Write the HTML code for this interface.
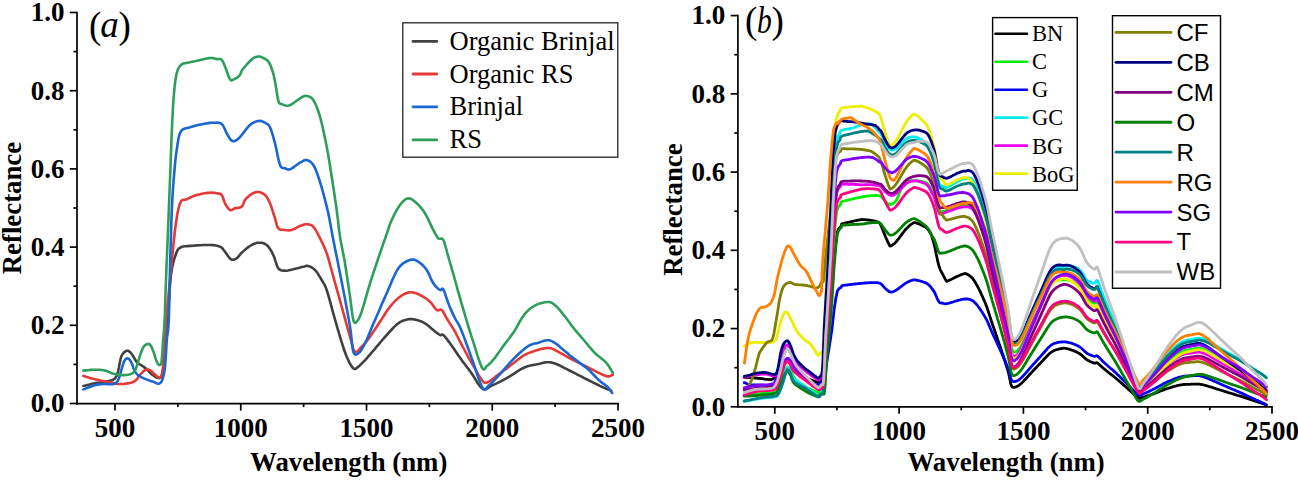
<!DOCTYPE html>
<html><head><meta charset="utf-8"><style>
html,body{margin:0;padding:0;background:#fff;width:1298px;height:480px;overflow:hidden}
svg{display:block}
.ax{stroke:#000;stroke-width:1.7;fill:none}
.tk{font-family:"Liberation Serif",serif;font-weight:bold;font-size:27px;fill:#000}
.lb{font-family:"Liberation Serif",serif;font-weight:bold;font-size:26.8px;fill:#000}
.la{font-family:"Liberation Serif",serif;font-size:26.5px;fill:#000}
.lga line{stroke-width:2.8;stroke-linecap:round}
.lb1{font-family:"Liberation Serif",serif;font-size:22.5px;fill:#000}
.lb2{font-family:"Liberation Sans",sans-serif;font-size:24px;fill:#000}
.pl{font-family:"Liberation Serif",serif;font-size:37px;fill:#000}
.it{font-style:italic}
</style></head><body>
<svg width="1298" height="480" viewBox="0 0 1298 480">
<rect width="1298" height="480" fill="#fff"/>
<path d="M83.4 386.0L85.5 385.5L87.6 384.9L89.7 384.4L91.8 383.8L93.8 383.4L95.7 383.0L97.5 382.7L99.3 382.5L101.2 382.2L103.0 381.9L105.0 381.6L107.0 381.3L109.0 381.0L110.9 380.6L112.5 380.0L113.8 379.3L114.8 378.6L115.6 377.6L116.4 376.3L117.2 374.4L118.0 371.6L118.8 367.9L119.5 364.0L120.3 360.3L121.0 357.5L121.7 355.6L122.5 354.2L123.2 353.3L124.0 352.5L124.7 351.9L125.4 351.3L126.2 351.0L126.9 350.8L127.7 350.8L128.4 351.0L129.1 351.4L129.9 352.0L130.6 352.7L131.4 353.6L132.2 354.7L133.1 356.0L134.0 357.6L134.9 359.3L135.9 360.9L136.9 362.2L138.0 363.2L139.1 364.0L140.3 364.7L141.4 365.3L142.5 366.0L143.5 366.7L144.4 367.4L145.4 368.2L146.3 368.9L147.2 369.7L148.1 370.6L149.0 371.6L149.9 372.6L150.8 373.5L151.9 374.4L153.1 375.3L154.5 376.3L155.9 377.1L157.2 377.8L158.4 378.0L159.4 378.0L160.2 377.7L161.0 377.1L161.6 376.1L162.2 374.4L162.7 371.9L163.1 368.7L163.4 365.0L163.7 361.2L164.0 357.5L164.4 353.9L164.8 350.1L165.2 346.3L165.6 342.5L166.0 338.8L166.4 334.9L166.8 330.8L167.2 326.9L167.5 323.2L167.8 320.0L168.0 317.7L168.0 316.1L168.1 314.7L168.1 312.8L168.3 310.0L168.6 305.8L168.9 300.6L169.3 295.0L169.6 289.6L170.0 285.0L170.3 281.3L170.6 278.2L170.9 275.4L171.3 272.7L171.7 270.0L172.2 267.2L172.8 264.4L173.5 261.6L174.2 259.1L175.0 256.7L175.8 254.5L176.5 252.5L177.3 250.6L178.4 249.0L180.0 247.7L182.1 246.8L184.6 246.3L187.3 246.1L190.3 245.9L193.3 245.7L196.5 245.4L200.1 245.2L203.6 245.0L207.0 245.0L210.0 245.0L212.5 245.1L214.7 245.3L216.7 245.7L218.4 246.1L220.0 246.7L221.3 247.4L222.3 248.3L223.2 249.4L224.0 250.5L225.0 251.7L226.1 253.2L227.3 255.0L228.6 256.8L229.8 258.3L231.0 259.3L232.2 259.7L233.3 259.7L234.5 259.4L235.6 258.9L236.7 258.3L237.7 257.5L238.6 256.4L239.5 255.2L240.5 254.0L241.7 252.7L243.1 251.4L244.8 249.9L246.5 248.5L248.3 247.1L250.0 246.0L251.7 245.0L253.3 244.2L255.0 243.5L256.6 242.9L258.3 242.7L260.0 242.7L261.7 242.8L263.5 243.3L265.1 244.0L266.7 245.0L268.2 246.5L269.5 248.3L270.9 250.4L272.1 252.7L273.3 255.0L274.4 257.6L275.3 260.6L276.3 263.6L277.2 266.3L278.3 268.3L279.5 269.5L280.8 270.2L282.1 270.5L283.5 270.6L285.0 270.7L286.5 270.7L288.1 270.5L289.8 270.1L291.5 269.7L293.3 269.3L295.3 268.8L297.4 268.3L299.6 267.7L301.6 267.1L303.3 266.7L304.6 266.4L305.6 266.1L306.4 265.9L307.3 265.8L308.3 266.0L309.5 266.4L310.9 267.0L312.2 267.7L313.6 268.7L315.0 270.0L316.4 271.6L317.8 273.6L319.1 275.7L320.5 277.9L321.7 280.0L322.8 281.8L323.7 283.4L324.7 285.0L325.6 287.1L326.7 290.0L327.9 293.8L329.2 298.4L330.6 303.3L331.9 308.4L333.3 313.3L334.6 318.0L336.0 322.8L337.3 327.6L338.7 332.2L340.0 336.7L341.3 341.1L342.7 345.3L344.0 349.5L345.4 353.3L346.7 356.7L348.1 359.8L349.4 362.6L350.8 365.0L352.1 367.0L353.3 368.3L354.3 368.9L355.3 368.9L356.1 368.5L357.1 367.7L358.3 366.7L359.7 365.5L361.3 364.0L363.1 362.2L364.9 360.3L366.7 358.3L368.6 356.2L370.6 353.9L372.6 351.5L374.7 349.1L376.7 346.7L378.7 344.4L380.6 342.0L382.6 339.7L384.6 337.3L386.7 335.0L388.9 332.5L391.3 330.0L393.7 327.4L396.1 325.1L398.3 323.3L400.4 321.9L402.5 320.9L404.5 320.2L406.4 319.7L408.3 319.3L410.1 319.1L411.8 319.1L413.4 319.3L415.1 319.6L416.7 320.0L418.4 320.4L420.0 321.0L421.7 321.6L423.3 322.4L425.0 323.3L426.7 324.4L428.4 325.8L430.1 327.3L431.7 328.7L433.3 330.0L434.8 331.2L436.3 332.4L437.6 333.4L438.9 334.3L440.0 335.0L440.8 335.2L441.4 335.0L441.9 334.6L442.5 334.5L443.3 335.0L444.4 336.0L445.5 337.4L446.9 339.1L448.4 341.1L450.0 343.3L451.9 345.9L454.0 349.0L456.2 352.2L458.4 355.5L460.6 358.6L462.7 361.5L464.8 364.3L466.9 367.0L469.1 369.9L471.2 372.8L473.5 376.2L475.8 380.0L478.1 383.7L480.4 386.8L482.6 388.8L484.6 389.3L486.5 388.9L488.3 387.8L490.3 386.4L492.5 385.2L495.0 384.1L497.7 382.8L500.6 381.4L503.6 379.8L506.7 378.1L510.1 376.1L513.7 373.8L517.4 371.4L521.0 369.2L524.4 367.5L527.5 366.3L530.5 365.5L533.4 364.9L536.1 364.5L538.5 364.0L540.6 363.5L542.4 363.0L544.1 362.6L545.7 362.3L547.4 362.2L549.1 362.2L550.7 362.4L552.3 362.7L554.1 363.2L556.2 364.0L558.7 365.0L561.4 366.3L564.2 367.8L567.3 369.4L570.4 371.0L573.8 372.7L577.4 374.6L581.1 376.4L584.7 378.3L588.1 380.0L591.3 381.6L594.3 383.1L597.2 384.5L599.9 385.9L602.3 387.0L604.4 387.9L606.2 388.7L607.8 389.3L609.4 389.9L611.1 390.5" stroke="#404040" stroke-width="2.6" fill="none" stroke-linejoin="round" stroke-linecap="round"/>
<path d="M83.4 375.9L84.6 376.3L85.7 376.7L86.9 377.1L88.3 377.5L90.0 378.0L92.2 378.6L94.9 379.2L97.7 379.8L100.5 380.5L103.0 381.0L105.2 381.4L107.2 381.8L109.2 382.2L110.9 382.5L112.5 382.8L113.8 383.1L114.8 383.4L115.7 383.7L116.7 383.9L118.0 384.0L119.7 384.0L121.6 384.0L123.7 383.9L125.7 383.7L127.5 383.4L129.2 383.1L130.8 382.7L132.3 382.3L133.7 381.7L135.0 381.0L136.1 380.1L137.1 378.9L138.0 377.7L138.8 376.4L139.7 375.3L140.6 374.2L141.6 373.2L142.5 372.2L143.5 371.3L144.4 370.6L145.3 370.1L146.2 369.7L147.2 369.5L148.1 369.5L149.0 369.7L149.9 370.1L150.9 370.8L151.9 371.7L152.8 372.6L153.8 373.4L154.7 374.2L155.7 375.1L156.7 376.0L157.6 376.7L158.4 377.2L159.1 377.4L159.7 377.5L160.3 377.4L160.8 377.0L161.2 376.2L161.7 375.2L162.0 374.0L162.4 372.4L162.7 370.3L163.0 367.8L163.3 364.7L163.7 361.1L164.0 357.1L164.3 352.7L164.6 348.0L164.9 342.8L165.1 337.0L165.4 331.0L165.7 325.2L166.0 320.0L166.4 315.5L166.8 311.4L167.2 307.6L167.6 303.9L168.0 300.0L168.4 296.5L168.7 293.4L169.0 290.2L169.4 285.9L170.0 280.0L170.8 271.5L171.8 261.0L172.9 249.8L174.0 239.0L175.0 230.0L176.0 222.8L176.9 216.6L177.9 211.2L178.9 206.8L180.0 203.3L181.2 201.1L182.4 200.1L183.7 199.8L185.1 199.8L186.7 199.3L188.4 198.4L190.3 197.5L192.3 196.6L194.4 195.7L196.7 195.0L199.3 194.4L202.1 193.8L205.0 193.3L207.7 192.9L210.0 192.7L211.8 192.6L213.2 192.7L214.5 192.8L215.6 193.1L216.7 193.3L217.8 193.5L218.9 193.6L219.9 193.8L220.8 194.2L221.7 195.0L222.4 196.3L223.1 197.9L223.6 199.8L224.3 201.6L225.0 203.3L225.9 204.9L226.9 206.5L227.9 208.0L229.0 209.2L230.0 210.0L231.0 210.2L231.9 209.9L232.9 209.4L233.9 208.8L235.0 208.3L236.3 208.1L237.7 207.9L239.2 207.7L240.6 207.3L241.7 206.7L242.5 205.7L243.1 204.4L243.6 202.9L244.2 201.4L245.0 200.0L246.1 198.7L247.4 197.4L248.9 196.1L250.3 194.9L251.7 194.0L253.0 193.3L254.3 192.7L255.7 192.2L257.0 192.0L258.3 192.0L259.7 192.2L261.1 192.6L262.4 193.2L263.8 194.0L265.0 195.0L266.1 196.2L267.1 197.6L268.1 199.2L269.0 201.1L270.0 203.3L271.0 206.0L272.1 209.1L273.1 212.3L274.1 215.5L275.0 218.3L275.7 220.8L276.3 223.1L276.8 225.1L277.4 226.9L278.3 228.3L279.4 229.2L280.7 229.7L282.2 229.8L283.6 229.9L285.0 230.0L286.3 230.2L287.6 230.3L288.9 230.4L290.3 230.3L291.7 230.0L293.3 229.4L295.0 228.6L296.7 227.6L298.4 226.7L300.0 226.0L301.4 225.4L302.8 225.0L304.1 224.6L305.4 224.3L306.7 224.3L308.0 224.4L309.3 224.5L310.7 224.9L312.0 225.6L313.3 226.7L314.6 228.4L316.0 230.5L317.3 233.0L318.7 235.6L320.0 238.3L321.3 240.9L322.7 243.7L324.0 246.5L325.4 249.7L326.7 253.3L328.0 257.3L329.3 261.7L330.5 266.5L331.9 271.5L333.3 276.7L334.9 282.3L336.5 288.2L338.3 294.4L340.0 300.6L341.7 306.7L343.4 312.9L345.2 319.4L346.9 325.8L348.6 331.7L350.0 336.7L351.2 341.0L352.2 344.7L353.0 347.9L353.9 350.2L355.0 351.7L356.2 352.1L357.5 351.4L358.8 350.0L360.2 348.3L361.7 346.7L363.2 345.1L364.8 343.3L366.5 341.3L368.2 339.1L370.0 336.7L371.9 334.0L373.9 331.1L375.9 327.9L378.0 324.8L380.0 321.7L382.0 318.6L384.0 315.5L386.0 312.3L388.0 309.4L390.0 306.7L392.0 304.3L394.0 302.1L396.0 300.1L398.0 298.3L400.0 296.7L402.0 295.3L404.0 294.2L406.0 293.3L408.0 292.6L410.0 292.3L412.0 292.3L414.0 292.7L416.0 293.3L418.0 294.1L420.0 295.0L422.1 296.1L424.2 297.3L426.2 298.7L428.2 300.2L430.0 301.7L431.6 303.4L433.0 305.3L434.3 307.2L435.5 308.8L436.7 310.0L437.8 310.4L438.8 310.2L439.8 309.8L440.7 309.6L441.7 310.0L442.6 311.0L443.5 312.5L444.5 314.2L445.5 316.2L446.7 318.3L448.2 320.7L449.9 323.4L451.7 326.3L453.5 329.1L455.0 331.7L456.2 333.9L457.2 335.9L458.1 337.8L459.2 340.0L460.6 342.7L462.4 346.1L464.5 350.0L466.7 354.1L469.0 358.3L471.2 362.2L473.5 366.1L475.8 370.2L478.0 374.1L480.1 377.5L481.9 380.0L483.2 381.6L484.2 382.5L485.1 382.8L486.0 382.7L487.2 382.4L488.6 381.8L490.2 380.8L491.9 379.5L493.8 378.0L496.0 376.4L498.5 374.6L501.3 372.5L504.3 370.2L507.3 367.9L510.2 365.7L513.0 363.5L515.9 361.2L518.7 359.0L521.6 356.9L524.4 355.1L527.3 353.6L530.2 352.4L533.1 351.4L535.9 350.6L538.5 349.8L540.9 349.1L543.1 348.6L545.2 348.2L547.2 348.0L549.2 348.0L551.0 348.3L552.7 348.9L554.3 349.7L556.0 350.6L558.0 351.6L560.2 352.8L562.6 354.2L565.1 355.6L567.7 357.1L570.4 358.6L573.1 360.0L576.0 361.4L578.8 362.9L581.7 364.3L584.6 365.7L587.5 367.2L590.5 368.7L593.5 370.2L596.3 371.6L598.8 372.8L600.9 373.8L602.8 374.8L604.6 375.5L606.1 376.1L607.6 376.4L608.9 376.4L610.0 376.1L611.0 375.6L611.9 375.0L612.9 374.6" stroke="#e53935" stroke-width="2.6" fill="none" stroke-linejoin="round" stroke-linecap="round"/>
<path d="M83.4 389.4L85.5 388.6L87.6 387.8L89.7 387.0L91.8 386.2L93.8 385.6L95.6 385.1L97.4 384.7L99.2 384.4L101.0 384.2L103.0 384.0L105.3 384.0L107.7 384.1L110.2 384.2L112.5 384.1L114.4 383.8L115.8 383.1L116.7 382.3L117.5 381.3L118.2 379.9L119.0 378.0L120.0 375.3L120.9 371.8L121.9 368.1L122.9 364.8L123.8 362.2L124.6 360.6L125.3 359.5L126.0 358.8L126.8 358.5L127.5 358.4L128.2 358.6L129.0 359.1L129.8 359.9L130.5 361.0L131.2 362.2L132.0 363.8L132.7 365.8L133.4 367.9L134.2 369.9L135.0 371.6L135.8 372.8L136.6 373.8L137.5 374.7L138.5 375.5L139.7 376.2L141.2 377.1L142.9 377.9L144.7 378.7L146.4 379.4L148.0 380.0L149.3 380.5L150.5 380.9L151.7 381.2L152.7 381.6L153.8 381.9L154.8 382.4L155.7 382.9L156.7 383.4L157.5 383.7L158.4 383.8L159.2 383.5L160.0 383.1L160.8 382.4L161.5 381.4L162.2 380.0L162.8 378.2L163.4 376.2L164.0 373.7L164.5 370.6L165.0 366.9L165.4 362.1L165.8 356.3L166.2 350.1L166.5 344.0L166.9 338.8L167.3 335.2L167.6 333.0L168.0 330.7L168.4 326.9L168.8 320.0L169.1 309.0L169.5 294.7L169.8 279.0L170.1 263.5L170.5 250.0L170.9 238.4L171.2 227.6L171.5 217.6L171.9 208.4L172.3 200.0L172.7 192.6L173.2 186.1L173.6 180.3L174.1 175.0L174.5 170.0L174.9 165.3L175.3 161.2L175.7 157.4L176.1 153.7L176.7 150.0L177.3 146.0L177.9 141.9L178.6 137.9L179.5 134.4L180.7 131.7L182.2 129.9L183.8 128.9L185.7 128.3L187.8 127.9L190.0 127.3L192.5 126.5L195.2 125.8L198.0 125.1L200.8 124.5L203.3 124.0L205.5 123.6L207.6 123.2L209.6 122.9L211.5 122.8L213.3 122.7L215.1 122.7L216.9 122.6L218.7 122.8L220.3 123.2L221.7 124.0L222.9 125.4L223.9 127.2L224.9 129.3L225.8 131.4L226.7 133.3L227.7 135.0L228.7 136.8L229.7 138.4L230.7 139.8L231.7 140.7L232.7 141.1L233.7 141.2L234.7 141.0L235.7 140.5L236.7 140.0L237.6 139.4L238.5 138.5L239.5 137.6L240.5 136.4L241.7 135.0L243.1 133.2L244.8 131.1L246.5 128.8L248.3 126.7L250.0 125.0L251.7 123.7L253.4 122.7L255.1 121.9L256.7 121.3L258.3 121.0L259.8 120.9L261.2 121.1L262.5 121.5L263.8 122.1L265.0 122.7L266.1 123.3L267.1 123.8L268.1 124.5L269.0 125.6L270.0 127.3L271.0 129.7L272.0 132.6L273.0 135.9L274.0 139.6L275.0 143.3L276.0 147.6L277.0 152.5L278.0 157.4L279.0 161.7L280.0 165.0L281.0 166.9L282.0 167.8L283.0 168.0L284.0 168.1L285.0 168.3L286.0 168.7L286.9 169.1L287.9 169.4L288.9 169.5L290.0 169.3L291.3 168.7L292.7 167.9L294.2 166.8L295.6 165.8L296.7 165.0L297.5 164.4L298.1 164.0L298.6 163.6L299.2 163.2L300.0 162.7L301.1 162.1L302.4 161.3L303.9 160.5L305.3 160.1L306.7 160.0L308.1 160.4L309.4 161.1L310.8 162.1L312.1 163.4L313.3 165.0L314.4 166.8L315.4 169.0L316.4 171.3L317.3 173.9L318.3 176.7L319.3 179.7L320.3 182.8L321.3 186.2L322.3 189.7L323.3 193.3L324.3 197.0L325.3 200.9L326.3 204.9L327.3 209.0L328.3 213.3L329.2 217.8L330.1 222.6L331.0 227.4L331.9 232.2L332.7 236.7L333.5 240.7L334.2 244.3L334.9 247.9L335.7 251.9L336.7 256.7L337.9 262.5L339.1 268.9L340.5 275.8L341.9 282.9L343.3 290.0L344.7 297.3L346.1 305.0L347.6 312.7L348.9 320.1L350.0 326.7L350.9 332.8L351.5 338.7L352.0 343.9L352.6 348.4L353.3 351.7L354.2 353.7L355.1 354.6L356.1 354.6L357.2 354.1L358.3 353.3L359.5 352.3L360.7 350.8L362.0 348.8L363.4 346.3L365.0 343.3L366.8 339.5L368.7 335.1L370.7 330.2L372.8 325.1L375.0 320.0L377.2 314.9L379.6 309.5L381.9 304.0L384.3 298.6L386.7 293.3L389.0 287.9L391.3 282.4L393.7 277.0L396.0 272.2L398.3 268.3L400.7 265.4L403.1 263.3L405.6 261.8L407.9 260.8L410.0 260.0L411.9 259.6L413.6 259.6L415.1 260.1L416.7 260.8L418.3 261.7L420.0 262.9L421.7 264.3L423.5 266.0L425.1 267.9L426.7 270.0L428.1 272.4L429.5 275.3L430.7 278.2L432.0 281.0L433.3 283.3L434.7 285.2L436.1 286.8L437.6 288.2L438.9 289.2L440.0 290.0L440.9 290.1L441.5 289.5L442.0 288.9L442.6 288.6L443.3 289.3L444.2 291.1L445.1 293.8L446.1 296.9L447.2 300.2L448.3 303.3L449.5 306.3L450.9 309.5L452.3 312.6L453.7 315.6L455.0 318.3L456.1 320.4L457.1 321.9L458.0 323.3L459.2 325.4L460.6 328.5L462.4 333.0L464.5 338.4L466.7 344.5L469.0 350.8L471.2 356.9L473.6 363.5L476.0 370.8L478.4 377.9L480.6 383.9L482.6 388.0L484.1 389.7L485.3 389.7L486.4 388.5L487.5 386.8L489.0 385.2L490.8 383.7L492.8 381.8L494.9 379.6L497.2 377.2L499.6 374.6L502.2 371.7L505.0 368.4L507.9 365.0L510.9 361.7L513.8 358.6L516.7 355.8L519.6 353.0L522.6 350.4L525.4 348.1L528.0 346.2L530.4 345.0L532.5 344.1L534.6 343.6L536.6 343.2L538.5 342.7L540.4 342.1L542.3 341.4L544.0 340.8L545.8 340.4L547.4 340.2L548.9 340.3L550.3 340.6L551.6 341.1L553.0 341.8L554.5 342.7L556.1 343.8L557.8 345.1L559.6 346.6L561.4 348.2L563.3 349.8L565.3 351.4L567.3 353.1L569.4 354.9L571.6 356.7L574.0 358.6L576.7 360.6L579.6 362.7L582.5 364.9L585.4 367.1L588.1 369.3L590.5 371.5L592.7 373.8L594.8 376.0L596.8 378.1L598.8 380.0L600.7 381.7L602.6 383.1L604.5 384.4L606.1 385.7L607.6 387.0L608.8 388.3L609.7 389.5L610.6 390.6L611.3 391.8L612.2 393.0" stroke="#1a66d2" stroke-width="2.6" fill="none" stroke-linejoin="round" stroke-linecap="round"/>
<path d="M83.4 370.6L85.9 370.4L88.4 370.2L90.9 369.9L93.3 369.8L95.6 369.7L97.7 369.7L99.7 369.8L101.5 370.0L103.3 370.3L105.0 370.6L106.6 371.1L108.1 371.6L109.6 372.3L111.0 372.9L112.5 373.4L114.0 373.8L115.4 374.2L116.9 374.6L118.4 374.8L120.0 375.0L121.8 375.1L123.8 375.1L125.8 375.0L127.7 374.8L129.4 374.4L130.8 374.0L132.0 373.5L133.1 372.8L134.1 371.9L135.0 370.6L135.9 368.8L136.6 366.7L137.3 364.3L138.0 361.8L138.8 359.4L139.6 356.9L140.5 354.2L141.4 351.5L142.4 349.1L143.4 347.2L144.5 345.8L145.7 344.8L146.8 344.2L148.0 343.9L149.0 344.0L149.9 344.5L150.6 345.5L151.4 346.8L152.1 348.3L152.8 350.0L153.6 352.0L154.4 354.5L155.2 357.0L155.9 359.4L156.6 361.2L157.2 362.6L157.8 363.6L158.4 364.4L158.9 364.9L159.4 365.0L159.9 365.0L160.4 364.8L160.8 364.2L161.2 363.1L161.6 361.2L161.9 358.5L162.2 355.0L162.5 351.0L162.7 346.7L163.0 342.5L163.3 338.5L163.6 334.6L164.0 330.4L164.3 325.7L164.6 320.0L164.9 313.8L165.1 307.2L165.3 299.7L165.6 290.8L166.0 280.0L166.5 266.4L167.2 250.4L167.9 233.2L168.6 216.0L169.2 200.0L169.8 184.8L170.4 169.5L170.9 154.9L171.4 141.5L171.9 130.0L172.3 120.8L172.7 113.4L173.0 107.2L173.3 101.7L173.8 96.2L174.2 90.8L174.7 85.8L175.3 81.2L175.9 77.2L176.6 73.8L177.4 71.0L178.2 68.9L179.1 67.2L180.1 65.9L181.2 64.8L182.5 63.9L184.0 63.3L185.5 63.1L187.1 62.8L188.8 62.5L190.5 62.1L192.4 61.7L194.3 61.3L196.2 61.0L198.0 60.6L199.7 60.2L201.3 59.8L202.8 59.4L204.2 59.0L205.6 58.8L206.9 58.5L208.0 58.3L209.1 58.1L210.2 58.0L211.2 58.0L212.4 58.1L213.6 58.3L214.7 58.6L215.8 58.9L216.9 59.1L217.9 59.1L218.9 59.0L219.8 59.0L220.7 59.1L221.6 59.7L222.4 60.7L223.1 62.0L223.8 63.5L224.5 65.3L225.3 67.2L226.2 69.5L227.2 72.3L228.1 75.2L229.1 77.7L230.0 79.4L230.8 80.2L231.5 80.5L232.2 80.3L232.9 79.8L233.8 79.4L234.8 78.9L236.0 78.2L237.3 77.4L238.4 76.5L239.4 75.6L240.1 74.6L240.6 73.5L241.1 72.3L241.6 71.1L242.2 70.0L243.0 68.9L243.9 67.8L244.9 66.6L245.9 65.5L246.9 64.4L248.0 63.2L249.1 62.0L250.2 60.8L251.4 59.7L252.5 58.8L253.6 58.0L254.8 57.4L255.9 57.0L257.0 56.7L258.1 56.5L259.1 56.5L260.0 56.6L260.9 56.9L261.8 57.3L262.8 57.8L263.9 58.3L265.0 58.8L266.2 59.5L267.3 60.4L268.4 61.6L269.4 63.2L270.3 65.1L271.2 67.3L272.0 69.6L272.8 71.9L273.5 74.3L274.0 76.8L274.6 79.4L275.1 82.1L275.6 85.0L276.2 88.2L276.7 91.8L277.3 95.4L277.8 98.6L278.4 101.0L278.9 102.5L279.3 103.2L279.8 103.5L280.4 103.7L281.2 104.0L282.5 104.5L283.9 105.0L285.5 105.5L287.2 105.7L288.8 105.6L290.3 105.1L291.8 104.2L293.4 103.1L294.9 102.0L296.2 101.0L297.5 100.1L298.7 99.3L299.8 98.5L300.9 97.8L301.9 97.2L302.9 96.7L303.8 96.3L304.7 96.0L305.6 95.9L306.7 96.0L307.9 96.3L309.2 96.6L310.6 97.2L311.9 98.3L313.3 100.0L314.6 102.3L316.0 105.1L317.3 108.5L318.7 112.3L320.0 116.7L321.4 121.8L322.8 127.7L324.1 134.1L325.5 140.5L326.7 146.7L327.8 152.6L328.8 158.5L329.8 164.5L330.7 170.5L331.7 176.7L332.7 183.3L333.8 190.1L334.8 197.0L335.8 203.7L336.7 210.0L337.4 215.8L338.1 221.2L338.6 226.3L339.3 231.5L340.0 236.7L340.9 241.9L341.9 247.0L342.9 252.2L344.0 257.5L345.0 263.3L346.0 269.7L347.1 276.7L348.1 283.7L349.1 290.6L350.0 296.7L350.8 302.4L351.4 307.8L352.1 312.7L352.7 316.9L353.3 320.0L353.9 321.9L354.6 322.8L355.2 322.9L355.9 322.5L356.7 321.7L357.5 320.7L358.4 319.4L359.4 317.6L360.5 315.1L361.7 311.7L363.1 307.2L364.7 301.7L366.4 295.7L368.2 289.4L370.0 283.3L372.0 277.2L374.1 270.8L376.2 264.5L378.2 258.5L380.0 253.3L381.5 249.0L382.7 245.4L383.8 242.2L384.9 239.2L386.0 236.0L387.1 232.7L388.2 229.5L389.2 226.3L390.4 223.1L391.7 220.0L393.2 216.8L394.8 213.5L396.6 210.4L398.3 207.5L400.0 205.0L401.7 202.9L403.3 201.2L405.0 199.7L406.6 198.8L408.3 198.3L410.0 198.5L411.7 199.2L413.3 200.4L415.0 201.8L416.7 203.3L418.4 204.9L420.0 206.6L421.7 208.6L423.3 210.8L425.0 213.3L426.7 216.3L428.5 219.9L430.2 223.6L431.9 227.1L433.3 230.0L434.5 232.3L435.5 234.2L436.5 235.9L437.4 237.2L438.3 238.3L439.3 238.8L440.3 238.7L441.3 238.6L442.3 238.8L443.3 240.0L444.3 242.3L445.2 245.3L446.2 248.8L447.2 252.7L448.3 256.7L449.5 261.0L450.9 265.7L452.3 270.6L453.7 275.4L455.0 280.0L456.1 284.0L457.1 287.6L458.0 291.2L459.2 295.2L460.6 300.2L462.4 306.4L464.5 313.4L466.7 321.0L469.0 328.5L471.2 335.6L473.5 342.7L475.8 350.2L478.0 357.3L480.1 363.3L481.9 367.5L483.3 369.4L484.3 369.5L485.2 368.4L486.1 366.9L487.2 365.7L488.5 364.7L489.8 363.5L491.3 362.1L492.7 360.4L494.3 358.6L495.9 356.5L497.6 354.1L499.4 351.6L501.2 348.9L503.1 346.2L505.1 343.6L507.2 340.8L509.4 338.0L511.6 335.1L513.8 332.0L515.9 328.6L518.0 324.8L520.1 321.0L522.3 317.4L524.4 314.4L526.5 312.0L528.6 310.0L530.6 308.3L532.8 306.8L535.0 305.5L537.4 304.4L540.1 303.4L542.7 302.7L545.2 302.2L547.4 302.0L549.1 302.0L550.5 302.3L551.8 302.9L553.1 303.7L554.5 304.8L556.1 306.2L557.8 307.9L559.6 309.9L561.4 312.1L563.3 314.4L565.3 317.0L567.4 319.8L569.6 322.8L571.8 325.7L574.0 328.5L576.1 331.1L578.2 333.6L580.4 336.1L582.5 338.5L584.6 341.0L586.7 343.5L588.8 346.1L591.0 348.6L593.1 351.1L595.2 353.3L597.4 355.3L599.6 357.0L601.8 358.7L603.9 360.4L605.8 362.2L607.4 364.2L608.9 366.3L610.2 368.5L611.5 370.7L612.9 372.8" stroke="#2e9e5b" stroke-width="2.6" fill="none" stroke-linejoin="round" stroke-linecap="round"/>
<path d="M745.0 377.5L746.4 377.6L747.8 377.6L749.1 377.7L750.5 377.7L752.0 377.8L753.5 377.9L755.0 378.0L756.5 378.2L758.2 378.3L760.0 378.5L762.1 378.7L764.5 379.1L767.0 379.4L769.2 379.5L771.0 379.5L772.2 379.3L773.1 378.9L773.7 378.4L774.3 377.6L775.0 376.6L775.8 375.3L776.6 373.6L777.5 371.8L778.3 369.9L779.0 368.0L779.7 366.0L780.3 364.0L780.8 361.9L781.4 359.8L782.0 358.0L782.6 356.3L783.2 354.7L783.8 353.3L784.4 352.0L785.0 351.0L785.5 350.2L786.0 349.6L786.5 349.2L787.0 349.0L787.5 349.0L788.0 349.2L788.4 349.6L788.9 350.1L789.4 350.9L790.0 352.0L790.7 353.4L791.5 355.3L792.3 357.3L793.2 359.2L794.0 361.0L794.8 362.5L795.5 363.8L796.2 365.1L797.1 366.5L798.0 368.0L799.1 369.8L800.3 371.9L801.6 374.0L803.0 375.9L804.2 377.3L805.4 378.2L806.5 378.7L807.7 379.0L808.8 379.2L810.0 379.5L811.2 380.0L812.5 380.5L813.7 380.9L814.8 381.4L815.8 381.7L816.6 382.0L817.2 382.3L817.7 382.5L818.2 382.5L818.8 382.4L819.3 382.0L819.9 381.3L820.5 380.6L821.1 379.7L821.7 379.0L822.3 379.0L822.7 379.0L823.0 379.0L823.4 379.0L823.8 379.0L824.1 377.9L824.5 374.4L824.9 371.0L825.3 365.8L825.6 359.9L826.0 353.9L826.4 348.7L826.8 344.9L827.1 341.2L827.5 337.4L827.9 333.7L828.2 329.9L828.6 326.1L829.0 322.4L829.4 318.5L829.7 314.6L830.1 310.7L830.5 306.8L830.9 302.9L831.2 299.0L831.6 294.6L832.0 289.3L832.4 284.1L832.7 278.8L833.1 273.5L833.5 268.2L833.8 262.9L834.2 258.6L834.6 254.6L835.0 250.7L835.3 246.8L835.7 242.8L836.1 240.2L836.5 237.5L836.8 234.8L837.2 232.1L837.6 231.3L837.9 230.5L838.3 229.7L838.7 228.8L839.1 228.2L839.4 227.8L839.8 227.5L840.2 227.1L840.6 226.8L840.9 226.5L841.3 226.1L841.4 224.2L842.2 223.8L842.9 223.5L843.7 223.3L844.4 223.1L845.2 223.0L845.9 222.9L846.6 222.7L847.4 222.6L848.1 222.4L848.9 222.2L849.6 222.0L850.4 221.8L851.1 221.7L851.9 221.5L852.6 221.3L853.4 221.2L854.1 221.0L854.8 220.8L855.6 220.7L856.3 220.5L857.1 220.4L857.8 220.2L858.6 220.1L859.3 220.0L860.1 219.8L860.8 219.7L861.6 219.5L862.3 219.5L863.1 219.6L863.8 219.6L864.5 219.7L865.3 219.7L866.0 219.8L866.8 219.9L867.5 219.9L868.3 220.0L869.0 220.1L869.8 220.2L870.5 220.3L871.3 220.5L872.0 220.6L872.7 220.7L873.5 220.9L874.2 221.0L875.0 221.1L875.7 221.3L876.5 221.5L877.2 221.7L878.0 222.0L878.7 222.3L879.5 222.9L880.2 224.1L881.0 225.5L881.7 227.1L882.4 228.9L883.2 230.9L883.9 232.9L884.7 234.8L885.4 236.5L886.2 238.3L886.9 240.0L887.7 241.6L888.4 243.2L889.2 244.7L889.9 246.0L890.6 245.9L891.4 245.6L892.1 245.3L892.9 244.7L893.6 244.2L894.4 243.5L895.1 242.8L895.9 242.1L896.6 241.2L897.4 240.3L898.1 239.3L898.9 238.4L899.6 237.4L900.3 236.4L901.1 235.4L901.8 234.4L902.6 233.3L903.3 232.3L904.1 231.3L904.8 230.4L905.6 229.5L906.3 228.7L907.1 227.9L907.8 227.2L908.5 226.5L909.3 225.8L910.0 225.2L910.8 224.6L911.5 224.1L912.3 223.6L913.0 223.1L913.8 222.6L914.5 222.6L915.3 222.7L916.0 222.9L916.8 223.1L917.5 223.4L918.2 223.7L919.0 224.0L919.7 224.3L920.5 224.6L921.2 225.0L922.0 225.3L922.7 225.7L923.5 226.1L924.2 226.4L925.0 226.8L925.7 227.3L926.4 227.8L927.2 228.5L927.9 229.3L928.7 230.3L929.4 231.4L930.2 232.7L930.9 234.0L931.7 235.8L932.4 238.4L933.2 240.9L933.9 243.5L934.6 246.4L935.4 249.8L936.1 253.5L936.9 257.2L937.6 260.7L938.4 263.9L939.1 266.6L939.9 268.7L940.6 270.4L941.4 271.8L942.1 273.1L942.9 274.5L943.6 276.0L944.3 277.5L945.1 278.9L945.8 280.1L946.6 281.3L947.3 281.1L948.1 280.8L948.8 280.4L949.6 280.1L950.3 279.8L951.1 279.4L951.8 279.0L952.5 278.7L953.3 278.3L954.0 277.9L954.8 277.6L955.5 277.2L956.3 276.8L957.0 276.4L957.8 276.1L958.5 275.8L959.3 275.5L960.0 275.2L960.8 274.9L961.5 274.6L962.2 274.3L963.0 274.0L963.7 273.8L964.5 273.6L965.2 273.5L966.0 273.7L966.7 274.0L967.5 274.4L968.2 274.8L969.0 275.3L969.7 275.9L970.4 276.4L971.2 277.1L971.9 277.8L972.7 278.6L973.4 279.6L974.2 280.6L974.9 281.8L975.7 283.1L976.4 284.4L977.2 285.7L977.9 287.1L978.7 288.5L979.4 290.0L980.1 291.5L980.9 293.1L981.6 294.8L982.4 296.4L983.1 298.1L983.9 299.8L984.6 301.5L985.4 303.3L986.1 305.2L986.9 307.1L987.6 309.3L988.3 311.5L989.1 313.9L989.8 316.2L990.6 318.6L991.3 320.9L992.1 323.1L992.8 325.3L993.6 327.4L994.3 329.6L995.1 331.8L995.8 333.9L996.6 336.1L997.3 338.3L998.0 340.4L998.8 342.6L999.5 344.8L1000.3 347.0L1001.0 349.2L1001.8 351.5L1002.5 353.8L1003.3 356.0L1004.0 358.3L1004.8 360.6L1005.5 363.0L1006.2 365.3L1007.0 367.7L1007.7 370.2L1008.5 372.9L1009.2 376.0L1010.0 379.9L1010.7 383.6L1011.5 385.9L1012.2 386.9L1013.0 387.3L1013.7 387.4L1014.5 387.3L1015.2 387.1L1015.9 386.9L1016.7 386.6L1017.4 386.2L1018.2 385.8L1018.9 385.3L1019.7 384.7L1020.4 384.1L1021.2 383.5L1021.9 382.8L1022.7 382.1L1023.4 381.4L1024.1 380.6L1024.9 379.8L1025.6 379.0L1026.4 378.1L1027.1 377.3L1027.9 376.5L1028.6 375.7L1029.4 374.8L1030.1 374.0L1030.9 373.2L1031.6 372.4L1032.3 371.6L1033.1 370.8L1033.8 370.0L1034.6 369.3L1035.3 368.5L1036.1 367.7L1036.8 366.9L1037.6 366.1L1038.3 365.3L1039.1 364.5L1039.8 363.8L1040.6 363.0L1041.3 362.2L1042.0 361.4L1042.8 360.7L1043.5 359.8L1044.3 359.0L1045.0 358.2L1045.8 357.4L1046.5 356.6L1047.3 355.8L1048.0 355.0L1048.8 354.3L1049.5 353.6L1050.2 353.0L1051.0 352.4L1051.7 351.9L1052.5 351.4L1053.2 351.0L1054.0 350.6L1054.7 350.3L1055.5 350.0L1056.2 349.7L1057.0 349.5L1057.7 349.3L1058.5 349.1L1059.2 348.9L1059.9 348.8L1060.7 348.6L1061.4 348.5L1062.2 348.4L1062.9 348.3L1063.7 348.2L1064.4 348.2L1065.2 348.3L1065.9 348.4L1066.7 348.6L1067.4 348.7L1068.1 348.9L1068.9 349.1L1069.6 349.3L1070.4 349.6L1071.1 349.8L1071.9 350.1L1072.6 350.3L1073.4 350.6L1074.1 350.9L1074.9 351.2L1075.6 351.6L1076.4 351.9L1077.1 352.3L1077.8 352.7L1078.6 353.1L1079.3 353.5L1080.1 354.0L1080.8 354.5L1081.6 355.1L1082.3 355.8L1083.1 356.5L1083.8 357.2L1084.6 357.9L1085.3 358.5L1086.0 359.1L1086.8 359.7L1087.5 360.1L1088.3 360.6L1089.0 360.9L1089.8 361.3L1090.5 361.7L1091.3 362.0L1092.0 362.3L1092.8 362.6L1093.5 362.8L1094.3 363.1L1095.0 363.1L1095.7 362.9L1096.5 362.7L1097.2 362.9L1098.0 363.4L1098.7 364.0L1099.5 364.7L1100.2 365.4L1101.0 366.1L1101.7 366.8L1102.5 367.4L1103.2 368.1L1103.9 368.7L1104.7 369.3L1105.4 369.9L1106.2 370.5L1106.9 371.2L1107.7 371.8L1108.4 372.4L1109.2 373.0L1109.9 373.6L1110.7 374.1L1111.4 374.7L1112.2 375.2L1112.9 375.8L1113.6 376.4L1114.4 377.0L1115.1 377.6L1115.9 378.2L1116.6 378.9L1117.4 379.5L1118.1 380.2L1118.9 380.8L1119.6 381.5L1120.4 382.1L1121.1 382.8L1121.8 383.4L1122.6 384.1L1123.3 384.8L1124.1 385.4L1124.8 386.1L1125.6 386.7L1126.3 387.4L1127.1 388.1L1127.8 388.7L1128.6 389.4L1129.3 390.1L1130.0 390.8L1130.8 391.5L1131.5 392.1L1132.3 392.8L1133.0 393.5L1133.8 394.2L1134.5 394.8L1135.3 395.5L1136.0 396.1L1136.8 396.7L1137.5 397.3L1138.3 397.8L1139.0 398.2L1139.7 398.4L1140.5 398.3L1141.2 398.0L1142.0 397.6L1142.7 397.3L1143.5 397.0L1144.2 396.8L1145.0 396.6L1145.7 396.4L1146.5 396.2L1147.2 395.9L1147.9 395.7L1148.7 395.5L1149.4 395.2L1150.2 394.9L1150.9 394.7L1151.7 394.4L1152.4 394.2L1153.2 393.9L1153.9 393.6L1154.7 393.4L1155.4 393.1L1156.2 392.8L1156.9 392.5L1157.6 392.2L1158.4 391.9L1159.1 391.6L1159.9 391.3L1160.6 391.0L1161.4 390.7L1162.1 390.4L1162.9 390.1L1163.6 389.9L1164.4 389.6L1165.1 389.3L1165.8 389.0L1166.6 388.8L1167.3 388.5L1168.1 388.3L1168.8 388.0L1169.6 387.8L1170.3 387.6L1171.1 387.3L1171.8 387.1L1172.6 386.9L1173.3 386.7L1174.1 386.5L1174.8 386.3L1175.5 386.1L1176.3 385.9L1177.0 385.7L1177.8 385.5L1178.5 385.4L1179.3 385.2L1180.0 385.0L1180.8 384.9L1181.5 384.8L1182.3 384.7L1183.0 384.6L1183.7 384.5L1184.5 384.5L1185.2 384.4L1186.0 384.4L1186.7 384.3L1187.5 384.3L1188.2 384.3L1189.0 384.3L1189.7 384.3L1190.5 384.3L1191.2 384.2L1192.0 384.2L1192.7 384.2L1193.4 384.2L1194.2 384.2L1194.9 384.1L1195.7 384.1L1196.4 384.1L1197.2 384.1L1197.9 384.1L1198.7 384.2L1199.4 384.2L1200.2 384.3L1200.9 384.4L1201.6 384.5L1202.4 384.7L1203.1 384.8L1203.9 385.0L1204.6 385.2L1205.4 385.4L1206.1 385.6L1206.9 385.8L1207.6 386.0L1208.4 386.3L1209.1 386.5L1209.8 386.7L1210.6 386.9L1211.3 387.2L1212.1 387.4L1212.8 387.6L1213.6 387.9L1214.3 388.1L1215.1 388.3L1215.8 388.6L1216.6 388.8L1217.3 389.1L1218.1 389.3L1218.8 389.5L1219.5 389.8L1220.3 390.0L1221.0 390.2L1221.8 390.5L1222.5 390.7L1223.3 390.9L1224.0 391.2L1224.8 391.4L1225.5 391.6L1226.3 391.9L1227.0 392.1L1227.7 392.3L1228.5 392.6L1229.2 392.8L1230.0 393.0L1230.7 393.2L1231.5 393.5L1232.2 393.7L1233.0 393.9L1233.7 394.1L1234.5 394.4L1235.2 394.6L1236.0 394.8L1236.7 395.1L1237.4 395.3L1238.2 395.5L1238.9 395.7L1239.7 396.0L1240.4 396.2L1241.2 396.4L1241.9 396.7L1242.7 396.9L1243.4 397.2L1244.2 397.4L1244.9 397.7L1245.6 397.9L1246.4 398.2L1247.1 398.4L1247.9 398.7L1248.6 399.0L1249.4 399.2L1250.1 399.5L1250.9 399.7L1251.6 400.0L1252.4 400.2L1253.1 400.5L1253.9 400.7L1254.6 400.9L1255.3 401.2L1256.1 401.4L1256.8 401.6L1257.6 401.9L1258.3 402.1L1259.1 402.3L1259.8 402.6L1260.6 402.8L1261.3 403.1L1262.1 403.3L1262.8 403.6L1263.5 403.8L1264.3 404.1L1265.0 404.4L1265.8 404.7L1266.5 405.0" stroke="#000000" stroke-width="2.8" fill="none" stroke-linejoin="round" stroke-linecap="round"/>
<path d="M746.0 395.5L746.8 395.4L747.5 395.4L748.2 395.3L749.1 395.3L750.4 395.1L752.0 394.8L754.0 394.5L756.1 394.2L758.4 393.8L760.8 393.5L763.5 393.3L766.5 393.2L769.5 393.1L772.3 392.9L774.4 392.5L775.8 392.0L776.6 391.5L777.0 390.9L777.4 390.1L778.0 389.0L778.7 387.6L779.4 385.8L780.1 383.9L780.8 382.0L781.5 380.0L782.2 378.0L782.9 375.7L783.7 373.5L784.3 371.6L785.0 370.0L785.6 368.8L786.2 368.0L786.7 367.4L787.2 367.0L787.8 367.0L788.4 367.3L789.0 367.9L789.6 368.8L790.3 369.8L791.0 371.0L791.7 372.4L792.3 374.0L793.0 375.7L793.9 377.4L795.0 379.0L796.5 380.5L798.3 382.0L800.2 383.5L802.2 384.8L804.0 386.0L805.7 387.0L807.3 387.9L809.0 388.7L810.5 389.3L812.0 390.0L813.4 390.7L814.9 391.3L816.2 391.9L817.4 392.3L818.5 392.5L819.4 392.3L820.0 391.9L820.6 391.2L821.1 390.6L821.7 390.0L822.3 390.0L822.7 390.0L823.0 390.0L823.4 390.0L823.8 387.2L824.1 383.0L824.5 378.8L824.9 371.6L825.3 364.3L825.6 357.1L826.0 351.6L826.4 347.1L826.8 342.5L827.1 337.9L827.5 333.4L827.9 328.8L828.2 324.2L828.6 319.6L829.0 314.9L829.4 310.1L829.7 305.4L830.1 300.6L830.5 295.9L830.9 291.1L831.2 285.3L831.6 278.9L832.0 272.4L832.4 266.0L832.7 259.6L833.1 253.2L833.5 246.8L833.8 242.0L834.2 237.2L834.6 232.4L835.0 227.6L835.3 223.4L835.7 220.1L836.1 216.9L836.5 213.6L836.8 211.1L837.2 210.1L837.6 209.1L837.9 208.1L838.3 207.1L838.7 206.5L839.1 206.1L839.4 205.7L839.8 205.3L840.2 204.8L840.6 204.4L840.9 202.3L841.7 201.8L842.4 201.5L843.2 201.2L843.9 201.0L844.7 200.8L845.4 200.7L846.1 200.5L846.9 200.4L847.6 200.2L848.4 200.0L849.1 199.8L849.9 199.6L850.6 199.4L851.4 199.2L852.1 199.0L852.9 198.9L853.6 198.7L854.4 198.5L855.1 198.4L855.8 198.2L856.6 198.0L857.3 197.9L858.1 197.7L858.8 197.6L859.6 197.4L860.3 197.3L861.1 197.1L861.8 197.0L862.6 196.9L863.3 196.7L864.0 196.6L864.8 196.5L865.5 196.3L866.3 196.2L867.0 196.1L867.8 196.0L868.5 195.9L869.3 195.9L870.0 195.8L870.8 195.7L871.5 195.7L872.3 195.7L873.0 195.6L873.7 195.6L874.5 195.6L875.2 195.5L876.0 195.5L876.7 195.6L877.5 195.6L878.2 195.7L879.0 195.9L879.7 196.0L880.5 196.2L881.2 196.6L881.9 197.2L882.7 198.1L883.4 199.1L884.2 200.1L884.9 200.9L885.7 201.6L886.4 202.3L887.2 203.0L887.9 203.6L888.7 204.1L889.4 204.4L890.2 204.5L890.9 204.5L891.6 204.3L892.4 203.9L893.1 203.4L893.9 202.8L894.6 202.2L895.4 201.5L896.1 200.6L896.9 199.4L897.6 197.5L898.4 195.7L899.1 193.8L899.8 191.9L900.6 189.9L901.3 187.9L902.1 186.0L902.8 184.0L903.6 183.4L904.3 182.9L905.1 182.4L905.8 181.9L906.6 181.6L907.3 181.3L908.0 181.1L908.8 181.0L909.5 180.8L910.3 180.7L911.0 180.7L911.8 180.7L912.5 180.8L913.3 180.9L914.0 181.0L914.8 180.9L915.5 180.8L916.3 180.8L917.0 180.8L917.7 180.8L918.5 180.9L919.2 181.0L920.0 181.1L920.7 181.2L921.5 181.4L922.2 181.6L923.0 181.8L923.7 181.9L924.5 182.1L925.2 182.3L925.9 182.7L926.7 183.1L927.4 183.7L928.2 184.5L928.9 185.5L929.7 186.7L930.4 188.0L931.2 189.5L931.9 190.9L932.7 192.2L933.4 193.6L934.2 195.1L934.9 197.2L935.6 199.9L936.4 202.9L937.1 205.8L937.9 208.4L938.6 210.4L939.4 211.7L940.1 212.3L940.9 212.2L941.6 211.9L942.4 211.5L943.1 211.4L943.8 211.3L944.6 211.2L945.3 210.9L946.1 210.4L946.8 210.0L947.6 209.8L948.3 209.7L949.1 209.4L949.8 209.2L950.6 208.9L951.3 208.6L952.1 208.3L952.8 208.0L953.5 207.8L954.3 207.5L955.0 207.2L955.8 206.9L956.5 206.6L957.3 206.3L958.0 206.1L958.8 205.9L959.5 205.7L960.3 205.5L961.0 205.3L961.7 205.1L962.5 205.0L963.2 204.9L964.0 204.8L964.7 204.9L965.5 205.0L966.2 204.7L967.0 204.6L967.7 204.5L968.5 204.5L969.2 204.6L970.0 204.8L970.7 205.1L971.4 205.4L972.2 205.9L972.9 206.6L973.7 207.5L974.4 208.6L975.2 209.9L975.9 211.3L976.7 212.8L977.4 214.3L978.2 215.9L978.9 217.6L979.6 219.4L980.4 221.3L981.1 223.2L981.9 225.2L982.6 227.2L983.4 229.3L984.1 231.5L984.9 233.7L985.6 236.0L986.4 238.5L987.1 241.1L987.9 244.0L988.6 247.1L989.3 250.3L990.1 253.6L990.8 256.9L991.6 259.9L992.3 262.9L993.1 265.8L993.8 268.6L994.6 271.5L995.3 274.4L996.1 277.4L996.8 280.3L997.5 283.2L998.3 286.1L999.0 289.0L999.8 291.9L1000.5 294.9L1001.3 298.0L1002.0 301.0L1002.8 304.1L1003.5 307.2L1004.3 310.3L1005.0 313.5L1005.7 316.7L1006.5 320.0L1007.2 323.3L1008.0 326.8L1008.7 330.7L1009.5 335.6L1010.2 341.7L1011.0 346.5L1011.7 348.9L1012.5 350.8L1013.2 351.8L1014.0 352.2L1014.7 352.1L1015.4 351.9L1016.2 351.6L1016.9 351.1L1017.7 350.5L1018.4 349.7L1019.2 348.8L1019.9 347.8L1020.7 346.6L1021.4 345.4L1022.2 344.1L1022.9 342.7L1023.6 341.2L1024.4 339.7L1025.1 338.1L1025.9 336.5L1026.6 334.8L1027.4 333.2L1028.1 331.5L1028.9 329.9L1029.6 328.3L1030.4 326.7L1031.1 325.1L1031.9 323.5L1032.6 322.0L1033.3 320.4L1034.1 318.8L1034.8 317.3L1035.6 315.7L1036.3 314.2L1037.1 312.6L1037.8 311.1L1038.6 309.6L1039.3 308.0L1040.1 306.5L1040.8 305.0L1041.5 303.5L1042.3 302.0L1043.0 300.4L1043.8 298.8L1044.5 297.1L1045.3 295.5L1046.0 293.9L1046.8 292.3L1047.5 290.8L1048.3 289.3L1049.0 287.9L1049.8 286.7L1050.5 285.5L1051.2 284.5L1052.0 283.6L1052.7 282.9L1053.5 282.2L1054.2 281.7L1055.0 281.3L1055.7 280.9L1056.5 280.6L1057.2 280.3L1058.0 280.1L1058.7 280.0L1059.4 279.9L1060.2 279.8L1060.9 279.8L1061.7 279.8L1062.4 279.8L1063.2 279.9L1063.9 279.9L1064.7 279.8L1065.4 279.8L1066.2 279.8L1066.9 279.9L1067.7 280.0L1068.4 280.2L1069.1 280.4L1069.9 280.6L1070.6 280.9L1071.4 281.2L1072.1 281.5L1072.9 281.9L1073.6 282.3L1074.4 282.8L1075.1 283.2L1075.9 283.8L1076.6 284.3L1077.3 284.9L1078.1 285.6L1078.8 286.3L1079.6 287.0L1080.3 287.9L1081.1 288.9L1081.8 290.0L1082.6 291.3L1083.3 292.6L1084.1 293.9L1084.8 295.2L1085.5 296.4L1086.3 297.5L1087.0 298.4L1087.8 299.1L1088.5 299.8L1089.3 300.4L1090.0 301.0L1090.8 301.5L1091.5 302.0L1092.3 302.4L1093.0 302.7L1093.8 303.1L1094.5 303.2L1095.2 302.9L1096.0 302.1L1096.7 301.6L1097.5 302.0L1098.2 303.5L1099.0 305.1L1099.7 306.8L1100.5 308.5L1101.2 310.2L1102.0 311.9L1102.7 313.5L1103.4 315.1L1104.2 316.7L1104.9 318.2L1105.7 319.8L1106.4 321.3L1107.2 322.8L1107.9 324.4L1108.7 325.9L1109.4 327.4L1110.2 328.8L1110.9 330.3L1111.7 331.7L1112.4 333.0L1113.1 334.5L1113.9 335.9L1114.6 337.4L1115.4 339.0L1116.1 340.6L1116.9 342.2L1117.6 343.8L1118.4 345.4L1119.1 347.0L1119.9 348.7L1120.6 350.3L1121.3 351.9L1122.1 353.6L1122.8 355.2L1123.6 356.9L1124.3 358.5L1125.1 360.1L1125.8 361.8L1126.6 363.4L1127.3 365.1L1128.1 366.8L1128.8 368.4L1129.6 370.1L1130.3 371.8L1131.0 373.5L1131.8 375.2L1132.5 376.9L1133.3 378.6L1134.0 380.2L1134.8 381.9L1135.5 383.5L1136.3 385.0L1137.0 386.5L1137.8 388.0L1138.5 389.1L1139.2 389.8L1140.0 389.9L1140.7 389.5L1141.5 388.5L1142.2 387.5L1143.0 386.6L1143.7 385.9L1144.5 385.3L1145.2 384.8L1146.0 384.2L1146.7 383.5L1147.5 382.9L1148.2 382.2L1148.9 381.5L1149.7 380.8L1150.4 380.1L1151.2 379.3L1151.9 378.6L1152.7 377.9L1153.4 377.1L1154.2 376.4L1154.9 375.7L1155.7 374.9L1156.4 374.1L1157.1 373.3L1157.9 372.5L1158.6 371.7L1159.4 370.9L1160.1 370.1L1160.9 369.2L1161.6 368.4L1162.4 367.6L1163.1 366.9L1163.9 366.1L1164.6 365.3L1165.4 364.5L1166.1 363.8L1166.8 363.1L1167.6 362.4L1168.3 361.7L1169.1 361.1L1169.8 360.4L1170.6 359.8L1171.3 359.1L1172.1 358.5L1172.8 357.9L1173.6 357.3L1174.3 356.7L1175.0 356.1L1175.8 355.5L1176.5 354.9L1177.3 354.4L1178.0 354.0L1178.8 353.5L1179.5 353.0L1180.3 352.6L1181.0 352.2L1181.8 351.8L1182.5 351.4L1183.2 351.1L1184.0 350.9L1184.7 350.6L1185.5 350.4L1186.2 350.3L1187.0 350.1L1187.7 350.0L1188.5 349.9L1189.2 349.7L1190.0 349.6L1190.7 349.5L1191.5 349.4L1192.2 349.2L1192.9 349.1L1193.7 348.9L1194.4 348.8L1195.2 348.6L1195.9 348.5L1196.7 348.4L1197.4 348.3L1198.2 348.3L1198.9 348.3L1199.7 348.3L1200.4 348.5L1201.1 348.6L1201.9 348.8L1202.6 349.0L1203.4 349.3L1204.1 349.6L1204.9 350.0L1205.6 350.3L1206.4 350.7L1207.1 351.1L1207.9 351.5L1208.6 351.9L1209.4 352.4L1210.1 352.8L1210.8 353.3L1211.6 353.7L1212.3 354.2L1213.1 354.7L1213.8 355.2L1214.6 355.6L1215.3 356.1L1216.1 356.6L1216.8 357.1L1217.6 357.6L1218.3 358.0L1219.0 358.5L1219.8 359.0L1220.5 359.5L1221.3 359.9L1222.0 360.4L1222.8 360.9L1223.5 361.4L1224.3 361.8L1225.0 362.3L1225.8 362.8L1226.5 363.2L1227.3 363.7L1228.0 364.2L1228.7 364.6L1229.5 365.1L1230.2 365.5L1231.0 366.0L1231.7 366.4L1232.5 366.8L1233.2 367.3L1234.0 367.7L1234.7 368.2L1235.5 368.6L1236.2 369.1L1236.9 369.5L1237.7 370.0L1238.4 370.4L1239.2 370.9L1239.9 371.4L1240.7 371.9L1241.4 372.3L1242.2 372.8L1242.9 373.3L1243.7 373.8L1244.4 374.4L1245.2 374.9L1245.9 375.4L1246.6 376.0L1247.4 376.5L1248.1 377.0L1248.9 377.6L1249.6 378.1L1250.4 378.7L1251.1 379.2L1251.9 379.7L1252.6 380.2L1253.4 380.7L1254.1 381.2L1254.8 381.7L1255.6 382.1L1256.3 382.6L1257.1 383.1L1257.8 383.5L1258.6 384.0L1259.3 384.5L1260.1 384.9L1260.8 385.4L1261.6 386.0L1262.3 386.5L1263.1 387.1L1263.8 387.6L1264.5 388.2L1265.3 388.9L1266.0 389.6" stroke="#00ee00" stroke-width="2.8" fill="none" stroke-linejoin="round" stroke-linecap="round"/>
<path d="M744.2 382.6L745.4 383.0L746.5 383.5L747.7 384.0L748.9 384.4L750.4 384.7L752.1 384.9L753.9 385.0L755.8 385.0L757.9 385.0L760.0 385.0L762.4 385.1L765.0 385.3L767.7 385.4L770.1 385.3L772.0 385.0L773.3 384.4L774.2 383.6L774.8 382.6L775.3 381.4L776.0 380.0L776.8 378.3L777.6 376.3L778.4 374.1L779.2 372.0L780.0 370.0L780.8 368.2L781.6 366.4L782.4 364.7L783.2 363.2L784.0 362.0L784.7 361.0L785.4 360.2L786.1 359.5L786.8 359.1L787.5 359.0L788.2 359.1L788.9 359.5L789.6 360.2L790.3 361.0L791.0 362.0L791.8 363.3L792.5 364.9L793.3 366.7L794.1 368.4L795.0 370.0L795.9 371.4L796.9 372.6L797.9 373.8L798.9 375.0L800.0 376.0L801.1 376.9L802.3 377.8L803.6 378.6L804.8 379.3L806.0 380.0L807.2 380.7L808.4 381.3L809.6 381.9L810.8 382.5L812.0 383.0L813.2 383.5L814.5 384.1L815.8 384.6L816.9 384.9L818.0 385.0L818.9 384.7L819.6 384.2L820.3 383.4L821.0 382.7L821.7 382.0L822.3 382.0L822.7 382.0L823.0 382.0L823.4 382.0L823.8 382.0L824.1 382.0L824.5 380.6L824.9 378.4L825.3 376.3L825.6 372.6L826.0 368.9L826.4 365.2L826.8 362.4L827.1 360.1L827.5 357.7L827.9 355.4L828.2 353.1L828.6 350.7L829.0 348.4L829.4 346.0L829.7 343.6L830.1 341.2L830.5 338.8L830.9 336.4L831.2 333.9L831.6 331.5L832.0 328.5L832.4 325.2L832.7 322.0L833.1 318.7L833.5 315.4L833.8 312.1L834.2 308.9L834.6 306.4L835.0 304.0L835.3 301.5L835.7 299.1L836.1 296.9L836.5 295.2L836.8 293.6L837.2 291.9L837.6 290.6L837.9 290.1L838.3 289.6L838.7 289.1L839.1 288.6L839.4 288.3L839.8 288.1L840.2 287.9L840.6 287.6L840.9 287.4L841.3 287.2L841.7 285.8L842.4 285.6L843.2 285.4L843.9 285.3L844.7 285.2L845.4 285.1L846.1 285.1L846.9 285.0L847.6 284.9L848.4 284.8L849.1 284.7L849.9 284.6L850.6 284.5L851.4 284.4L852.1 284.3L852.9 284.2L853.6 284.1L854.4 284.1L855.1 284.0L855.8 283.9L856.6 283.8L857.3 283.7L858.1 283.7L858.8 283.6L859.6 283.5L860.3 283.4L861.1 283.4L861.8 283.3L862.6 283.2L863.3 283.2L864.0 283.1L864.8 283.0L865.5 283.0L866.3 282.9L867.0 282.9L867.8 282.8L868.5 282.8L869.3 282.7L870.0 282.7L870.8 282.7L871.5 282.7L872.3 282.7L873.0 282.7L873.7 282.7L874.5 282.7L875.2 282.7L876.0 282.7L876.7 282.7L877.5 282.7L878.2 282.8L879.0 283.0L879.7 283.2L880.5 283.6L881.2 284.1L881.9 284.7L882.7 285.5L883.4 286.4L884.2 287.3L884.9 288.0L885.7 288.7L886.4 289.4L887.2 290.1L887.9 290.7L888.7 291.3L889.4 291.7L890.2 292.0L890.9 292.1L891.6 292.0L892.4 291.8L893.1 291.6L893.9 291.3L894.6 291.0L895.4 290.6L896.1 290.1L896.9 289.6L897.6 289.1L898.4 288.6L899.1 288.1L899.8 287.5L900.6 286.9L901.3 286.4L902.1 285.8L902.8 285.2L903.6 284.6L904.3 284.1L905.1 283.5L905.8 283.1L906.6 282.6L907.3 282.2L908.0 281.9L908.8 281.5L909.5 281.2L910.3 280.9L911.0 280.6L911.8 280.4L912.5 280.2L913.3 280.0L914.0 279.8L914.8 279.9L915.5 280.0L916.3 280.1L917.0 280.2L917.7 280.4L918.5 280.6L919.2 280.7L920.0 281.0L920.7 281.2L921.5 281.4L922.2 281.6L923.0 281.9L923.7 282.1L924.5 282.3L925.2 282.6L925.9 282.9L926.7 283.3L927.4 283.8L928.2 284.4L928.9 285.0L929.7 285.8L930.4 286.7L931.2 287.7L931.9 288.6L932.7 289.6L933.4 290.6L934.2 291.6L934.9 293.0L935.6 294.7L936.4 296.5L937.1 298.3L937.9 300.0L938.6 301.3L939.4 302.3L940.1 302.8L940.9 303.0L941.6 303.1L942.4 303.1L943.1 303.3L943.8 303.5L944.6 303.7L945.3 303.8L946.1 303.8L946.8 303.7L947.6 303.5L948.3 303.3L949.1 303.1L949.8 302.9L950.6 302.7L951.3 302.5L952.1 302.2L952.8 302.0L953.5 301.8L954.3 301.5L955.0 301.3L955.8 301.0L956.5 300.8L957.3 300.6L958.0 300.4L958.8 300.2L959.5 300.0L960.3 299.8L961.0 299.6L961.7 299.5L962.5 299.3L963.2 299.2L964.0 299.1L964.7 299.0L965.5 299.0L966.2 299.0L967.0 299.0L967.7 299.1L968.5 299.2L969.2 299.3L970.0 299.5L970.7 299.8L971.4 300.1L972.2 300.5L972.9 300.9L973.7 301.5L974.4 302.2L975.2 302.9L975.9 303.8L976.7 304.6L977.4 305.5L978.2 306.5L978.9 307.5L979.6 308.5L980.4 309.6L981.1 310.7L981.9 311.8L982.6 313.0L983.4 314.2L984.1 315.4L984.9 316.7L985.6 318.0L986.4 319.4L987.1 320.8L987.9 322.4L988.6 324.1L989.3 325.9L990.1 327.8L990.8 329.5L991.6 331.2L992.3 332.9L993.1 334.5L993.8 336.1L994.6 337.7L995.3 339.3L996.1 340.9L996.8 342.5L997.5 344.1L998.3 345.7L999.0 347.4L999.8 349.0L1000.5 350.6L1001.3 352.3L1002.0 354.0L1002.8 355.7L1003.5 357.4L1004.3 359.2L1005.0 360.9L1005.7 362.7L1006.5 364.5L1007.2 366.3L1008.0 368.2L1008.7 370.3L1009.5 373.0L1010.2 376.2L1011.0 378.8L1011.7 380.2L1012.5 381.1L1013.2 381.5L1014.0 381.6L1014.7 381.6L1015.4 381.4L1016.2 381.2L1016.9 380.9L1017.7 380.5L1018.4 380.1L1019.2 379.6L1019.9 379.0L1020.7 378.3L1021.4 377.7L1022.2 377.0L1022.9 376.2L1023.6 375.4L1024.4 374.6L1025.1 373.8L1025.9 372.9L1026.6 372.0L1027.4 371.2L1028.1 370.3L1028.9 369.4L1029.6 368.5L1030.4 367.7L1031.1 366.8L1031.9 366.0L1032.6 365.2L1033.3 364.3L1034.1 363.5L1034.8 362.7L1035.6 361.9L1036.3 361.0L1037.1 360.2L1037.8 359.4L1038.6 358.6L1039.3 357.7L1040.1 356.9L1040.8 356.1L1041.5 355.3L1042.3 354.5L1043.0 353.6L1043.8 352.8L1044.5 351.9L1045.3 351.1L1046.0 350.2L1046.8 349.4L1047.5 348.5L1048.3 347.8L1049.0 347.0L1049.8 346.3L1050.5 345.7L1051.2 345.1L1052.0 344.6L1052.7 344.2L1053.5 343.8L1054.2 343.5L1055.0 343.2L1055.7 343.0L1056.5 342.8L1057.2 342.6L1058.0 342.4L1058.7 342.3L1059.4 342.2L1060.2 342.1L1060.9 342.0L1061.7 342.0L1062.4 341.9L1063.2 341.9L1063.9 341.9L1064.7 341.9L1065.4 341.9L1066.2 342.0L1066.9 342.1L1067.7 342.3L1068.4 342.4L1069.1 342.6L1069.9 342.8L1070.6 343.0L1071.4 343.2L1072.1 343.4L1072.9 343.7L1073.6 344.0L1074.4 344.3L1075.1 344.6L1075.9 344.9L1076.6 345.2L1077.3 345.6L1078.1 346.0L1078.8 346.4L1079.6 346.9L1080.3 347.4L1081.1 347.9L1081.8 348.6L1082.6 349.3L1083.3 350.0L1084.1 350.7L1084.8 351.4L1085.5 352.1L1086.3 352.7L1087.0 353.2L1087.8 353.7L1088.5 354.1L1089.3 354.5L1090.0 354.8L1090.8 355.1L1091.5 355.4L1092.3 355.7L1093.0 356.0L1093.8 356.2L1094.5 356.3L1095.2 356.3L1096.0 355.9L1096.7 355.7L1097.5 356.0L1098.2 356.7L1099.0 357.4L1099.7 358.1L1100.5 358.9L1101.2 359.7L1102.0 360.4L1102.7 361.2L1103.4 361.9L1104.2 362.6L1104.9 363.3L1105.7 364.0L1106.4 364.6L1107.2 365.3L1107.9 366.0L1108.7 366.7L1109.4 367.3L1110.2 368.0L1110.9 368.6L1111.7 369.2L1112.4 369.8L1113.1 370.4L1113.9 371.1L1114.6 371.8L1115.4 372.4L1116.1 373.1L1116.9 373.9L1117.6 374.6L1118.4 375.3L1119.1 376.0L1119.9 376.8L1120.6 377.5L1121.3 378.2L1122.1 379.0L1122.8 379.7L1123.6 380.4L1124.3 381.2L1125.1 381.9L1125.8 382.6L1126.6 383.4L1127.3 384.1L1128.1 384.9L1128.8 385.6L1129.6 386.4L1130.3 387.2L1131.0 387.9L1131.8 388.7L1132.5 389.5L1133.3 390.2L1134.0 390.9L1134.8 391.7L1135.5 392.4L1136.3 393.1L1137.0 393.8L1137.8 394.4L1138.5 395.1L1139.2 395.5L1140.0 395.6L1140.7 395.4L1141.5 394.9L1142.2 394.4L1143.0 393.9L1143.7 393.6L1144.5 393.3L1145.2 393.0L1146.0 392.7L1146.7 392.4L1147.5 392.1L1148.2 391.8L1148.9 391.4L1149.7 391.1L1150.4 390.7L1151.2 390.3L1151.9 390.0L1152.7 389.6L1153.4 389.2L1154.2 388.9L1154.9 388.5L1155.7 388.1L1156.4 387.7L1157.1 387.3L1157.9 386.9L1158.6 386.5L1159.4 386.1L1160.1 385.6L1160.9 385.2L1161.6 384.8L1162.4 384.4L1163.1 384.0L1163.9 383.6L1164.6 383.2L1165.4 382.9L1166.1 382.5L1166.8 382.1L1167.6 381.8L1168.3 381.4L1169.1 381.1L1169.8 380.8L1170.6 380.5L1171.3 380.2L1172.1 379.8L1172.8 379.5L1173.6 379.2L1174.3 378.9L1175.0 378.7L1175.8 378.4L1176.5 378.1L1177.3 377.9L1178.0 377.7L1178.8 377.4L1179.5 377.2L1180.3 377.0L1181.0 376.8L1181.8 376.7L1182.5 376.5L1183.2 376.4L1184.0 376.3L1184.7 376.2L1185.5 376.1L1186.2 376.1L1187.0 376.0L1187.7 376.0L1188.5 376.0L1189.2 375.9L1190.0 375.9L1190.7 375.9L1191.5 375.9L1192.2 375.8L1192.9 375.8L1193.7 375.7L1194.4 375.7L1195.2 375.7L1195.9 375.6L1196.7 375.6L1197.4 375.6L1198.2 375.7L1198.9 375.7L1199.7 375.8L1200.4 376.0L1201.1 376.1L1201.9 376.3L1202.6 376.5L1203.4 376.7L1204.1 377.0L1204.9 377.3L1205.6 377.6L1206.4 377.8L1207.1 378.1L1207.9 378.4L1208.6 378.7L1209.4 379.1L1210.1 379.4L1210.8 379.7L1211.6 380.0L1212.3 380.4L1213.1 380.7L1213.8 381.0L1214.6 381.4L1215.3 381.7L1216.1 382.0L1216.8 382.3L1217.6 382.7L1218.3 383.0L1219.0 383.3L1219.8 383.7L1220.5 384.0L1221.3 384.3L1222.0 384.7L1222.8 385.0L1223.5 385.3L1224.3 385.6L1225.0 386.0L1225.8 386.3L1226.5 386.6L1227.3 387.0L1228.0 387.3L1228.7 387.6L1229.5 387.9L1230.2 388.2L1231.0 388.6L1231.7 388.9L1232.5 389.2L1233.2 389.5L1234.0 389.8L1234.7 390.1L1235.5 390.5L1236.2 390.8L1236.9 391.1L1237.7 391.4L1238.4 391.7L1239.2 392.1L1239.9 392.4L1240.7 392.7L1241.4 393.1L1242.2 393.4L1242.9 393.7L1243.7 394.1L1244.4 394.4L1245.2 394.8L1245.9 395.1L1246.6 395.5L1247.4 395.9L1248.1 396.2L1248.9 396.6L1249.6 396.9L1250.4 397.3L1251.1 397.6L1251.9 398.0L1252.6 398.3L1253.4 398.7L1254.1 399.0L1254.8 399.3L1255.6 399.7L1256.3 400.0L1257.1 400.3L1257.8 400.6L1258.6 401.0L1259.3 401.3L1260.1 401.6L1260.8 402.0L1261.6 402.3L1262.3 402.7L1263.1 403.0L1263.8 403.4L1264.5 403.8L1265.3 404.2L1266.0 404.6" stroke="#0000ee" stroke-width="2.8" fill="none" stroke-linejoin="round" stroke-linecap="round"/>
<path d="M744.2 401.5L747.4 400.9L750.6 400.2L753.8 399.6L756.9 399.0L760.0 398.5L763.1 398.1L766.4 397.9L769.4 397.6L772.2 397.4L774.4 397.0L775.9 396.6L776.8 396.3L777.3 395.8L777.8 395.1L778.5 394.0L779.4 392.3L780.2 390.2L781.1 387.9L781.9 385.4L782.7 383.0L783.4 380.5L784.1 377.9L784.7 375.3L785.3 372.9L785.8 371.0L786.3 369.6L786.7 368.4L787.1 367.6L787.5 367.2L787.9 367.0L788.4 367.2L788.9 367.8L789.4 368.7L789.9 369.8L790.5 371.0L791.0 372.4L791.5 374.0L792.1 375.7L792.9 377.4L794.0 379.0L795.6 380.5L797.7 381.9L799.9 383.3L802.1 384.7L804.2 386.0L806.1 387.3L807.9 388.6L809.7 389.8L811.4 390.9L812.9 392.0L814.3 393.1L815.6 394.1L816.8 395.1L817.8 395.7L818.8 396.0L819.5 395.7L820.1 395.0L820.7 394.0L821.2 392.9L821.7 392.0L822.3 392.0L822.7 392.0L823.0 388.1L823.4 382.3L823.8 376.5L824.1 366.4L824.5 356.3L824.9 346.2L825.3 338.6L825.6 332.2L826.0 325.8L826.4 319.5L826.8 313.1L827.1 306.8L827.5 300.4L827.9 294.0L828.2 287.4L828.6 280.8L829.0 274.2L829.4 267.6L829.7 260.9L830.1 254.3L830.5 246.2L830.9 237.2L831.2 228.3L831.6 219.4L832.0 210.4L832.4 201.5L832.7 192.6L833.1 185.9L833.5 179.2L833.8 172.6L834.2 165.9L834.6 160.0L835.0 155.4L835.3 150.9L835.7 146.4L836.1 142.9L836.5 141.5L836.8 140.1L837.2 138.7L837.6 137.3L837.9 136.5L838.3 135.9L838.7 135.3L839.1 134.7L839.4 134.2L839.8 133.6L840.2 131.8L840.9 131.0L841.7 130.4L842.4 130.0L843.2 129.8L843.9 129.6L844.7 129.5L845.4 129.4L846.1 129.3L846.9 129.2L847.6 129.1L848.4 128.9L849.1 128.8L849.9 128.6L850.6 128.5L851.4 128.3L852.1 128.2L852.9 128.0L853.6 127.8L854.4 127.5L855.1 127.1L855.8 126.8L856.6 126.5L857.3 126.2L858.1 125.9L858.8 125.6L859.6 125.4L860.3 125.1L861.1 124.8L861.8 124.5L862.6 124.4L863.3 124.3L864.0 124.2L864.8 124.2L865.5 124.1L866.3 124.0L867.0 124.0L867.8 124.0L868.5 123.9L869.3 123.9L870.0 123.9L870.8 123.9L871.5 124.0L872.3 124.5L873.0 125.3L873.7 126.0L874.5 126.8L875.2 127.6L876.0 128.4L876.7 129.2L877.5 130.1L878.2 131.1L879.0 132.1L879.7 132.8L880.5 133.4L881.2 134.3L881.9 135.5L882.7 137.0L883.4 138.7L884.2 140.4L884.9 141.8L885.7 143.1L886.4 144.4L887.2 145.6L887.9 146.8L888.7 147.8L889.4 148.6L890.2 149.2L890.9 149.7L891.6 150.0L892.4 150.1L893.1 150.0L893.9 149.8L894.6 149.6L895.4 149.2L896.1 148.7L896.9 148.1L897.6 147.4L898.4 146.7L899.1 146.0L899.8 145.2L900.6 144.4L901.3 143.6L902.1 142.8L902.8 141.9L903.6 141.2L904.3 140.4L905.1 139.7L905.8 139.1L906.6 138.6L907.3 138.2L908.0 137.9L908.8 137.6L909.5 137.3L910.3 137.1L911.0 137.0L911.8 136.9L912.5 136.9L913.3 136.9L914.0 137.0L914.8 137.1L915.5 137.2L916.3 137.4L917.0 137.6L917.7 137.9L918.5 138.2L919.2 138.6L920.0 139.0L920.7 139.4L921.5 139.8L922.2 140.2L923.0 140.7L923.7 141.1L924.5 141.5L925.2 142.0L925.9 142.6L926.7 143.4L927.4 144.3L928.2 145.5L928.9 146.9L929.7 148.5L930.4 150.3L931.2 152.3L931.9 154.4L932.7 156.5L933.4 158.7L934.2 160.9L934.9 163.9L935.6 167.5L936.4 171.5L937.1 175.4L937.9 179.0L938.6 181.8L939.4 184.0L940.1 185.1L940.9 185.7L941.6 185.8L942.4 186.0L943.1 186.4L943.8 186.9L944.6 187.3L945.3 187.5L946.1 187.6L946.8 187.4L947.6 187.2L948.3 186.8L949.1 186.5L949.8 186.1L950.6 185.6L951.3 185.2L952.1 184.7L952.8 184.3L953.5 183.8L954.3 183.4L955.0 183.0L955.8 182.5L956.5 182.0L957.3 181.6L958.0 181.3L958.8 180.9L959.5 180.6L960.3 180.2L961.0 179.9L961.7 179.5L962.5 179.2L963.2 179.0L964.0 178.9L964.7 178.8L965.5 178.8L966.2 178.4L967.0 178.2L967.7 178.0L968.5 178.0L969.2 178.0L970.0 178.2L970.7 178.4L971.4 178.8L972.2 179.3L972.9 180.0L973.7 181.0L974.4 182.1L975.2 183.5L975.9 185.1L976.7 186.7L977.4 188.3L978.2 190.1L978.9 191.9L979.6 193.9L980.4 196.0L981.1 198.2L981.9 200.4L982.6 202.6L983.4 204.9L984.1 207.3L984.9 209.8L985.6 212.4L986.4 215.1L987.1 218.0L987.9 221.3L988.6 224.7L989.3 228.4L990.1 232.1L990.8 235.7L991.6 239.1L992.3 242.4L993.1 245.6L993.8 248.8L994.6 252.1L995.3 255.3L996.1 258.6L996.8 261.8L997.5 265.1L998.3 268.3L999.0 271.6L999.8 274.9L1000.5 278.2L1001.3 281.6L1002.0 285.0L1002.8 288.5L1003.5 292.0L1004.3 295.5L1005.0 299.0L1005.7 302.6L1006.5 306.2L1007.2 310.0L1008.0 313.9L1008.7 318.2L1009.5 323.8L1010.2 330.6L1011.0 336.0L1011.7 338.8L1012.5 341.0L1013.2 342.2L1014.0 342.7L1014.7 342.7L1015.4 342.6L1016.2 342.3L1016.9 341.9L1017.7 341.3L1018.4 340.5L1019.2 339.5L1019.9 338.4L1020.7 337.2L1021.4 335.9L1022.2 334.6L1022.9 333.1L1023.6 331.5L1024.4 329.9L1025.1 328.2L1025.9 326.4L1026.6 324.7L1027.4 322.9L1028.1 321.2L1028.9 319.4L1029.6 317.7L1030.4 316.0L1031.1 314.3L1031.9 312.6L1032.6 311.0L1033.3 309.3L1034.1 307.6L1034.8 306.0L1035.6 304.3L1036.3 302.7L1037.1 301.0L1037.8 299.4L1038.6 297.7L1039.3 296.1L1040.1 294.5L1040.8 292.9L1041.5 291.3L1042.3 289.6L1043.0 287.9L1043.8 286.2L1044.5 284.5L1045.3 282.7L1046.0 281.0L1046.8 279.3L1047.5 277.7L1048.3 276.2L1049.0 274.7L1049.8 273.4L1050.5 272.1L1051.2 271.1L1052.0 270.2L1052.7 269.4L1053.5 268.8L1054.2 268.3L1055.0 267.9L1055.7 267.5L1056.5 267.3L1057.2 267.1L1058.0 267.0L1058.7 266.9L1059.4 266.9L1060.2 266.9L1060.9 267.0L1061.7 267.0L1062.4 267.2L1063.2 267.3L1063.9 267.3L1064.7 266.9L1065.4 266.6L1066.2 266.4L1066.9 266.2L1067.7 266.1L1068.4 266.0L1069.1 266.0L1069.9 266.0L1070.6 266.0L1071.4 266.1L1072.1 266.2L1072.9 266.4L1073.6 266.6L1074.4 266.8L1075.1 267.1L1075.9 267.4L1076.6 267.8L1077.3 268.2L1078.1 268.7L1078.8 269.2L1079.6 269.8L1080.3 270.6L1081.1 271.4L1081.8 272.5L1082.6 273.6L1083.3 274.9L1084.1 276.1L1084.8 277.4L1085.5 278.5L1086.3 279.4L1087.0 280.2L1087.8 280.8L1088.5 281.3L1089.3 281.7L1090.0 282.1L1090.8 282.4L1091.5 282.7L1092.3 282.9L1093.0 283.1L1093.8 283.2L1094.5 283.1L1095.2 282.5L1096.0 281.3L1096.7 280.4L1097.5 280.6L1098.2 282.4L1099.0 284.3L1099.7 286.4L1100.5 288.4L1101.2 290.5L1102.0 292.5L1102.7 294.5L1103.4 296.4L1104.2 298.2L1104.9 300.1L1105.7 302.0L1106.4 303.8L1107.2 305.6L1107.9 307.5L1108.7 309.3L1109.4 311.1L1110.2 312.9L1110.9 314.6L1111.7 316.3L1112.4 317.9L1113.1 319.6L1113.9 321.4L1114.6 323.2L1115.4 325.1L1116.1 327.0L1116.9 328.9L1117.6 330.8L1118.4 332.8L1119.1 334.7L1119.9 336.7L1120.6 338.7L1121.3 340.6L1122.1 342.6L1122.8 344.6L1123.6 346.6L1124.3 348.5L1125.1 350.5L1125.8 352.5L1126.6 354.4L1127.3 356.4L1128.1 358.5L1128.8 360.5L1129.6 362.5L1130.3 364.6L1131.0 366.6L1131.8 368.6L1132.5 370.7L1133.3 372.7L1134.0 374.7L1134.8 376.6L1135.5 378.6L1136.3 380.5L1137.0 382.3L1137.8 384.0L1138.5 385.3L1139.2 386.1L1140.0 386.3L1140.7 385.8L1141.5 384.7L1142.2 383.5L1143.0 382.4L1143.7 381.7L1144.5 381.0L1145.2 380.3L1146.0 379.6L1146.7 378.9L1147.5 378.1L1148.2 377.3L1148.9 376.5L1149.7 375.7L1150.4 374.9L1151.2 374.0L1151.9 373.2L1152.7 372.3L1153.4 371.5L1154.2 370.6L1154.9 369.8L1155.7 368.9L1156.4 368.0L1157.1 367.0L1157.9 366.1L1158.6 365.1L1159.4 364.2L1160.1 363.3L1160.9 362.3L1161.6 361.4L1162.4 360.4L1163.1 359.5L1163.9 358.6L1164.6 357.7L1165.4 356.9L1166.1 356.0L1166.8 355.2L1167.6 354.4L1168.3 353.6L1169.1 352.8L1169.8 352.1L1170.6 351.3L1171.3 350.6L1172.1 349.8L1172.8 349.1L1173.6 348.4L1174.3 347.7L1175.0 347.0L1175.8 346.4L1176.5 345.7L1177.3 345.1L1178.0 344.6L1178.8 344.0L1179.5 343.5L1180.3 343.0L1181.0 342.5L1181.8 342.1L1182.5 341.7L1183.2 341.4L1184.0 341.1L1184.7 340.8L1185.5 340.6L1186.2 340.4L1187.0 340.3L1187.7 340.1L1188.5 340.0L1189.2 339.8L1190.0 339.7L1190.7 339.6L1191.5 339.4L1192.2 339.3L1192.9 339.1L1193.7 339.0L1194.4 338.8L1195.2 338.6L1195.9 338.5L1196.7 338.4L1197.4 338.3L1198.2 338.2L1198.9 338.2L1199.7 338.2L1200.4 338.3L1201.1 338.4L1201.9 338.5L1202.6 338.7L1203.4 338.9L1204.1 339.2L1204.9 339.5L1205.6 339.8L1206.4 340.1L1207.1 340.5L1207.9 340.8L1208.6 341.2L1209.4 341.6L1210.1 342.0L1210.8 342.5L1211.6 342.9L1212.3 343.4L1213.1 343.8L1213.8 344.3L1214.6 344.7L1215.3 345.2L1216.1 345.7L1216.8 346.1L1217.6 346.6L1218.3 347.0L1219.0 347.5L1219.8 348.0L1220.5 348.4L1221.3 348.9L1222.0 349.3L1222.8 349.8L1223.5 350.2L1224.3 350.7L1225.0 351.1L1225.8 351.6L1226.5 352.0L1227.3 352.4L1228.0 352.9L1228.7 353.3L1229.5 353.7L1230.2 354.1L1231.0 354.5L1231.7 355.0L1232.5 355.4L1233.2 355.8L1234.0 356.2L1234.7 356.6L1235.5 357.0L1236.2 357.5L1236.9 357.9L1237.7 358.3L1238.4 358.7L1239.2 359.2L1239.9 359.6L1240.7 360.1L1241.4 360.6L1242.2 361.0L1242.9 361.5L1243.7 362.0L1244.4 362.5L1245.2 363.0L1245.9 363.6L1246.6 364.1L1247.4 364.7L1248.1 365.2L1248.9 365.7L1249.6 366.3L1250.4 366.8L1251.1 367.3L1251.9 367.8L1252.6 368.3L1253.4 368.8L1254.1 369.3L1254.8 369.7L1255.6 370.2L1256.3 370.6L1257.1 371.1L1257.8 371.5L1258.6 371.9L1259.3 372.4L1260.1 372.9L1260.8 373.3L1261.6 373.9L1262.3 374.4L1263.1 374.9L1263.8 375.5L1264.5 376.1L1265.3 376.8L1266.0 377.6" stroke="#00eeee" stroke-width="2.8" fill="none" stroke-linejoin="round" stroke-linecap="round"/>
<path d="M744.2 377.5L745.2 377.2L746.1 376.9L747.0 376.6L748.3 376.3L750.0 376.0L752.5 375.6L755.6 375.0L758.9 374.5L762.2 374.2L765.0 374.0L767.4 374.3L769.7 374.9L771.7 375.6L773.5 376.0L775.0 376.0L776.0 375.4L776.7 374.5L777.1 373.3L777.5 371.8L778.0 370.0L778.6 367.8L779.2 365.1L779.8 362.2L780.4 359.5L781.0 357.0L781.6 354.8L782.2 352.8L782.8 351.0L783.4 349.4L784.0 348.0L784.7 346.9L785.4 346.0L786.1 345.4L786.7 345.1L787.4 345.0L788.0 345.3L788.6 345.9L789.1 346.7L789.7 347.8L790.3 349.0L791.0 350.5L791.7 352.4L792.4 354.3L793.2 356.3L794.0 358.0L794.8 359.5L795.6 360.8L796.4 362.1L797.3 363.3L798.3 364.5L799.4 365.7L800.5 366.8L801.8 367.9L803.0 369.0L804.2 370.0L805.4 371.0L806.5 371.9L807.7 372.8L808.8 373.6L810.0 374.5L811.2 375.4L812.5 376.3L813.7 377.1L814.8 377.9L815.8 378.5L816.6 379.0L817.2 379.5L817.7 379.9L818.2 380.1L818.8 380.0L819.3 379.6L819.9 379.0L820.5 378.1L821.1 377.3L821.7 376.5L822.3 376.5L822.7 376.5L823.0 376.5L823.4 375.1L823.8 370.8L824.1 366.5L824.5 360.1L824.9 352.7L825.3 345.3L825.6 338.7L826.0 334.1L826.4 329.4L826.8 324.7L827.1 320.0L827.5 315.4L827.9 310.7L828.2 306.0L828.6 301.2L829.0 296.3L829.4 291.4L829.7 286.6L830.1 281.7L830.5 276.9L830.9 271.4L831.2 264.9L831.6 258.3L832.0 251.7L832.4 245.2L832.7 238.6L833.1 232.0L833.5 226.5L833.8 221.7L834.2 216.8L834.6 211.9L835.0 207.0L835.3 203.6L835.7 200.3L836.1 197.0L836.5 193.6L836.8 192.6L837.2 191.6L837.6 190.6L837.9 189.5L838.3 188.7L838.7 188.3L839.1 187.9L839.4 187.4L839.8 187.0L840.2 186.6L840.6 186.1L840.7 184.8L841.4 184.4L842.2 184.2L842.9 184.1L843.7 184.0L844.4 184.1L845.2 184.1L845.9 184.2L846.6 184.2L847.4 184.3L848.1 184.3L848.9 184.3L849.6 184.3L850.4 184.3L851.1 184.3L851.9 184.3L852.6 184.3L853.4 184.3L854.1 184.4L854.8 184.4L855.6 184.5L856.3 184.5L857.1 184.5L857.8 184.6L858.6 184.6L859.3 184.7L860.1 184.8L860.8 184.8L861.6 184.9L862.3 184.9L863.1 184.8L863.8 184.8L864.5 184.7L865.3 184.7L866.0 184.7L866.8 184.6L867.5 184.6L868.3 184.6L869.0 184.6L869.8 184.6L870.5 184.7L871.3 184.7L872.0 184.8L872.7 184.8L873.5 184.9L874.2 184.9L875.0 185.0L875.7 185.1L876.5 185.2L877.2 185.3L878.0 185.5L878.7 185.8L879.5 186.0L880.2 186.1L881.0 186.4L881.7 187.0L882.4 187.9L883.2 188.9L883.9 190.0L884.7 191.0L885.4 191.7L886.2 192.4L886.9 193.2L887.7 193.8L888.4 194.4L889.2 194.8L889.9 195.0L890.6 195.4L891.4 195.5L892.1 195.5L892.9 195.3L893.6 195.1L894.4 194.8L895.1 194.4L895.9 193.9L896.6 193.2L897.4 192.5L898.1 191.8L898.9 191.1L899.6 190.4L900.3 189.6L901.1 188.8L901.8 188.0L902.6 187.1L903.3 186.3L904.1 185.6L904.8 184.9L905.6 184.2L906.3 183.6L907.1 183.1L907.8 182.7L908.5 182.3L909.3 182.0L910.0 181.7L910.8 181.4L911.5 181.2L912.3 181.0L913.0 180.9L913.8 180.8L914.5 180.8L915.3 180.8L916.0 180.8L916.8 180.9L917.5 181.0L918.2 181.2L919.0 181.4L919.7 181.6L920.5 181.8L921.2 182.1L922.0 182.4L922.7 182.6L923.5 182.9L924.2 183.2L925.0 183.5L925.7 183.8L926.4 184.3L927.2 185.0L927.9 185.8L928.7 186.8L929.4 188.0L930.2 189.4L930.9 190.9L931.7 192.4L932.4 193.7L933.2 195.1L933.9 196.5L934.6 198.3L935.4 200.8L936.1 203.7L936.9 206.6L937.6 209.4L938.4 211.6L939.1 213.1L939.9 213.9L940.6 214.0L941.4 213.7L942.1 213.3L942.9 213.1L943.6 213.1L944.3 212.9L945.1 212.7L945.8 212.3L946.6 211.7L947.3 211.6L948.1 211.5L948.8 211.3L949.6 211.0L950.3 210.8L951.1 210.5L951.8 210.2L952.5 209.9L953.3 209.7L954.0 209.4L954.8 209.1L955.5 208.8L956.3 208.5L957.0 208.3L957.8 208.1L958.5 207.9L959.3 207.7L960.0 207.5L960.8 207.3L961.5 207.1L962.2 207.0L963.0 206.9L963.7 206.8L964.5 206.8L965.2 207.0L966.0 206.9L966.7 206.8L967.5 206.8L968.2 206.9L969.0 207.1L969.7 207.3L970.4 207.6L971.2 208.1L971.9 208.6L972.7 209.3L973.4 210.2L974.2 211.4L974.9 212.7L975.7 214.1L976.4 215.6L977.2 217.2L977.9 218.8L978.7 220.5L979.4 222.3L980.1 224.3L980.9 226.2L981.6 228.3L982.4 230.4L983.1 232.5L983.9 234.6L984.6 236.9L985.4 239.2L986.1 241.7L986.9 244.2L987.6 247.1L988.3 250.2L989.1 253.4L989.8 256.7L990.6 260.0L991.3 263.1L992.1 266.1L992.8 269.0L993.6 272.0L994.3 274.9L995.1 277.8L995.8 280.8L996.6 283.7L997.3 286.6L998.0 289.5L998.8 292.5L999.5 295.5L1000.3 298.5L1001.0 301.5L1001.8 304.6L1002.5 307.7L1003.3 310.8L1004.0 314.0L1004.8 317.1L1005.5 320.3L1006.2 323.6L1007.0 326.9L1007.7 330.3L1008.5 334.0L1009.2 338.6L1010.0 344.4L1010.7 349.9L1011.5 353.0L1012.2 354.9L1013.0 356.1L1013.7 356.5L1014.5 356.4L1015.2 356.1L1015.9 355.6L1016.7 355.1L1017.4 354.5L1018.2 353.6L1018.9 352.6L1019.7 351.4L1020.4 350.2L1021.2 348.8L1021.9 347.4L1022.7 345.9L1023.4 344.3L1024.1 342.7L1024.9 341.0L1025.6 339.2L1026.4 337.5L1027.1 335.7L1027.9 333.9L1028.6 332.2L1029.4 330.4L1030.1 328.7L1030.9 326.9L1031.6 325.3L1032.3 323.6L1033.1 321.9L1033.8 320.2L1034.6 318.5L1035.3 316.8L1036.1 315.1L1036.8 313.5L1037.6 311.8L1038.3 310.1L1039.1 308.5L1039.8 306.8L1040.6 305.2L1041.3 303.5L1042.0 301.9L1042.8 300.2L1043.5 298.4L1044.3 296.7L1045.0 294.9L1045.8 293.2L1046.5 291.4L1047.3 289.8L1048.0 288.2L1048.8 286.6L1049.5 285.2L1050.2 283.9L1051.0 282.7L1051.7 281.6L1052.5 280.7L1053.2 279.9L1054.0 279.2L1054.7 278.6L1055.5 278.0L1056.2 277.6L1057.0 277.2L1057.7 276.9L1058.5 276.6L1059.2 276.3L1059.9 276.1L1060.7 275.9L1061.4 275.8L1062.2 275.7L1062.9 275.6L1063.7 275.6L1064.4 275.5L1065.2 275.5L1065.9 275.5L1066.7 275.6L1067.4 275.7L1068.1 275.9L1068.9 276.2L1069.6 276.5L1070.4 276.8L1071.1 277.1L1071.9 277.5L1072.6 277.9L1073.4 278.3L1074.1 278.8L1074.9 279.4L1075.6 279.9L1076.4 280.5L1077.1 281.2L1077.8 281.8L1078.6 282.6L1079.3 283.4L1080.1 284.3L1080.8 285.3L1081.6 286.4L1082.3 287.7L1083.1 289.1L1083.8 290.5L1084.6 291.9L1085.3 293.2L1086.0 294.4L1086.8 295.4L1087.5 296.3L1088.3 297.0L1089.0 297.7L1089.8 298.4L1090.5 298.9L1091.3 299.5L1092.0 300.0L1092.8 300.4L1093.5 300.8L1094.3 301.1L1095.0 301.0L1095.7 300.3L1096.5 299.6L1097.2 299.8L1098.0 301.0L1098.7 302.6L1099.5 304.3L1100.2 306.1L1101.0 307.8L1101.7 309.6L1102.5 311.2L1103.2 312.9L1103.9 314.5L1104.7 316.1L1105.4 317.7L1106.2 319.2L1106.9 320.8L1107.7 322.4L1108.4 323.9L1109.2 325.4L1109.9 327.0L1110.7 328.4L1111.4 329.9L1112.2 331.3L1112.9 332.7L1113.6 334.2L1114.4 335.8L1115.1 337.3L1115.9 338.9L1116.6 340.6L1117.4 342.2L1118.1 343.9L1118.9 345.5L1119.6 347.2L1120.4 348.9L1121.1 350.5L1121.8 352.2L1122.6 353.9L1123.3 355.6L1124.1 357.3L1124.8 358.9L1125.6 360.6L1126.3 362.3L1127.1 364.0L1127.8 365.7L1128.6 367.4L1129.3 369.1L1130.0 370.9L1130.8 372.6L1131.5 374.4L1132.3 376.1L1133.0 377.8L1133.8 379.5L1134.5 381.2L1135.3 382.8L1136.0 384.4L1136.8 386.0L1137.5 387.5L1138.3 388.7L1139.0 389.5L1139.7 389.9L1140.5 389.6L1141.2 388.9L1142.0 388.0L1142.7 387.1L1143.5 386.4L1144.2 385.9L1145.0 385.4L1145.7 384.8L1146.5 384.2L1147.2 383.6L1147.9 383.0L1148.7 382.4L1149.4 381.7L1150.2 381.1L1150.9 380.4L1151.7 379.8L1152.4 379.1L1153.2 378.4L1153.9 377.7L1154.7 377.1L1155.4 376.4L1156.2 375.6L1156.9 374.9L1157.6 374.2L1158.4 373.4L1159.1 372.7L1159.9 371.9L1160.6 371.2L1161.4 370.4L1162.1 369.7L1162.9 369.0L1163.6 368.3L1164.4 367.5L1165.1 366.8L1165.8 366.2L1166.6 365.5L1167.3 364.9L1168.1 364.2L1168.8 363.6L1169.6 363.0L1170.3 362.4L1171.1 361.8L1171.8 361.3L1172.6 360.7L1173.3 360.1L1174.1 359.6L1174.8 359.0L1175.5 358.5L1176.3 358.0L1177.0 357.5L1177.8 357.1L1178.5 356.7L1179.3 356.2L1180.0 355.8L1180.8 355.5L1181.5 355.1L1182.3 354.8L1183.0 354.5L1183.7 354.3L1184.5 354.1L1185.2 353.9L1186.0 353.8L1186.7 353.6L1187.5 353.5L1188.2 353.4L1189.0 353.3L1189.7 353.3L1190.5 353.2L1191.2 353.1L1192.0 353.0L1192.7 352.8L1193.4 352.7L1194.2 352.6L1194.9 352.5L1195.7 352.4L1196.4 352.3L1197.2 352.2L1197.9 352.2L1198.7 352.2L1199.4 352.2L1200.2 352.3L1200.9 352.5L1201.6 352.6L1202.4 352.8L1203.1 353.1L1203.9 353.3L1204.6 353.6L1205.4 353.9L1206.1 354.3L1206.9 354.6L1207.6 355.0L1208.4 355.4L1209.1 355.8L1209.8 356.2L1210.6 356.6L1211.3 357.0L1212.1 357.4L1212.8 357.8L1213.6 358.3L1214.3 358.7L1215.1 359.1L1215.8 359.6L1216.6 360.0L1217.3 360.4L1218.1 360.9L1218.8 361.3L1219.5 361.7L1220.3 362.2L1221.0 362.6L1221.8 363.0L1222.5 363.5L1223.3 363.9L1224.0 364.3L1224.8 364.7L1225.5 365.2L1226.3 365.6L1227.0 366.0L1227.7 366.4L1228.5 366.8L1229.2 367.2L1230.0 367.6L1230.7 368.0L1231.5 368.4L1232.2 368.8L1233.0 369.2L1233.7 369.7L1234.5 370.1L1235.2 370.5L1236.0 370.9L1236.7 371.3L1237.4 371.7L1238.2 372.1L1238.9 372.5L1239.7 372.9L1240.4 373.4L1241.2 373.8L1241.9 374.2L1242.7 374.7L1243.4 375.1L1244.2 375.6L1244.9 376.1L1245.6 376.6L1246.4 377.1L1247.1 377.6L1247.9 378.1L1248.6 378.5L1249.4 379.0L1250.1 379.5L1250.9 380.0L1251.6 380.5L1252.4 380.9L1253.1 381.4L1253.9 381.8L1254.6 382.3L1255.3 382.7L1256.1 383.1L1256.8 383.5L1257.6 384.0L1258.3 384.4L1259.1 384.8L1259.8 385.2L1260.6 385.7L1261.3 386.2L1262.1 386.7L1262.8 387.2L1263.5 387.7L1264.3 388.2L1265.0 388.8L1265.8 389.4L1266.5 390.0" stroke="#ee00ee" stroke-width="2.8" fill="none" stroke-linejoin="round" stroke-linecap="round"/>
<path d="M744.4 346.2L745.9 345.4L747.3 344.6L748.8 343.7L750.3 343.0L751.9 342.5L753.7 342.3L755.5 342.2L757.4 342.3L759.4 342.4L761.2 342.5L763.2 342.6L765.2 342.7L767.1 342.8L769.0 342.7L770.6 342.5L772.0 342.2L773.2 341.8L774.3 341.2L775.3 340.3L776.2 338.8L777.1 336.4L777.8 333.4L778.5 330.1L779.2 326.7L780.0 323.8L781.0 320.8L782.1 317.8L783.3 314.9L784.4 312.8L785.6 311.8L786.7 312.1L787.9 313.4L789.0 315.5L790.1 317.8L791.2 320.0L792.4 322.1L793.4 324.4L794.5 326.8L795.7 329.2L796.9 331.2L798.3 333.1L799.8 334.9L801.3 336.6L802.8 338.1L804.2 339.4L805.5 340.5L806.7 341.3L807.9 342.1L809.0 342.8L810.0 343.8L811.0 344.8L811.9 346.0L812.8 347.2L813.6 348.4L814.4 349.6L815.2 350.9L815.9 352.3L816.6 353.7L817.3 354.8L818.0 355.4L818.6 355.4L819.2 354.9L819.8 354.1L820.3 353.2L820.9 352.5L822.3 352.5L822.7 352.5L823.0 348.9L823.4 343.4L823.8 338.0L824.1 328.6L824.5 319.1L824.9 309.7L825.3 302.6L825.6 296.6L826.0 290.7L826.4 284.8L826.8 278.8L827.1 272.9L827.5 267.0L827.9 260.9L828.2 254.8L828.6 248.6L829.0 242.4L829.4 236.3L829.7 230.1L830.1 223.9L830.5 216.3L830.9 208.0L831.2 199.6L831.6 191.3L832.0 182.9L832.4 174.6L832.7 166.2L833.1 160.0L833.5 153.8L833.8 147.6L834.2 141.4L834.6 135.8L835.0 131.6L835.3 127.3L835.7 123.1L836.1 119.8L836.5 118.5L836.8 117.3L837.2 116.0L837.6 114.7L837.9 113.9L838.3 113.3L838.7 112.8L839.1 112.2L839.4 111.7L839.8 111.1L840.2 109.4L840.9 108.6L841.7 108.0L842.4 107.7L843.2 107.5L843.9 107.4L844.7 107.3L845.4 107.3L846.1 107.3L846.9 107.3L847.6 107.2L848.4 107.1L849.1 107.0L849.9 106.9L850.6 106.8L851.4 106.7L852.1 106.7L852.9 106.6L853.6 106.5L854.4 106.5L855.1 106.4L855.8 106.4L856.6 106.4L857.3 106.3L858.1 106.3L858.8 106.3L859.6 106.2L860.3 106.2L861.1 106.2L861.8 106.2L862.6 106.4L863.3 106.6L864.0 106.8L864.8 107.0L865.5 107.3L866.3 107.5L867.0 107.7L867.8 108.0L868.5 108.2L869.3 108.5L870.0 108.8L870.8 109.1L871.5 109.5L872.3 109.8L873.0 110.2L873.7 110.5L874.5 110.9L875.2 111.2L876.0 111.6L876.7 112.1L877.5 112.5L878.2 113.1L879.0 113.8L879.7 115.0L880.5 116.6L881.2 118.6L881.9 120.9L882.7 123.5L883.4 126.3L884.2 129.1L884.9 131.6L885.7 134.0L886.4 136.4L887.2 138.7L887.9 140.9L888.7 143.0L889.4 144.9L890.2 146.0L890.9 146.0L891.6 145.7L892.4 145.1L893.1 144.4L893.9 143.7L894.6 142.8L895.4 141.8L896.1 140.7L896.9 139.4L897.6 138.1L898.4 136.8L899.1 135.4L899.8 134.1L900.6 132.6L901.3 131.1L902.1 129.7L902.8 128.2L903.6 126.8L904.3 125.4L905.1 124.1L905.8 122.8L906.6 121.7L907.3 120.7L908.0 119.7L908.8 118.8L909.5 118.0L910.3 117.2L911.0 116.4L911.8 115.7L912.5 115.1L913.3 114.5L914.0 114.0L914.8 114.4L915.5 114.8L916.3 115.2L917.0 115.7L917.7 116.2L918.5 116.8L919.2 117.4L920.0 118.1L920.7 118.8L921.5 119.5L922.2 120.2L923.0 120.9L923.7 121.6L924.5 122.4L925.2 123.1L925.9 124.0L926.7 125.1L927.4 126.4L928.2 127.9L928.9 129.6L929.7 131.6L930.4 133.8L931.2 136.2L931.9 138.8L932.7 141.6L933.4 144.5L934.2 147.4L934.9 151.1L935.6 155.5L936.4 160.2L937.1 164.9L937.9 169.2L938.6 172.7L939.4 175.6L940.1 177.4L940.9 178.5L941.6 179.3L942.4 180.1L943.1 181.1L943.8 182.2L944.6 183.2L945.3 184.0L946.1 184.7L946.8 184.9L947.6 184.7L948.3 184.5L949.1 184.1L949.8 183.8L950.6 183.4L951.3 183.0L952.1 182.6L952.8 182.2L953.5 181.8L954.3 181.4L955.0 181.0L955.8 180.6L956.5 180.1L957.3 179.8L958.0 179.5L958.8 179.2L959.5 178.9L960.3 178.6L961.0 178.3L961.7 178.0L962.5 177.8L963.2 177.6L964.0 177.5L964.7 177.4L965.5 177.5L966.2 177.6L967.0 177.8L967.7 178.1L968.5 178.5L969.2 178.9L970.0 179.5L970.7 180.2L971.4 180.9L972.2 181.9L972.9 183.0L973.7 184.3L974.4 185.9L975.2 187.6L975.9 189.5L976.7 191.5L977.4 193.5L978.2 195.6L978.9 197.8L979.6 200.1L980.4 202.5L981.1 205.0L981.9 207.5L982.6 210.1L983.4 212.7L984.1 215.4L984.9 218.2L985.6 221.0L986.4 224.1L987.1 227.3L987.9 230.8L988.6 234.5L989.3 238.4L990.1 242.3L990.8 246.1L991.6 249.8L992.3 253.4L993.1 256.9L993.8 260.3L994.6 263.8L995.3 267.4L996.1 270.9L996.8 274.4L997.5 277.9L998.3 281.4L999.0 284.9L999.8 288.5L1000.5 292.1L1001.3 295.7L1002.0 299.4L1002.8 303.1L1003.5 306.8L1004.3 310.6L1005.0 314.3L1005.7 318.2L1006.5 322.1L1007.2 326.0L1008.0 330.2L1008.7 334.7L1009.5 340.5L1010.2 347.4L1011.0 352.9L1011.7 355.9L1012.5 357.6L1013.2 358.4L1014.0 358.6L1014.7 358.4L1015.4 358.1L1016.2 357.6L1016.9 357.0L1017.7 356.3L1018.4 355.4L1019.2 354.3L1019.9 353.2L1020.7 351.9L1021.4 350.5L1022.2 349.1L1022.9 347.6L1023.6 346.1L1024.4 344.4L1025.1 342.7L1025.9 341.0L1026.6 339.3L1027.4 337.5L1028.1 335.8L1028.9 334.0L1029.6 332.3L1030.4 330.6L1031.1 328.9L1031.9 327.3L1032.6 325.6L1033.3 324.0L1034.1 322.3L1034.8 320.6L1035.6 319.0L1036.3 317.3L1037.1 315.7L1037.8 314.0L1038.6 312.4L1039.3 310.8L1040.1 309.2L1040.8 307.6L1041.5 305.9L1042.3 304.3L1043.0 302.6L1043.8 300.9L1044.5 299.2L1045.3 297.4L1046.0 295.7L1046.8 294.1L1047.5 292.4L1048.3 290.9L1049.0 289.4L1049.8 288.0L1050.5 286.7L1051.2 285.6L1052.0 284.6L1052.7 283.7L1053.5 283.0L1054.2 282.3L1055.0 281.7L1055.7 281.2L1056.5 280.8L1057.2 280.4L1058.0 280.0L1058.7 279.7L1059.4 279.5L1060.2 279.3L1060.9 279.1L1061.7 279.0L1062.4 278.8L1063.2 278.7L1063.9 278.7L1064.7 278.7L1065.4 278.8L1066.2 278.9L1066.9 279.1L1067.7 279.4L1068.4 279.7L1069.1 280.0L1069.9 280.4L1070.6 280.8L1071.4 281.2L1072.1 281.6L1072.9 282.1L1073.6 282.7L1074.4 283.2L1075.1 283.8L1075.9 284.4L1076.6 285.1L1077.3 285.8L1078.1 286.6L1078.8 287.4L1079.6 288.3L1080.3 289.3L1081.1 290.4L1081.8 291.6L1082.6 293.0L1083.3 294.4L1084.1 295.8L1084.8 297.2L1085.5 298.5L1086.3 299.7L1087.0 300.7L1087.8 301.6L1088.5 302.4L1089.3 303.1L1090.0 303.8L1090.8 304.4L1091.5 305.0L1092.3 305.5L1093.0 306.0L1093.8 306.5L1094.5 306.7L1095.2 306.6L1096.0 305.9L1096.7 305.5L1097.5 306.0L1098.2 307.4L1099.0 309.0L1099.7 310.7L1100.5 312.4L1101.2 314.0L1102.0 315.7L1102.7 317.3L1103.4 318.8L1104.2 320.3L1104.9 321.8L1105.7 323.4L1106.4 324.9L1107.2 326.3L1107.9 327.8L1108.7 329.3L1109.4 330.8L1110.2 332.2L1110.9 333.6L1111.7 335.0L1112.4 336.3L1113.1 337.7L1113.9 339.2L1114.6 340.7L1115.4 342.2L1116.1 343.7L1116.9 345.3L1117.6 346.8L1118.4 348.4L1119.1 350.0L1119.9 351.6L1120.6 353.2L1121.3 354.8L1122.1 356.4L1122.8 358.0L1123.6 359.6L1124.3 361.2L1125.1 362.8L1125.8 364.4L1126.6 366.0L1127.3 367.6L1128.1 369.3L1128.8 370.9L1129.6 372.6L1130.3 374.2L1131.0 375.9L1131.8 377.5L1132.5 379.2L1133.3 380.8L1134.0 382.4L1134.8 384.0L1135.5 385.6L1136.3 387.1L1137.0 388.6L1137.8 390.0L1138.5 391.0L1139.2 391.6L1140.0 391.7L1140.7 391.3L1141.5 390.4L1142.2 389.3L1143.0 388.4L1143.7 387.8L1144.5 387.2L1145.2 386.6L1146.0 386.0L1146.7 385.4L1147.5 384.7L1148.2 384.0L1148.9 383.4L1149.7 382.6L1150.4 381.9L1151.2 381.2L1151.9 380.5L1152.7 379.8L1153.4 379.0L1154.2 378.3L1154.9 377.5L1155.7 376.8L1156.4 376.0L1157.1 375.2L1157.9 374.4L1158.6 373.6L1159.4 372.8L1160.1 372.0L1160.9 371.2L1161.6 370.4L1162.4 369.6L1163.1 368.8L1163.9 368.0L1164.6 367.3L1165.4 366.5L1166.1 365.8L1166.8 365.1L1167.6 364.4L1168.3 363.7L1169.1 363.1L1169.8 362.4L1170.6 361.8L1171.3 361.1L1172.1 360.5L1172.8 359.9L1173.6 359.2L1174.3 358.6L1175.0 358.1L1175.8 357.5L1176.5 356.9L1177.3 356.4L1178.0 355.9L1178.8 355.4L1179.5 355.0L1180.3 354.5L1181.0 354.1L1181.8 353.7L1182.5 353.3L1183.2 353.0L1184.0 352.7L1184.7 352.5L1185.5 352.3L1186.2 352.1L1187.0 351.9L1187.7 351.8L1188.5 351.6L1189.2 351.5L1190.0 351.3L1190.7 351.2L1191.5 351.0L1192.2 350.9L1192.9 350.7L1193.7 350.5L1194.4 350.3L1195.2 350.2L1195.9 350.0L1196.7 349.9L1197.4 349.8L1198.2 349.7L1198.9 349.7L1199.7 349.7L1200.4 349.8L1201.1 349.9L1201.9 350.1L1202.6 350.3L1203.4 350.5L1204.1 350.8L1204.9 351.1L1205.6 351.4L1206.4 351.8L1207.1 352.1L1207.9 352.5L1208.6 352.9L1209.4 353.3L1210.1 353.7L1210.8 354.1L1211.6 354.5L1212.3 355.0L1213.1 355.4L1213.8 355.8L1214.6 356.3L1215.3 356.7L1216.1 357.2L1216.8 357.6L1217.6 358.1L1218.3 358.5L1219.0 358.9L1219.8 359.4L1220.5 359.8L1221.3 360.2L1222.0 360.7L1222.8 361.1L1223.5 361.6L1224.3 362.0L1225.0 362.4L1225.8 362.8L1226.5 363.3L1227.3 363.7L1228.0 364.1L1228.7 364.5L1229.5 364.9L1230.2 365.3L1231.0 365.8L1231.7 366.2L1232.5 366.6L1233.2 367.0L1234.0 367.4L1234.7 367.8L1235.5 368.2L1236.2 368.6L1236.9 369.0L1237.7 369.4L1238.4 369.9L1239.2 370.3L1239.9 370.7L1240.7 371.2L1241.4 371.6L1242.2 372.1L1242.9 372.5L1243.7 373.0L1244.4 373.5L1245.2 374.0L1245.9 374.5L1246.6 375.0L1247.4 375.5L1248.1 376.0L1248.9 376.5L1249.6 377.0L1250.4 377.5L1251.1 378.0L1251.9 378.4L1252.6 378.9L1253.4 379.4L1254.1 379.8L1254.8 380.3L1255.6 380.7L1256.3 381.1L1257.1 381.5L1257.8 382.0L1258.6 382.4L1259.3 382.8L1260.1 383.3L1260.8 383.7L1261.6 384.2L1262.3 384.7L1263.1 385.2L1263.8 385.7L1264.5 386.3L1265.3 386.9L1266.0 387.6" stroke="#eeee00" stroke-width="2.8" fill="none" stroke-linejoin="round" stroke-linecap="round"/>
<path d="M744.4 388.0L745.2 387.8L745.9 387.6L746.7 387.4L747.5 387.0L748.3 386.2L749.1 385.0L750.0 383.5L750.9 381.7L751.7 379.8L752.5 377.9L753.2 376.0L753.8 374.0L754.4 371.9L755.0 369.7L755.6 367.5L756.2 365.0L756.9 362.3L757.5 359.6L758.2 357.1L758.8 355.0L759.2 353.6L759.6 352.6L760.1 351.8L760.6 351.0L761.2 350.0L762.2 348.6L763.3 347.0L764.5 345.4L765.7 343.8L766.9 342.5L768.1 341.8L769.2 341.4L770.4 341.2L771.5 340.4L772.5 338.8L773.4 336.0L774.1 332.5L774.8 328.5L775.5 324.2L776.2 320.0L777.0 315.6L777.8 310.7L778.5 305.9L779.2 301.3L780.0 297.5L780.7 294.4L781.4 291.8L782.1 289.7L782.9 287.8L783.8 286.2L784.8 284.9L785.9 283.9L787.1 283.2L788.2 282.8L789.4 282.5L790.5 282.5L791.6 282.9L792.6 283.5L793.8 284.0L795.0 284.4L796.4 284.6L797.9 284.7L799.4 284.8L801.0 284.9L802.5 285.0L804.0 285.2L805.6 285.4L807.1 285.7L808.6 286.0L810.0 286.2L811.3 286.6L812.5 287.1L813.6 287.6L814.6 288.0L815.6 288.1L816.5 288.0L817.3 287.7L818.1 287.3L818.8 286.8L819.4 286.2L819.9 285.6L820.4 284.7L820.7 283.8L821.1 282.9L821.5 282.0L822.3 282.0L822.7 282.0L823.0 282.0L823.4 281.0L823.8 278.1L824.1 275.1L824.5 270.7L824.9 265.6L825.3 260.5L825.6 256.0L826.0 252.8L826.4 249.6L826.8 246.4L827.1 243.2L827.5 240.0L827.9 236.7L828.2 233.5L828.6 230.2L829.0 226.8L829.4 223.5L829.7 220.2L830.1 216.8L830.5 213.5L830.9 209.8L831.2 205.2L831.6 200.7L832.0 196.2L832.4 191.7L832.7 187.2L833.1 182.6L833.5 178.9L833.8 175.5L834.2 172.1L834.6 168.8L835.0 165.4L835.3 163.1L835.7 160.8L836.1 158.5L836.5 156.2L836.8 155.5L837.2 154.8L837.6 154.1L837.9 153.4L838.3 152.9L838.7 152.6L839.1 152.3L839.4 152.0L839.8 151.7L840.2 151.4L840.6 151.1L840.7 149.5L841.4 149.1L842.2 148.9L842.9 148.7L843.7 148.7L844.4 148.7L845.2 148.7L845.9 148.8L846.6 148.9L847.4 148.9L848.1 148.9L848.9 148.9L849.6 148.9L850.4 148.9L851.1 148.9L851.9 148.9L852.6 148.9L853.4 148.9L854.1 149.0L854.8 149.0L855.6 149.0L856.3 149.1L857.1 149.1L857.8 149.2L858.6 149.2L859.3 149.3L860.1 149.3L860.8 149.4L861.6 149.5L862.3 149.6L863.1 149.7L863.8 149.8L864.5 149.9L865.3 150.0L866.0 150.1L866.8 150.3L867.5 150.4L868.3 150.6L869.0 150.7L869.8 150.9L870.5 151.1L871.3 151.3L872.0 151.7L872.7 152.2L873.5 152.7L874.2 153.2L875.0 153.8L875.7 154.3L876.5 154.9L877.2 155.5L878.0 156.2L878.7 157.0L879.5 158.0L880.2 159.7L881.0 161.5L881.7 163.7L882.4 166.1L883.2 168.8L883.9 171.5L884.7 174.0L885.4 176.3L886.2 178.6L886.9 180.9L887.7 183.2L888.4 185.3L889.2 187.3L889.9 189.0L890.6 189.0L891.4 188.7L892.1 188.2L892.9 187.6L893.6 186.9L894.4 186.2L895.1 185.3L895.9 184.3L896.6 183.3L897.4 182.1L898.1 180.9L898.9 179.7L899.6 178.5L900.3 177.2L901.1 175.9L901.8 174.6L902.6 173.3L903.3 172.1L904.1 170.8L904.8 169.6L905.6 168.5L906.3 167.4L907.1 166.5L907.8 165.6L908.5 164.8L909.3 164.0L910.0 163.2L910.8 162.5L911.5 161.9L912.3 161.3L913.0 160.7L913.8 160.2L914.5 160.1L915.3 160.3L916.0 160.6L916.8 160.9L917.5 161.2L918.2 161.6L919.0 162.0L919.7 162.5L920.5 162.9L921.2 163.4L922.0 163.9L922.7 164.4L923.5 164.9L924.2 165.4L925.0 166.0L925.7 166.6L926.4 167.3L927.2 168.2L927.9 169.3L928.7 170.6L929.4 172.1L930.2 173.8L930.9 175.7L931.7 177.8L932.4 180.3L933.2 182.8L933.9 185.4L934.6 188.3L935.4 192.0L936.1 196.1L936.9 200.2L937.6 204.1L938.4 207.5L939.1 210.1L939.9 212.1L940.6 213.3L941.4 214.2L942.1 214.9L942.9 215.8L943.6 216.9L944.3 217.9L945.1 218.7L945.8 219.5L946.6 220.0L947.3 220.0L948.1 219.9L948.8 219.7L949.6 219.5L950.3 219.3L951.1 219.1L951.8 218.9L952.5 218.7L953.3 218.5L954.0 218.3L954.8 218.1L955.5 217.8L956.3 217.6L957.0 217.4L957.8 217.2L958.5 217.1L959.3 217.0L960.0 216.8L960.8 216.7L961.5 216.6L962.2 216.5L963.0 216.4L963.7 216.4L964.5 216.5L965.2 216.6L966.0 216.8L966.7 217.0L967.5 217.3L968.2 217.6L969.0 218.0L969.7 218.5L970.4 219.1L971.2 219.8L971.9 220.6L972.7 221.5L973.4 222.6L974.2 223.9L974.9 225.3L975.7 226.9L976.4 228.6L977.2 230.2L977.9 232.0L978.7 233.9L979.4 235.8L980.1 237.8L980.9 239.9L981.6 242.0L982.4 244.2L983.1 246.4L983.9 248.6L984.6 250.9L985.4 253.3L986.1 255.8L986.9 258.4L987.6 261.3L988.3 264.4L989.1 267.6L989.8 270.9L990.6 274.1L991.3 277.2L992.1 280.2L992.8 283.2L993.6 286.1L994.3 289.0L995.1 292.0L995.8 294.9L996.6 297.9L997.3 300.8L998.0 303.7L998.8 306.7L999.5 309.7L1000.3 312.7L1001.0 315.7L1001.8 318.8L1002.5 321.9L1003.3 325.0L1004.0 328.1L1004.8 331.3L1005.5 334.5L1006.2 337.7L1007.0 341.0L1007.7 344.4L1008.5 348.0L1009.2 352.4L1010.0 358.0L1010.7 363.2L1011.5 366.3L1012.2 368.0L1013.0 368.8L1013.7 369.1L1014.5 369.0L1015.2 368.7L1015.9 368.3L1016.7 367.9L1017.4 367.3L1018.2 366.6L1018.9 365.7L1019.7 364.8L1020.4 363.8L1021.2 362.7L1021.9 361.5L1022.7 360.3L1023.4 359.1L1024.1 357.7L1024.9 356.4L1025.6 355.0L1026.4 353.5L1027.1 352.1L1027.9 350.7L1028.6 349.2L1029.4 347.8L1030.1 346.4L1030.9 345.0L1031.6 343.7L1032.3 342.3L1033.1 341.0L1033.8 339.6L1034.6 338.2L1035.3 336.9L1036.1 335.5L1036.8 334.2L1037.6 332.8L1038.3 331.5L1039.1 330.1L1039.8 328.8L1040.6 327.5L1041.3 326.2L1042.0 324.8L1042.8 323.4L1043.5 322.0L1044.3 320.6L1045.0 319.2L1045.8 317.8L1046.5 316.4L1047.3 315.1L1048.0 313.8L1048.8 312.5L1049.5 311.4L1050.2 310.3L1051.0 309.3L1051.7 308.4L1052.5 307.7L1053.2 307.0L1054.0 306.4L1054.7 305.9L1055.5 305.4L1056.2 305.0L1057.0 304.7L1057.7 304.4L1058.5 304.1L1059.2 303.8L1059.9 303.6L1060.7 303.5L1061.4 303.3L1062.2 303.1L1062.9 303.0L1063.7 303.0L1064.4 302.9L1065.2 302.9L1065.9 302.9L1066.7 303.0L1067.4 303.1L1068.1 303.2L1068.9 303.4L1069.6 303.6L1070.4 303.9L1071.1 304.1L1071.9 304.4L1072.6 304.7L1073.4 305.1L1074.1 305.4L1074.9 305.9L1075.6 306.3L1076.4 306.8L1077.1 307.3L1077.8 307.8L1078.6 308.4L1079.3 309.0L1080.1 309.7L1080.8 310.5L1081.6 311.4L1082.3 312.4L1083.1 313.5L1083.8 314.6L1084.6 315.7L1085.3 316.7L1086.0 317.7L1086.8 318.5L1087.5 319.1L1088.3 319.7L1089.0 320.3L1089.8 320.8L1090.5 321.2L1091.3 321.6L1092.0 322.0L1092.8 322.4L1093.5 322.7L1094.3 322.9L1095.0 322.8L1095.7 322.3L1096.5 321.7L1097.2 321.8L1098.0 322.8L1098.7 324.0L1099.5 325.3L1100.2 326.7L1101.0 328.1L1101.7 329.4L1102.5 330.7L1103.2 332.0L1103.9 333.2L1104.7 334.4L1105.4 335.7L1106.2 336.9L1106.9 338.1L1107.7 339.3L1108.4 340.5L1109.2 341.7L1109.9 342.8L1110.7 344.0L1111.4 345.1L1112.2 346.2L1112.9 347.3L1113.6 348.4L1114.4 349.6L1115.1 350.8L1115.9 352.1L1116.6 353.3L1117.4 354.6L1118.1 355.9L1118.9 357.1L1119.6 358.4L1120.4 359.7L1121.1 361.0L1121.8 362.3L1122.6 363.6L1123.3 364.9L1124.1 366.2L1124.8 367.5L1125.6 368.8L1126.3 370.1L1127.1 371.4L1127.8 372.7L1128.6 374.1L1129.3 375.4L1130.0 376.8L1130.8 378.1L1131.5 379.5L1132.3 380.8L1133.0 382.1L1133.8 383.4L1134.5 384.7L1135.3 386.0L1136.0 387.3L1136.8 388.5L1137.5 389.6L1138.3 390.6L1139.0 391.3L1139.7 391.6L1140.5 391.5L1141.2 390.9L1142.0 390.1L1142.7 389.4L1143.5 388.8L1144.2 388.4L1145.0 388.0L1145.7 387.6L1146.5 387.1L1147.2 386.6L1147.9 386.1L1148.7 385.6L1149.4 385.1L1150.2 384.6L1150.9 384.0L1151.7 383.5L1152.4 383.0L1153.2 382.4L1153.9 381.9L1154.7 381.3L1155.4 380.7L1156.2 380.2L1156.9 379.6L1157.6 379.0L1158.4 378.4L1159.1 377.8L1159.9 377.1L1160.6 376.5L1161.4 375.9L1162.1 375.3L1162.9 374.7L1163.6 374.2L1164.4 373.6L1165.1 373.0L1165.8 372.5L1166.6 371.9L1167.3 371.4L1168.1 370.9L1168.8 370.4L1169.6 369.9L1170.3 369.5L1171.1 369.0L1171.8 368.5L1172.6 368.1L1173.3 367.6L1174.1 367.2L1174.8 366.8L1175.5 366.3L1176.3 365.9L1177.0 365.5L1177.8 365.2L1178.5 364.9L1179.3 364.5L1180.0 364.2L1180.8 363.9L1181.5 363.7L1182.3 363.4L1183.0 363.2L1183.7 363.0L1184.5 362.9L1185.2 362.8L1186.0 362.7L1186.7 362.6L1187.5 362.5L1188.2 362.5L1189.0 362.4L1189.7 362.3L1190.5 362.3L1191.2 362.2L1192.0 362.2L1192.7 362.1L1193.4 362.0L1194.2 361.9L1194.9 361.8L1195.7 361.8L1196.4 361.7L1197.2 361.7L1197.9 361.7L1198.7 361.7L1199.4 361.8L1200.2 361.9L1200.9 362.0L1201.6 362.2L1202.4 362.4L1203.1 362.6L1203.9 362.8L1204.6 363.1L1205.4 363.4L1206.1 363.7L1206.9 364.0L1207.6 364.3L1208.4 364.7L1209.1 365.0L1209.8 365.4L1210.6 365.7L1211.3 366.1L1212.1 366.5L1212.8 366.9L1213.6 367.2L1214.3 367.6L1215.1 368.0L1215.8 368.4L1216.6 368.8L1217.3 369.1L1218.1 369.5L1218.8 369.9L1219.5 370.3L1220.3 370.7L1221.0 371.0L1221.8 371.4L1222.5 371.8L1223.3 372.2L1224.0 372.5L1224.8 372.9L1225.5 373.3L1226.3 373.7L1227.0 374.0L1227.7 374.4L1228.5 374.8L1229.2 375.1L1230.0 375.5L1230.7 375.8L1231.5 376.2L1232.2 376.5L1233.0 376.9L1233.7 377.2L1234.5 377.6L1235.2 378.0L1236.0 378.3L1236.7 378.7L1237.4 379.0L1238.2 379.4L1238.9 379.8L1239.7 380.1L1240.4 380.5L1241.2 380.9L1241.9 381.3L1242.7 381.7L1243.4 382.1L1244.2 382.5L1244.9 382.9L1245.6 383.3L1246.4 383.8L1247.1 384.2L1247.9 384.6L1248.6 385.0L1249.4 385.5L1250.1 385.9L1250.9 386.3L1251.6 386.7L1252.4 387.1L1253.1 387.5L1253.9 387.9L1254.6 388.3L1255.3 388.7L1256.1 389.0L1256.8 389.4L1257.6 389.8L1258.3 390.1L1259.1 390.5L1259.8 390.9L1260.6 391.3L1261.3 391.7L1262.1 392.1L1262.8 392.6L1263.5 393.0L1264.3 393.5L1265.0 394.0L1265.8 394.5L1266.5 395.0" stroke="#808000" stroke-width="2.8" fill="none" stroke-linejoin="round" stroke-linecap="round"/>
<path d="M744.2 376.4L745.4 376.1L746.6 375.8L747.7 375.6L748.9 375.3L750.0 375.0L751.0 374.7L751.8 374.4L752.7 374.1L753.7 373.8L755.0 373.5L756.7 373.2L758.6 372.9L760.8 372.7L762.9 372.5L765.0 372.5L767.1 372.8L769.3 373.4L771.5 374.1L773.4 374.5L775.0 374.4L776.1 373.8L776.7 372.9L777.2 371.6L777.5 370.0L778.0 368.0L778.6 365.4L779.1 362.1L779.7 358.7L780.2 355.3L780.8 352.5L781.4 350.2L781.9 348.2L782.5 346.5L783.1 345.0L783.8 343.8L784.4 342.7L785.2 341.8L786.0 341.2L786.7 340.8L787.4 340.8L788.0 341.1L788.6 341.8L789.1 342.7L789.7 343.8L790.3 345.2L791.0 346.9L791.7 349.0L792.4 351.3L793.2 353.5L794.0 355.4L794.8 357.0L795.6 358.3L796.4 359.6L797.3 360.8L798.3 362.0L799.4 363.2L800.5 364.4L801.8 365.6L803.0 366.7L804.2 367.8L805.4 368.8L806.5 369.7L807.7 370.5L808.8 371.3L810.0 372.2L811.2 373.1L812.5 374.1L813.7 375.1L814.8 375.9L815.8 376.6L816.6 377.2L817.2 377.6L817.7 377.9L818.2 378.1L818.8 378.0L819.3 377.6L819.9 376.9L820.5 376.1L821.1 375.2L821.7 374.4L822.3 370.6L822.7 364.9L823.0 359.3L823.4 349.4L823.8 339.6L824.1 329.7L824.5 322.3L824.9 316.1L825.3 309.9L825.6 303.8L826.0 297.6L826.4 291.4L826.8 285.2L827.1 278.9L827.5 272.5L827.9 266.0L828.2 259.6L828.6 253.2L829.0 246.7L829.4 240.3L829.7 232.4L830.1 223.7L830.5 214.9L830.9 206.2L831.2 197.5L831.6 188.8L832.0 180.1L832.4 173.6L832.7 167.2L833.1 160.7L833.5 154.2L833.8 148.4L834.2 144.0L834.6 139.6L835.0 135.1L835.3 131.7L835.7 130.4L836.1 129.0L836.5 127.7L836.8 126.3L837.2 125.5L837.6 124.9L837.9 124.4L838.3 123.8L838.7 123.2L839.1 122.7L839.4 122.1L840.2 121.3L840.9 120.9L841.7 120.7L842.4 120.8L843.2 121.0L843.9 121.0L844.7 121.1L845.4 121.2L846.1 121.3L846.9 121.4L847.6 121.5L848.4 121.6L849.1 121.6L849.9 121.6L850.6 121.7L851.4 121.7L852.1 121.8L852.9 121.8L853.6 121.9L854.4 122.0L855.1 122.1L855.8 122.2L856.6 122.3L857.3 122.4L858.1 122.6L858.8 122.7L859.6 122.8L860.3 122.9L861.1 123.1L861.8 123.2L862.6 123.3L863.3 123.5L864.0 123.6L864.8 123.8L865.5 123.9L866.3 124.0L867.0 124.1L867.8 124.1L868.5 124.2L869.3 124.3L870.0 124.4L870.8 124.5L871.5 124.7L872.3 124.8L873.0 125.0L873.7 125.1L874.5 125.3L875.2 125.4L876.0 125.9L876.7 126.7L877.5 127.4L878.2 128.2L879.0 129.2L879.7 129.9L880.5 130.5L881.2 131.5L881.9 132.8L882.7 134.4L883.4 136.2L884.2 138.0L884.9 139.5L885.7 140.9L886.4 142.3L887.2 143.6L887.9 144.9L888.7 146.0L889.4 146.8L890.2 147.5L890.9 147.8L891.6 148.0L892.4 147.9L893.1 147.6L893.9 147.3L894.6 146.9L895.4 146.4L896.1 145.7L896.9 144.9L897.6 144.1L898.4 143.2L899.1 142.3L899.8 141.4L900.6 140.4L901.3 139.4L902.1 138.4L902.8 137.5L903.6 136.5L904.3 135.6L905.1 134.7L905.8 134.0L906.6 133.3L907.3 132.7L908.0 132.2L908.8 131.8L909.5 131.4L910.3 131.0L911.0 130.7L911.8 130.5L912.5 130.3L913.3 130.2L914.0 130.1L914.8 130.0L915.5 129.9L916.3 129.9L917.0 129.9L917.7 130.0L918.5 130.1L919.2 130.2L920.0 130.4L920.7 130.6L921.5 130.8L922.2 131.1L923.0 131.3L923.7 131.6L924.5 131.9L925.2 132.2L925.9 132.6L926.7 133.2L927.4 134.0L928.2 135.0L928.9 136.3L929.7 137.8L930.4 139.5L931.2 141.4L931.9 143.4L932.7 145.7L933.4 148.0L934.2 150.3L934.9 153.4L935.6 157.2L936.4 161.4L937.1 165.5L937.9 169.2L938.6 172.2L939.4 174.4L940.1 175.6L940.9 176.2L941.6 176.4L942.4 176.6L943.1 177.0L943.8 177.5L944.6 178.0L945.3 178.2L946.1 178.3L946.8 178.1L947.6 178.0L948.3 177.7L949.1 177.4L949.8 177.1L950.6 176.7L951.3 176.3L952.1 175.9L952.8 175.5L953.5 175.1L954.3 174.8L955.0 174.4L955.8 174.0L956.5 173.6L957.3 173.2L958.0 173.0L958.8 172.7L959.5 172.4L960.3 172.1L961.0 171.8L961.7 171.6L962.5 171.3L963.2 171.2L964.0 171.1L964.7 171.1L965.5 171.2L966.2 170.9L967.0 170.7L967.7 170.5L968.5 170.5L969.2 170.6L970.0 170.8L970.7 171.0L971.4 171.5L972.2 172.0L972.9 172.8L973.7 173.8L974.4 175.1L975.2 176.5L975.9 178.2L976.7 179.9L977.4 181.6L978.2 183.4L978.9 185.4L979.6 187.5L980.4 189.7L981.1 191.9L981.9 194.2L982.6 196.6L983.4 199.0L984.1 201.5L984.9 204.0L985.6 206.7L986.4 209.6L987.1 212.6L987.9 216.0L988.6 219.6L989.3 223.4L990.1 227.2L990.8 231.0L991.6 234.5L992.3 237.9L993.1 241.3L993.8 244.6L994.6 248.0L995.3 251.4L996.1 254.8L996.8 258.2L997.5 261.5L998.3 264.9L999.0 268.3L999.8 271.7L1000.5 275.2L1001.3 278.7L1002.0 282.3L1002.8 285.9L1003.5 289.5L1004.3 293.1L1005.0 296.8L1005.7 300.5L1006.5 304.3L1007.2 308.2L1008.0 312.2L1008.7 316.7L1009.5 322.6L1010.2 329.6L1011.0 335.2L1011.7 338.0L1012.5 340.3L1013.2 341.5L1014.0 342.0L1014.7 342.0L1015.4 341.8L1016.2 341.6L1016.9 341.2L1017.7 340.5L1018.4 339.7L1019.2 338.8L1019.9 337.6L1020.7 336.4L1021.4 335.1L1022.2 333.7L1022.9 332.2L1023.6 330.6L1024.4 328.9L1025.1 327.2L1025.9 325.5L1026.6 323.7L1027.4 321.9L1028.1 320.1L1028.9 318.3L1029.6 316.6L1030.4 314.8L1031.1 313.1L1031.9 311.4L1032.6 309.8L1033.3 308.1L1034.1 306.4L1034.8 304.7L1035.6 303.0L1036.3 301.3L1037.1 299.7L1037.8 298.0L1038.6 296.3L1039.3 294.7L1040.1 293.0L1040.8 291.4L1041.5 289.8L1042.3 288.1L1043.0 286.4L1043.8 284.7L1044.5 282.9L1045.3 281.1L1046.0 279.4L1046.8 277.7L1047.5 276.0L1048.3 274.5L1049.0 273.0L1049.8 271.6L1050.5 270.4L1051.2 269.3L1052.0 268.4L1052.7 267.6L1053.5 267.0L1054.2 266.4L1055.0 266.0L1055.7 265.7L1056.5 265.4L1057.2 265.2L1058.0 265.1L1058.7 265.0L1059.4 265.0L1060.2 265.0L1060.9 265.1L1061.7 265.1L1062.4 265.3L1063.2 265.4L1063.9 265.5L1064.7 265.3L1065.4 265.2L1066.2 265.1L1066.9 265.1L1067.7 265.2L1068.4 265.3L1069.1 265.5L1069.9 265.7L1070.6 265.9L1071.4 266.2L1072.1 266.5L1072.9 266.8L1073.6 267.2L1074.4 267.6L1075.1 268.1L1075.9 268.6L1076.6 269.2L1077.3 269.8L1078.1 270.4L1078.8 271.1L1079.6 271.9L1080.3 272.8L1081.1 273.9L1081.8 275.1L1082.6 276.4L1083.3 277.8L1084.1 279.2L1084.8 280.6L1085.5 281.9L1086.3 283.0L1087.0 283.9L1087.8 284.7L1088.5 285.4L1089.3 286.0L1090.0 286.6L1090.8 287.1L1091.5 287.6L1092.3 287.9L1093.0 288.3L1093.8 288.6L1094.5 288.7L1095.2 288.3L1096.0 287.3L1096.7 286.6L1097.5 287.0L1098.2 288.7L1099.0 290.6L1099.7 292.6L1100.5 294.6L1101.2 296.6L1102.0 298.5L1102.7 300.4L1103.4 302.2L1104.2 304.1L1104.9 305.9L1105.7 307.7L1106.4 309.4L1107.2 311.2L1107.9 313.0L1108.7 314.8L1109.4 316.5L1110.2 318.2L1110.9 319.9L1111.7 321.5L1112.4 323.1L1113.1 324.8L1113.9 326.5L1114.6 328.3L1115.4 330.1L1116.1 331.9L1116.9 333.8L1117.6 335.6L1118.4 337.5L1119.1 339.4L1119.9 341.3L1120.6 343.2L1121.3 345.1L1122.1 347.0L1122.8 348.9L1123.6 350.8L1124.3 352.7L1125.1 354.6L1125.8 356.5L1126.6 358.4L1127.3 360.4L1128.1 362.3L1128.8 364.3L1129.6 366.2L1130.3 368.2L1131.0 370.2L1131.8 372.2L1132.5 374.1L1133.3 376.1L1134.0 378.0L1134.8 379.9L1135.5 381.7L1136.3 383.6L1137.0 385.3L1137.8 387.0L1138.5 388.2L1139.2 388.9L1140.0 389.0L1140.7 388.5L1141.5 387.5L1142.2 386.4L1143.0 385.4L1143.7 384.7L1144.5 384.0L1145.2 383.4L1146.0 382.8L1146.7 382.0L1147.5 381.3L1148.2 380.6L1148.9 379.8L1149.7 379.1L1150.4 378.3L1151.2 377.5L1151.9 376.7L1152.7 375.9L1153.4 375.1L1154.2 374.3L1154.9 373.4L1155.7 372.6L1156.4 371.7L1157.1 370.9L1157.9 370.0L1158.6 369.1L1159.4 368.2L1160.1 367.3L1160.9 366.5L1161.6 365.6L1162.4 364.7L1163.1 363.8L1163.9 363.0L1164.6 362.2L1165.4 361.3L1166.1 360.5L1166.8 359.8L1167.6 359.0L1168.3 358.3L1169.1 357.5L1169.8 356.8L1170.6 356.1L1171.3 355.4L1172.1 354.7L1172.8 354.0L1173.6 353.4L1174.3 352.7L1175.0 352.1L1175.8 351.4L1176.5 350.8L1177.3 350.2L1178.0 349.7L1178.8 349.2L1179.5 348.7L1180.3 348.2L1181.0 347.8L1181.8 347.3L1182.5 347.0L1183.2 346.6L1184.0 346.3L1184.7 346.1L1185.5 345.8L1186.2 345.6L1187.0 345.5L1187.7 345.3L1188.5 345.2L1189.2 345.0L1190.0 344.9L1190.7 344.7L1191.5 344.6L1192.2 344.4L1192.9 344.3L1193.7 344.1L1194.4 343.9L1195.2 343.7L1195.9 343.6L1196.7 343.5L1197.4 343.4L1198.2 343.3L1198.9 343.4L1199.7 343.4L1200.4 343.6L1201.1 343.7L1201.9 344.0L1202.6 344.2L1203.4 344.6L1204.1 344.9L1204.9 345.3L1205.6 345.8L1206.4 346.2L1207.1 346.7L1207.9 347.1L1208.6 347.6L1209.4 348.1L1210.1 348.7L1210.8 349.2L1211.6 349.7L1212.3 350.2L1213.1 350.8L1213.8 351.3L1214.6 351.9L1215.3 352.4L1216.1 353.0L1216.8 353.5L1217.6 354.1L1218.3 354.6L1219.0 355.2L1219.8 355.7L1220.5 356.2L1221.3 356.8L1222.0 357.3L1222.8 357.9L1223.5 358.4L1224.3 359.0L1225.0 359.5L1225.8 360.0L1226.5 360.6L1227.3 361.1L1228.0 361.6L1228.7 362.1L1229.5 362.6L1230.2 363.2L1231.0 363.7L1231.7 364.2L1232.5 364.7L1233.2 365.2L1234.0 365.7L1234.7 366.2L1235.5 366.7L1236.2 367.3L1236.9 367.8L1237.7 368.3L1238.4 368.8L1239.2 369.3L1239.9 369.9L1240.7 370.4L1241.4 371.0L1242.2 371.5L1242.9 372.1L1243.7 372.7L1244.4 373.3L1245.2 373.9L1245.9 374.5L1246.6 375.1L1247.4 375.7L1248.1 376.3L1248.9 376.9L1249.6 377.5L1250.4 378.1L1251.1 378.7L1251.9 379.3L1252.6 379.9L1253.4 380.5L1254.1 381.0L1254.8 381.6L1255.6 382.1L1256.3 382.6L1257.1 383.2L1257.8 383.7L1258.6 384.2L1259.3 384.8L1260.1 385.3L1260.8 385.9L1261.6 386.5L1262.3 387.1L1263.1 387.7L1263.8 388.3L1264.5 389.0L1265.3 389.8L1266.0 390.5" stroke="#000080" stroke-width="2.8" fill="none" stroke-linejoin="round" stroke-linecap="round"/>
<path d="M744.2 390.0L745.3 389.8L746.3 389.6L747.4 389.4L748.6 389.2L750.0 389.0L751.7 388.8L753.6 388.6L755.7 388.4L757.8 388.2L760.0 388.0L762.4 387.8L765.0 387.7L767.7 387.5L770.1 387.3L772.0 387.0L773.3 386.6L774.2 386.2L774.8 385.7L775.3 385.0L776.0 384.0L776.8 382.8L777.6 381.3L778.4 379.6L779.2 377.8L780.0 376.0L780.7 374.1L781.4 372.0L782.1 369.8L782.8 367.8L783.5 366.0L784.3 364.4L785.0 362.8L785.8 361.5L786.6 360.5L787.4 360.0L788.1 360.1L788.8 360.8L789.5 361.7L790.3 362.9L791.0 364.0L791.7 365.1L792.3 366.4L793.0 367.7L793.9 369.1L795.0 370.5L796.5 371.9L798.2 373.5L800.2 375.0L802.1 376.5L804.0 378.0L805.8 379.5L807.7 381.0L809.6 382.5L811.3 383.8L812.9 385.0L814.3 386.0L815.6 386.9L816.8 387.7L817.8 388.2L818.8 388.5L819.5 388.4L820.1 387.9L820.7 387.3L821.2 386.6L821.7 386.0L822.3 386.0L822.7 386.0L823.0 386.0L823.4 384.5L823.8 379.9L824.1 375.4L824.5 368.6L824.9 360.7L825.3 352.8L825.6 345.9L826.0 340.9L826.4 335.9L826.8 331.0L827.1 326.0L827.5 321.0L827.9 316.0L828.2 311.1L828.6 305.9L829.0 300.7L829.4 295.6L829.7 290.4L830.1 285.3L830.5 280.1L830.9 274.3L831.2 267.3L831.6 260.3L832.0 253.4L832.4 246.4L832.7 239.4L833.1 232.4L833.5 226.6L833.8 221.4L834.2 216.2L834.6 211.0L835.0 205.8L835.3 202.2L835.7 198.7L836.1 195.1L836.5 191.6L836.8 190.5L837.2 189.4L837.6 188.3L837.9 187.3L838.3 186.4L838.7 185.9L839.1 185.5L839.4 185.0L839.8 184.6L840.2 184.1L840.6 183.7L840.7 182.2L841.4 181.7L842.2 181.5L842.9 181.3L843.7 181.2L844.4 181.2L845.2 181.2L845.9 181.2L846.6 181.2L847.4 181.3L848.1 181.2L848.9 181.2L849.6 181.1L850.4 181.1L851.1 181.0L851.9 181.0L852.6 181.0L853.4 181.0L854.1 180.9L854.8 180.9L855.6 180.9L856.3 180.9L857.1 180.9L857.8 180.9L858.6 180.9L859.3 180.9L860.1 181.0L860.8 181.0L861.6 181.0L862.3 181.0L863.1 181.1L863.8 181.1L864.5 181.1L865.3 181.2L866.0 181.2L866.8 181.3L867.5 181.3L868.3 181.4L869.0 181.5L869.8 181.6L870.5 181.7L871.3 181.8L872.0 182.0L872.7 182.1L873.5 182.2L874.2 182.4L875.0 182.5L875.7 182.7L876.5 182.9L877.2 183.1L878.0 183.4L878.7 183.7L879.5 184.0L880.2 184.1L881.0 184.4L881.7 185.0L882.4 185.9L883.2 186.9L883.9 188.0L884.7 189.0L885.4 189.7L886.2 190.4L886.9 191.2L887.7 191.8L888.4 192.4L889.2 192.8L889.9 193.0L890.6 193.3L891.4 193.4L892.1 193.3L892.9 193.1L893.6 192.8L894.4 192.4L895.1 191.9L895.9 191.3L896.6 190.6L897.4 189.9L898.1 189.1L898.9 188.3L899.6 187.5L900.3 186.6L901.1 185.7L901.8 184.8L902.6 183.9L903.3 183.1L904.1 182.2L904.8 181.4L905.6 180.7L906.3 180.0L907.1 179.5L907.8 179.0L908.5 178.5L909.3 178.1L910.0 177.7L910.8 177.4L911.5 177.1L912.3 176.9L913.0 176.7L913.8 176.5L914.5 176.3L915.3 176.1L916.0 176.0L916.8 175.8L917.5 175.7L918.2 175.7L919.0 175.7L919.7 175.7L920.5 175.7L921.2 175.7L922.0 175.8L922.7 175.9L923.5 175.9L924.2 176.0L925.0 176.1L925.7 176.3L926.4 176.5L927.2 177.0L927.9 177.6L928.7 178.5L929.4 179.5L930.2 180.7L930.9 182.0L931.7 183.5L932.4 185.0L933.2 186.6L933.9 188.3L934.6 190.3L935.4 193.1L936.1 196.2L936.9 199.5L937.6 202.4L938.4 204.9L939.1 206.6L939.9 207.7L940.6 207.9L941.4 207.8L942.1 207.6L942.9 207.6L943.6 207.7L944.3 207.7L945.1 207.7L945.8 207.4L946.6 207.0L947.3 206.9L948.1 206.7L948.8 206.5L949.6 206.3L950.3 206.0L951.1 205.7L951.8 205.4L952.5 205.1L953.3 204.8L954.0 204.6L954.8 204.3L955.5 204.0L956.3 203.6L957.0 203.4L957.8 203.2L958.5 203.0L959.3 202.8L960.0 202.6L960.8 202.3L961.5 202.2L962.2 202.0L963.0 201.9L963.7 201.8L964.5 201.8L965.2 202.0L966.0 202.1L966.7 202.4L967.5 202.7L968.2 203.1L969.0 203.6L969.7 204.1L970.4 204.8L971.2 205.5L971.9 206.4L972.7 207.4L973.4 208.6L974.2 210.0L974.9 211.6L975.7 213.3L976.4 215.1L977.2 217.0L977.9 218.9L978.7 220.9L979.4 223.0L980.1 225.2L980.9 227.5L981.6 229.8L982.4 232.1L983.1 234.5L983.9 236.9L984.6 239.4L985.4 242.0L986.1 244.7L986.9 247.6L987.6 250.7L988.3 254.0L989.1 257.5L989.8 261.0L990.6 264.5L991.3 267.9L992.1 271.2L992.8 274.4L993.6 277.5L994.3 280.7L995.1 283.9L995.8 287.1L996.6 290.3L997.3 293.4L998.0 296.6L998.8 299.8L999.5 303.0L1000.3 306.3L1001.0 309.6L1001.8 312.9L1002.5 316.3L1003.3 319.6L1004.0 323.0L1004.8 326.4L1005.5 329.9L1006.2 333.4L1007.0 336.9L1007.7 340.6L1008.5 344.5L1009.2 349.3L1010.0 355.2L1010.7 360.9L1011.5 364.3L1012.2 366.1L1013.0 366.9L1013.7 367.1L1014.5 366.9L1015.2 366.4L1015.9 365.9L1016.7 365.3L1017.4 364.5L1018.2 363.6L1018.9 362.5L1019.7 361.4L1020.4 360.1L1021.2 358.7L1021.9 357.3L1022.7 355.8L1023.4 354.2L1024.1 352.6L1024.9 350.9L1025.6 349.2L1026.4 347.5L1027.1 345.8L1027.9 344.0L1028.6 342.3L1029.4 340.6L1030.1 338.9L1030.9 337.2L1031.6 335.5L1032.3 333.8L1033.1 332.2L1033.8 330.5L1034.6 328.8L1035.3 327.2L1036.1 325.5L1036.8 323.9L1037.6 322.2L1038.3 320.6L1039.1 318.9L1039.8 317.3L1040.6 315.7L1041.3 314.1L1042.0 312.4L1042.8 310.8L1043.5 309.1L1044.3 307.3L1045.0 305.6L1045.8 303.9L1046.5 302.2L1047.3 300.6L1048.0 299.0L1048.8 297.4L1049.5 296.0L1050.2 294.6L1051.0 293.4L1051.7 292.3L1052.5 291.3L1053.2 290.4L1054.0 289.7L1054.7 289.0L1055.5 288.3L1056.2 287.8L1057.0 287.3L1057.7 286.8L1058.5 286.4L1059.2 286.0L1059.9 285.7L1060.7 285.3L1061.4 285.1L1062.2 284.8L1062.9 284.6L1063.7 284.4L1064.4 284.4L1065.2 284.4L1065.9 284.5L1066.7 284.7L1067.4 284.9L1068.1 285.1L1068.9 285.4L1069.6 285.8L1070.4 286.1L1071.1 286.5L1071.9 286.9L1072.6 287.3L1073.4 287.8L1074.1 288.3L1074.9 288.9L1075.6 289.5L1076.4 290.1L1077.1 290.8L1077.8 291.5L1078.6 292.2L1079.3 293.0L1080.1 293.9L1080.8 294.9L1081.6 296.0L1082.3 297.3L1083.1 298.6L1083.8 300.0L1084.6 301.3L1085.3 302.6L1086.0 303.8L1086.8 304.8L1087.5 305.6L1088.3 306.4L1089.0 307.1L1089.8 307.8L1090.5 308.4L1091.3 308.9L1092.0 309.5L1092.8 309.9L1093.5 310.4L1094.3 310.7L1095.0 310.7L1095.7 310.2L1096.5 309.6L1097.2 309.8L1098.0 310.9L1098.7 312.4L1099.5 313.9L1100.2 315.5L1101.0 317.1L1101.7 318.7L1102.5 320.2L1103.2 321.7L1103.9 323.2L1104.7 324.6L1105.4 326.0L1106.2 327.5L1106.9 328.9L1107.7 330.3L1108.4 331.7L1109.2 333.1L1109.9 334.5L1110.7 335.9L1111.4 337.2L1112.2 338.5L1112.9 339.8L1113.6 341.1L1114.4 342.5L1115.1 343.9L1115.9 345.4L1116.6 346.9L1117.4 348.4L1118.1 349.9L1118.9 351.4L1119.6 352.9L1120.4 354.4L1121.1 356.0L1121.8 357.5L1122.6 359.0L1123.3 360.5L1124.1 362.1L1124.8 363.6L1125.6 365.1L1126.3 366.6L1127.1 368.2L1127.8 369.7L1128.6 371.3L1129.3 372.9L1130.0 374.4L1130.8 376.0L1131.5 377.6L1132.3 379.2L1133.0 380.7L1133.8 382.3L1134.5 383.8L1135.3 385.3L1136.0 386.8L1136.8 388.2L1137.5 389.6L1138.3 390.6L1139.0 391.4L1139.7 391.7L1140.5 391.5L1141.2 390.8L1142.0 389.9L1142.7 389.1L1143.5 388.5L1144.2 387.9L1145.0 387.5L1145.7 386.9L1146.5 386.4L1147.2 385.9L1147.9 385.3L1148.7 384.7L1149.4 384.1L1150.2 383.5L1150.9 382.8L1151.7 382.2L1152.4 381.6L1153.2 381.0L1153.9 380.3L1154.7 379.7L1155.4 379.0L1156.2 378.4L1156.9 377.7L1157.6 377.0L1158.4 376.3L1159.1 375.6L1159.9 374.9L1160.6 374.2L1161.4 373.5L1162.1 372.8L1162.9 372.1L1163.6 371.5L1164.4 370.8L1165.1 370.2L1165.8 369.5L1166.6 368.9L1167.3 368.3L1168.1 367.7L1168.8 367.2L1169.6 366.6L1170.3 366.0L1171.1 365.5L1171.8 364.9L1172.6 364.4L1173.3 363.9L1174.1 363.4L1174.8 362.9L1175.5 362.4L1176.3 361.9L1177.0 361.4L1177.8 361.0L1178.5 360.6L1179.3 360.2L1180.0 359.8L1180.8 359.5L1181.5 359.1L1182.3 358.9L1183.0 358.6L1183.7 358.4L1184.5 358.2L1185.2 358.0L1186.0 357.8L1186.7 357.7L1187.5 357.6L1188.2 357.5L1189.0 357.4L1189.7 357.3L1190.5 357.2L1191.2 357.1L1192.0 357.0L1192.7 356.9L1193.4 356.8L1194.2 356.6L1194.9 356.5L1195.7 356.4L1196.4 356.3L1197.2 356.2L1197.9 356.2L1198.7 356.2L1199.4 356.3L1200.2 356.3L1200.9 356.5L1201.6 356.6L1202.4 356.8L1203.1 357.0L1203.9 357.3L1204.6 357.6L1205.4 357.9L1206.1 358.2L1206.9 358.5L1207.6 358.9L1208.4 359.2L1209.1 359.6L1209.8 360.0L1210.6 360.4L1211.3 360.8L1212.1 361.2L1212.8 361.6L1213.6 362.0L1214.3 362.4L1215.1 362.8L1215.8 363.2L1216.6 363.6L1217.3 364.0L1218.1 364.5L1218.8 364.9L1219.5 365.3L1220.3 365.7L1221.0 366.1L1221.8 366.5L1222.5 366.9L1223.3 367.3L1224.0 367.7L1224.8 368.1L1225.5 368.5L1226.3 368.9L1227.0 369.3L1227.7 369.7L1228.5 370.1L1229.2 370.5L1230.0 370.9L1230.7 371.2L1231.5 371.6L1232.2 372.0L1233.0 372.4L1233.7 372.8L1234.5 373.2L1235.2 373.5L1236.0 373.9L1236.7 374.3L1237.4 374.7L1238.2 375.1L1238.9 375.5L1239.7 375.9L1240.4 376.3L1241.2 376.7L1241.9 377.1L1242.7 377.5L1243.4 378.0L1244.2 378.4L1244.9 378.9L1245.6 379.3L1246.4 379.8L1247.1 380.3L1247.9 380.7L1248.6 381.2L1249.4 381.7L1250.1 382.1L1250.9 382.6L1251.6 383.0L1252.4 383.4L1253.1 383.9L1253.9 384.3L1254.6 384.7L1255.3 385.1L1256.1 385.5L1256.8 385.9L1257.6 386.3L1258.3 386.7L1259.1 387.1L1259.8 387.5L1260.6 387.9L1261.3 388.4L1262.1 388.9L1262.8 389.3L1263.5 389.8L1264.3 390.3L1265.0 390.8L1265.8 391.4L1266.5 392.0" stroke="#800080" stroke-width="2.8" fill="none" stroke-linejoin="round" stroke-linecap="round"/>
<path d="M744.2 396.1L746.4 396.0L748.4 396.0L750.5 395.9L752.8 395.8L755.6 395.6L759.1 395.3L763.3 394.9L767.6 394.5L771.5 394.0L774.4 393.5L776.1 393.0L776.9 392.4L777.3 391.8L777.5 391.0L778.0 390.0L778.7 388.7L779.4 387.1L780.1 385.4L780.8 383.7L781.5 382.0L782.2 380.3L783.0 378.5L783.7 376.8L784.4 375.2L785.0 374.0L785.5 373.1L786.0 372.3L786.4 371.8L786.9 371.5L787.4 371.5L788.0 371.7L788.6 372.2L789.2 373.0L789.8 373.9L790.5 375.0L791.1 376.3L791.5 377.9L792.1 379.7L792.9 381.5L794.0 383.1L795.6 384.7L797.7 386.2L799.9 387.7L802.1 389.1L804.2 390.4L806.1 391.5L808.0 392.5L809.8 393.4L811.5 394.2L812.9 394.8L814.1 395.3L815.0 395.8L815.8 396.1L816.5 396.2L817.3 396.2L818.1 396.0L818.8 395.6L819.6 395.1L820.3 394.5L821.0 394.0L822.3 394.0L822.7 394.0L823.0 394.0L823.4 394.0L823.8 394.0L824.1 394.0L824.5 391.5L824.9 387.7L825.3 384.0L825.6 377.5L826.0 371.0L826.4 364.4L826.8 359.5L827.1 355.4L827.5 351.3L827.9 347.2L828.2 343.1L828.6 339.0L829.0 334.9L829.4 330.8L829.7 326.5L830.1 322.3L830.5 318.0L830.9 313.8L831.2 309.5L831.6 305.2L832.0 300.0L832.4 294.2L832.7 288.5L833.1 282.7L833.5 276.9L833.8 271.2L834.2 265.4L834.6 261.1L835.0 256.8L835.3 252.5L835.7 248.2L836.1 244.4L836.5 241.5L836.8 238.6L837.2 235.6L837.6 233.4L837.9 232.5L838.3 231.6L838.7 230.7L839.1 229.8L839.4 229.3L839.8 228.9L840.2 228.5L840.6 228.1L840.9 227.8L841.3 227.4L841.7 225.4L842.4 225.2L843.2 225.1L843.9 225.0L844.7 225.0L845.4 225.0L846.1 224.9L846.9 224.9L847.6 224.9L848.4 224.8L849.1 224.8L849.9 224.7L850.6 224.6L851.4 224.6L852.1 224.5L852.9 224.5L853.6 224.5L854.4 224.4L855.1 224.4L855.8 224.4L856.6 224.3L857.3 224.3L858.1 224.3L858.8 224.3L859.6 224.2L860.3 224.2L861.1 224.2L861.8 224.2L862.6 224.1L863.3 223.9L864.0 223.8L864.8 223.6L865.5 223.5L866.3 223.4L867.0 223.3L867.8 223.2L868.5 223.1L869.3 223.0L870.0 222.9L870.8 222.8L871.5 222.8L872.3 222.7L873.0 222.7L873.7 222.6L874.5 222.6L875.2 222.5L876.0 222.5L876.7 222.5L877.5 222.5L878.2 222.6L879.0 222.7L879.7 223.1L880.5 223.5L881.2 224.2L881.9 225.1L882.7 226.2L883.4 227.4L884.2 228.6L884.9 229.7L885.7 230.6L886.4 231.5L887.2 232.4L887.9 233.3L888.7 234.1L889.4 234.7L890.2 235.1L890.9 235.2L891.6 235.1L892.4 234.9L893.1 234.6L893.9 234.2L894.6 233.8L895.4 233.3L896.1 232.7L896.9 232.0L897.6 231.2L898.4 230.5L899.1 229.8L899.8 229.0L900.6 228.2L901.3 227.4L902.1 226.6L902.8 225.7L903.6 224.9L904.3 224.2L905.1 223.4L905.8 222.8L906.6 222.2L907.3 221.6L908.0 221.1L908.8 220.7L909.5 220.3L910.3 219.9L911.0 219.5L911.8 219.2L912.5 219.0L913.3 218.7L914.0 218.5L914.8 218.8L915.5 219.1L916.3 219.5L917.0 219.9L917.7 220.3L918.5 220.8L919.2 221.2L920.0 221.7L920.7 222.2L921.5 222.8L922.2 223.3L923.0 223.9L923.7 224.4L924.5 224.9L925.2 225.5L925.9 226.1L926.7 226.9L927.4 227.8L928.2 228.8L928.9 230.0L929.7 231.4L930.4 232.9L931.2 234.5L931.9 235.7L932.7 236.9L933.4 238.0L934.2 239.2L934.9 240.9L935.6 243.1L936.4 245.5L937.1 247.9L937.9 250.0L938.6 251.7L939.4 252.8L940.1 253.3L940.9 253.3L941.6 253.1L942.4 252.9L943.1 252.8L943.8 252.8L944.6 252.8L945.3 252.6L946.1 252.3L946.8 251.9L947.6 251.8L948.3 251.6L949.1 251.3L949.8 251.0L950.6 250.7L951.3 250.4L952.1 250.1L952.8 249.8L953.5 249.5L954.3 249.2L955.0 248.9L955.8 248.5L956.5 248.2L957.3 247.9L958.0 247.7L958.8 247.5L959.5 247.2L960.3 247.0L961.0 246.7L961.7 246.5L962.5 246.3L963.2 246.1L964.0 246.0L964.7 246.0L965.5 246.0L966.2 246.1L967.0 246.4L967.7 246.6L968.5 247.0L969.2 247.4L970.0 247.8L970.7 248.4L971.4 249.0L972.2 249.7L972.9 250.5L973.7 251.5L974.4 252.7L975.2 254.0L975.9 255.3L976.7 256.8L977.4 258.2L978.2 259.7L978.9 261.4L979.6 263.0L980.4 264.8L981.1 266.5L981.9 268.4L982.6 270.2L983.4 272.1L984.1 274.0L984.9 276.0L985.6 278.1L986.4 280.2L987.1 282.5L987.9 285.0L988.6 287.7L989.3 290.4L990.1 293.2L990.8 296.0L991.6 298.6L992.3 301.1L993.1 303.6L993.8 306.1L994.6 308.6L995.3 311.1L996.1 313.6L996.8 316.1L997.5 318.6L998.3 321.1L999.0 323.6L999.8 326.1L1000.5 328.7L1001.3 331.3L1002.0 333.9L1002.8 336.5L1003.5 339.2L1004.3 341.8L1005.0 344.5L1005.7 347.2L1006.5 350.0L1007.2 352.8L1008.0 355.7L1008.7 359.0L1009.5 363.0L1010.2 367.8L1011.0 371.7L1011.7 373.9L1012.5 375.0L1013.2 375.5L1014.0 375.6L1014.7 375.4L1015.4 375.1L1016.2 374.7L1016.9 374.3L1017.7 373.7L1018.4 373.0L1019.2 372.3L1019.9 371.4L1020.7 370.5L1021.4 369.5L1022.2 368.5L1022.9 367.4L1023.6 366.2L1024.4 365.1L1025.1 363.9L1025.9 362.6L1026.6 361.4L1027.4 360.1L1028.1 358.9L1028.9 357.6L1029.6 356.4L1030.4 355.2L1031.1 354.0L1031.9 352.8L1032.6 351.6L1033.3 350.4L1034.1 349.2L1034.8 348.0L1035.6 346.8L1036.3 345.6L1037.1 344.4L1037.8 343.2L1038.6 342.1L1039.3 340.9L1040.1 339.7L1040.8 338.6L1041.5 337.4L1042.3 336.2L1043.0 335.0L1043.8 333.8L1044.5 332.5L1045.3 331.3L1046.0 330.1L1046.8 328.9L1047.5 327.7L1048.3 326.6L1049.0 325.5L1049.8 324.5L1050.5 323.6L1051.2 322.7L1052.0 322.0L1052.7 321.3L1053.5 320.8L1054.2 320.2L1055.0 319.8L1055.7 319.4L1056.5 319.0L1057.2 318.7L1058.0 318.4L1058.7 318.2L1059.4 317.9L1060.2 317.7L1060.9 317.6L1061.7 317.4L1062.4 317.2L1063.2 317.1L1063.9 317.1L1064.7 317.0L1065.4 316.9L1066.2 316.9L1066.9 316.9L1067.7 317.0L1068.4 317.1L1069.1 317.3L1069.9 317.4L1070.6 317.6L1071.4 317.8L1072.1 318.0L1072.9 318.2L1073.6 318.5L1074.4 318.8L1075.1 319.2L1075.9 319.5L1076.6 319.9L1077.3 320.3L1078.1 320.7L1078.8 321.2L1079.6 321.7L1080.3 322.3L1081.1 323.0L1081.8 323.8L1082.6 324.7L1083.3 325.6L1084.1 326.5L1084.8 327.4L1085.5 328.3L1086.3 329.0L1087.0 329.6L1087.8 330.2L1088.5 330.6L1089.3 331.1L1090.0 331.4L1090.8 331.8L1091.5 332.1L1092.3 332.4L1093.0 332.6L1093.8 332.8L1094.5 332.9L1095.2 332.7L1096.0 332.1L1096.7 331.7L1097.5 332.0L1098.2 333.2L1099.0 334.5L1099.7 335.8L1100.5 337.2L1101.2 338.5L1102.0 339.9L1102.7 341.1L1103.4 342.4L1104.2 343.7L1104.9 344.9L1105.7 346.1L1106.4 347.4L1107.2 348.6L1107.9 349.8L1108.7 351.0L1109.4 352.3L1110.2 353.4L1110.9 354.6L1111.7 355.7L1112.4 356.9L1113.1 358.0L1113.9 359.2L1114.6 360.4L1115.4 361.7L1116.1 363.0L1116.9 364.2L1117.6 365.5L1118.4 366.8L1119.1 368.1L1119.9 369.4L1120.6 370.7L1121.3 372.0L1122.1 373.3L1122.8 374.6L1123.6 375.9L1124.3 377.2L1125.1 378.5L1125.8 379.8L1126.6 381.1L1127.3 382.4L1128.1 383.7L1128.8 385.1L1129.6 386.4L1130.3 387.7L1131.0 389.1L1131.8 390.4L1132.5 391.7L1133.3 393.1L1134.0 394.4L1134.8 395.7L1135.5 397.0L1136.3 398.2L1137.0 399.4L1137.8 400.6L1138.5 401.1L1139.2 401.3L1140.0 401.3L1140.7 401.0L1141.5 400.5L1142.2 399.9L1143.0 399.3L1143.7 398.9L1144.5 398.6L1145.2 398.2L1146.0 397.8L1146.7 397.4L1147.5 397.0L1148.2 396.6L1148.9 396.2L1149.7 395.7L1150.4 395.3L1151.2 394.8L1151.9 394.4L1152.7 394.0L1153.4 393.5L1154.2 393.1L1154.9 392.6L1155.7 392.1L1156.4 391.7L1157.1 391.2L1157.9 390.7L1158.6 390.2L1159.4 389.7L1160.1 389.2L1160.9 388.8L1161.6 388.3L1162.4 387.8L1163.1 387.3L1163.9 386.8L1164.6 386.4L1165.4 385.9L1166.1 385.5L1166.8 385.0L1167.6 384.6L1168.3 384.2L1169.1 383.8L1169.8 383.4L1170.6 383.0L1171.3 382.6L1172.1 382.2L1172.8 381.8L1173.6 381.4L1174.3 381.0L1175.0 380.7L1175.8 380.3L1176.5 379.9L1177.3 379.6L1178.0 379.3L1178.8 379.0L1179.5 378.6L1180.3 378.3L1181.0 378.1L1181.8 377.8L1182.5 377.5L1183.2 377.3L1184.0 377.1L1184.7 376.9L1185.5 376.7L1186.2 376.6L1187.0 376.4L1187.7 376.3L1188.5 376.1L1189.2 376.0L1190.0 375.9L1190.7 375.7L1191.5 375.6L1192.2 375.4L1192.9 375.3L1193.7 375.1L1194.4 375.0L1195.2 374.8L1195.9 374.7L1196.7 374.5L1197.4 374.4L1198.2 374.4L1198.9 374.3L1199.7 374.3L1200.4 374.3L1201.1 374.4L1201.9 374.5L1202.6 374.6L1203.4 374.7L1204.1 374.9L1204.9 375.1L1205.6 375.3L1206.4 375.5L1207.1 375.7L1207.9 376.0L1208.6 376.2L1209.4 376.5L1210.1 376.7L1210.8 377.0L1211.6 377.2L1212.3 377.5L1213.1 377.7L1213.8 378.0L1214.6 378.3L1215.3 378.6L1216.1 378.8L1216.8 379.1L1217.6 379.4L1218.3 379.6L1219.0 379.9L1219.8 380.2L1220.5 380.4L1221.3 380.7L1222.0 381.0L1222.8 381.2L1223.5 381.5L1224.3 381.7L1225.0 382.0L1225.8 382.3L1226.5 382.5L1227.3 382.8L1228.0 383.0L1228.7 383.3L1229.5 383.5L1230.2 383.8L1231.0 384.1L1231.7 384.3L1232.5 384.6L1233.2 384.8L1234.0 385.0L1234.7 385.3L1235.5 385.5L1236.2 385.8L1236.9 386.1L1237.7 386.3L1238.4 386.6L1239.2 386.8L1239.9 387.1L1240.7 387.4L1241.4 387.6L1242.2 387.9L1242.9 388.2L1243.7 388.5L1244.4 388.8L1245.2 389.0L1245.9 389.3L1246.6 389.6L1247.4 389.9L1248.1 390.3L1248.9 390.6L1249.6 390.9L1250.4 391.2L1251.1 391.4L1251.9 391.7L1252.6 392.0L1253.4 392.3L1254.1 392.6L1254.8 392.8L1255.6 393.1L1256.3 393.4L1257.1 393.6L1257.8 393.9L1258.6 394.1L1259.3 394.4L1260.1 394.7L1260.8 395.0L1261.6 395.3L1262.3 395.6L1263.1 395.9L1263.8 396.2L1264.5 396.5L1265.3 396.9L1266.0 397.3" stroke="#008000" stroke-width="2.8" fill="none" stroke-linejoin="round" stroke-linecap="round"/>
<path d="M744.2 400.8L745.4 400.6L746.5 400.5L747.6 400.3L748.9 400.1L750.4 399.8L752.2 399.4L754.1 399.0L756.2 398.6L758.4 398.1L760.8 397.7L763.5 397.4L766.5 397.1L769.5 396.8L772.2 396.5L774.4 396.1L775.8 395.8L776.7 395.5L777.3 395.1L777.8 394.5L778.5 393.5L779.4 391.9L780.2 389.9L781.1 387.6L781.9 385.3L782.7 383.1L783.4 380.9L784.1 378.6L784.7 376.3L785.3 374.3L785.8 372.7L786.3 371.5L786.7 370.6L787.1 370.0L787.5 369.7L787.9 369.6L788.4 369.9L788.9 370.4L789.4 371.3L789.9 372.3L790.5 373.5L791.0 374.9L791.5 376.6L792.1 378.4L792.9 380.1L794.0 381.7L795.6 383.0L797.7 384.2L799.9 385.3L802.1 386.4L804.2 387.5L806.1 388.7L807.9 389.9L809.7 391.1L811.4 392.3L812.9 393.3L814.3 394.3L815.6 395.3L816.8 396.2L817.8 396.8L818.8 397.0L819.5 396.7L820.1 396.1L820.7 395.1L821.2 394.2L821.7 393.3L822.3 393.3L822.7 393.3L823.0 393.3L823.4 387.6L823.8 381.9L824.1 374.7L824.5 364.8L824.9 354.9L825.3 345.0L825.6 338.7L826.0 332.5L826.4 326.3L826.8 320.0L827.1 313.8L827.5 307.5L827.9 301.3L828.2 294.9L828.6 288.4L829.0 281.9L829.4 275.4L829.7 268.9L830.1 262.5L830.5 256.0L830.9 247.2L831.2 238.4L831.6 229.7L832.0 220.9L832.4 212.1L832.7 203.3L833.1 195.3L833.5 188.8L833.8 182.2L834.2 175.7L834.6 169.2L835.0 164.0L835.3 159.6L835.7 155.1L836.1 150.7L836.5 148.3L836.8 146.9L837.2 145.5L837.6 144.2L837.9 142.8L838.3 142.2L838.7 141.7L839.1 141.1L839.4 140.5L839.8 140.0L840.2 139.4L840.4 137.4L841.2 136.7L841.9 136.2L842.7 135.8L843.4 135.5L844.2 135.3L844.9 135.1L845.7 135.0L846.4 134.9L847.1 134.7L847.9 134.6L848.6 134.4L849.4 134.2L850.1 134.0L850.9 133.8L851.6 133.6L852.4 133.4L853.1 133.2L853.9 133.0L854.6 132.9L855.3 132.7L856.1 132.6L856.8 132.4L857.6 132.3L858.3 132.1L859.1 132.0L859.8 131.8L860.6 131.7L861.3 131.6L862.1 131.5L862.8 131.4L863.6 131.3L864.3 131.2L865.0 131.2L865.8 131.1L866.5 131.1L867.3 131.0L868.0 131.0L868.8 131.4L869.5 131.8L870.3 132.2L871.0 132.6L871.8 133.1L872.5 133.6L873.2 134.0L874.0 134.5L874.7 134.9L875.5 135.4L876.2 135.9L877.0 136.4L877.7 137.1L878.5 137.7L879.2 138.5L880.0 138.9L880.7 139.5L881.4 140.4L882.2 141.7L882.9 143.2L883.7 144.9L884.4 146.4L885.2 147.7L885.9 148.9L886.7 150.1L887.4 151.2L888.2 152.3L888.9 153.2L889.7 153.8L890.4 154.4L891.1 154.7L891.9 154.9L892.6 154.8L893.4 154.7L894.1 154.4L894.9 154.1L895.6 153.6L896.4 153.0L897.1 152.3L897.9 151.6L898.6 150.9L899.3 150.1L900.1 149.3L900.8 148.4L901.6 147.5L902.3 146.7L903.1 145.8L903.8 145.0L904.6 144.2L905.3 143.5L906.1 142.9L906.8 142.4L907.6 141.9L908.3 141.6L909.0 141.2L909.8 141.0L910.5 140.8L911.3 140.6L912.0 140.5L912.8 140.4L913.5 140.4L914.3 140.4L915.0 140.5L915.8 140.6L916.5 140.7L917.2 140.9L918.0 141.1L918.7 141.4L919.5 141.7L920.2 142.0L921.0 142.4L921.7 142.8L922.5 143.1L923.2 143.5L924.0 143.9L924.7 144.3L925.5 144.7L926.2 145.3L926.9 146.1L927.7 147.0L928.4 148.2L929.2 149.6L929.9 151.2L930.7 153.0L931.4 155.0L932.2 157.1L932.9 159.3L933.7 161.6L934.4 163.9L935.1 167.4L935.9 171.2L936.6 175.3L937.4 179.1L938.1 182.5L938.9 185.2L939.6 187.1L940.4 188.1L941.1 188.6L941.9 188.8L942.6 189.1L943.4 189.7L944.1 190.2L944.8 190.7L945.6 190.9L946.3 191.0L947.1 190.9L947.8 190.7L948.6 190.4L949.3 190.1L950.1 189.7L950.8 189.4L951.6 189.0L952.3 188.6L953.0 188.2L953.8 187.9L954.5 187.5L955.3 187.1L956.0 186.7L956.8 186.3L957.5 186.0L958.3 185.7L959.0 185.5L959.8 185.2L960.5 184.9L961.2 184.6L962.0 184.3L962.7 184.1L963.5 184.0L964.2 183.9L965.0 183.9L965.7 183.9L966.5 183.6L967.2 183.3L968.0 183.2L968.7 183.2L969.5 183.2L970.2 183.4L970.9 183.7L971.7 184.1L972.4 184.6L973.2 185.4L973.9 186.4L974.7 187.6L975.4 189.0L976.2 190.5L976.9 192.1L977.7 193.7L978.4 195.5L979.1 197.4L979.9 199.3L980.6 201.4L981.4 203.5L982.1 205.7L982.9 207.9L983.6 210.2L984.4 212.5L985.1 214.9L985.9 217.5L986.6 220.2L987.4 223.2L988.1 226.4L988.8 229.9L989.6 233.5L990.3 237.0L991.1 240.5L991.8 243.8L992.6 247.0L993.3 250.1L994.1 253.3L994.8 256.4L995.6 259.6L996.3 262.8L997.0 266.0L997.8 269.1L998.5 272.3L999.3 275.5L1000.0 278.7L1000.8 282.0L1001.5 285.3L1002.3 288.7L1003.0 292.1L1003.8 295.4L1004.5 298.9L1005.3 302.3L1006.0 305.8L1006.7 309.4L1007.5 313.1L1008.2 317.0L1009.0 321.6L1009.7 327.6L1010.5 334.2L1011.2 338.5L1012.0 340.9L1012.7 342.7L1013.5 343.6L1014.2 343.9L1014.9 343.9L1015.7 343.7L1016.4 343.4L1017.2 342.9L1017.9 342.2L1018.7 341.4L1019.4 340.4L1020.2 339.3L1020.9 338.1L1021.7 336.8L1022.4 335.4L1023.2 333.9L1023.9 332.4L1024.6 330.7L1025.4 329.0L1026.1 327.3L1026.9 325.6L1027.6 323.9L1028.4 322.1L1029.1 320.4L1029.9 318.7L1030.6 317.1L1031.4 315.4L1032.1 313.8L1032.8 312.1L1033.6 310.5L1034.3 308.9L1035.1 307.2L1035.8 305.6L1036.6 304.0L1037.3 302.4L1038.1 300.8L1038.8 299.2L1039.6 297.6L1040.3 296.0L1041.1 294.4L1041.8 292.8L1042.5 291.2L1043.3 289.5L1044.0 287.8L1044.8 286.1L1045.5 284.4L1046.3 282.7L1047.0 281.1L1047.8 279.5L1048.5 278.0L1049.3 276.6L1050.0 275.4L1050.7 274.2L1051.5 273.2L1052.2 272.4L1053.0 271.7L1053.7 271.1L1054.5 270.6L1055.2 270.3L1056.0 270.0L1056.7 269.7L1057.5 269.6L1058.2 269.5L1058.9 269.4L1059.7 269.4L1060.4 269.4L1061.2 269.5L1061.9 269.6L1062.7 269.7L1063.4 269.9L1064.2 269.8L1064.9 269.5L1065.7 269.3L1066.4 269.2L1067.2 269.2L1067.9 269.2L1068.6 269.3L1069.4 269.4L1070.1 269.5L1070.9 269.6L1071.6 269.8L1072.4 270.1L1073.1 270.3L1073.9 270.7L1074.6 271.0L1075.4 271.4L1076.1 271.8L1076.8 272.3L1077.6 272.9L1078.3 273.4L1079.1 274.1L1079.8 274.8L1080.6 275.6L1081.3 276.7L1082.1 277.8L1082.8 279.1L1083.6 280.4L1084.3 281.7L1085.1 283.0L1085.8 284.1L1086.5 285.0L1087.3 285.8L1088.0 286.5L1088.8 287.1L1089.5 287.6L1090.3 288.0L1091.0 288.4L1091.8 288.8L1092.5 289.1L1093.3 289.3L1094.0 289.5L1094.7 289.4L1095.5 288.7L1096.2 287.6L1097.0 287.2L1097.7 288.0L1098.5 289.8L1099.2 291.6L1100.0 293.6L1100.7 295.5L1101.5 297.5L1102.2 299.4L1103.0 301.2L1103.7 303.0L1104.4 304.7L1105.2 306.5L1105.9 308.2L1106.7 310.0L1107.4 311.7L1108.2 313.4L1108.9 315.1L1109.7 316.8L1110.4 318.5L1111.2 320.1L1111.9 321.6L1112.6 323.2L1113.4 324.8L1114.1 326.5L1114.9 328.3L1115.6 330.0L1116.4 331.8L1117.1 333.7L1117.9 335.5L1118.6 337.3L1119.4 339.2L1120.1 341.0L1120.9 342.9L1121.6 344.7L1122.3 346.6L1123.1 348.4L1123.8 350.3L1124.6 352.2L1125.3 354.0L1126.1 355.9L1126.8 357.8L1127.6 359.6L1128.3 361.6L1129.1 363.5L1129.8 365.4L1130.5 367.3L1131.3 369.2L1132.0 371.2L1132.8 373.1L1133.5 375.0L1134.3 376.8L1135.0 378.7L1135.8 380.5L1136.5 382.2L1137.3 383.9L1138.0 385.4L1138.8 386.6L1139.5 387.2L1140.2 387.1L1141.0 386.4L1141.7 385.2L1142.5 384.1L1143.2 383.2L1144.0 382.5L1144.7 381.8L1145.5 381.2L1146.2 380.5L1147.0 379.7L1147.7 379.0L1148.4 378.2L1149.2 377.4L1149.9 376.6L1150.7 375.8L1151.4 375.0L1152.2 374.2L1152.9 373.3L1153.7 372.5L1154.4 371.7L1155.2 370.8L1155.9 369.9L1156.6 369.0L1157.4 368.1L1158.1 367.2L1158.9 366.3L1159.6 365.4L1160.4 364.4L1161.1 363.5L1161.9 362.6L1162.6 361.7L1163.4 360.8L1164.1 359.9L1164.9 359.1L1165.6 358.2L1166.3 357.4L1167.1 356.6L1167.8 355.8L1168.6 355.1L1169.3 354.3L1170.1 353.6L1170.8 352.9L1171.6 352.1L1172.3 351.4L1173.1 350.7L1173.8 350.1L1174.5 349.4L1175.3 348.7L1176.0 348.1L1176.8 347.5L1177.5 346.9L1178.3 346.4L1179.0 345.8L1179.8 345.3L1180.5 344.8L1181.3 344.4L1182.0 344.0L1182.8 343.6L1183.5 343.3L1184.2 343.0L1185.0 342.8L1185.7 342.6L1186.5 342.4L1187.2 342.2L1188.0 342.1L1188.7 342.0L1189.5 341.8L1190.2 341.7L1191.0 341.6L1191.7 341.4L1192.4 341.3L1193.2 341.1L1193.9 340.9L1194.7 340.8L1195.4 340.6L1196.2 340.5L1196.9 340.4L1197.7 340.3L1198.4 340.2L1199.2 340.2L1199.9 340.2L1200.7 340.3L1201.4 340.4L1202.1 340.5L1202.9 340.7L1203.6 340.9L1204.4 341.2L1205.1 341.4L1205.9 341.7L1206.6 342.1L1207.4 342.4L1208.1 342.8L1208.9 343.1L1209.6 343.5L1210.3 343.9L1211.1 344.3L1211.8 344.8L1212.6 345.2L1213.3 345.6L1214.1 346.1L1214.8 346.5L1215.6 346.9L1216.3 347.4L1217.1 347.8L1217.8 348.2L1218.6 348.7L1219.3 349.1L1220.0 349.5L1220.8 350.0L1221.5 350.4L1222.3 350.8L1223.0 351.3L1223.8 351.7L1224.5 352.1L1225.3 352.5L1226.0 353.0L1226.8 353.4L1227.5 353.8L1228.2 354.2L1229.0 354.6L1229.7 355.0L1230.5 355.4L1231.2 355.8L1232.0 356.2L1232.7 356.6L1233.5 357.0L1234.2 357.4L1235.0 357.8L1235.7 358.2L1236.5 358.6L1237.2 359.0L1237.9 359.4L1238.7 359.8L1239.4 360.2L1240.2 360.6L1240.9 361.1L1241.7 361.5L1242.4 362.0L1243.2 362.4L1243.9 362.9L1244.7 363.4L1245.4 363.9L1246.1 364.4L1246.9 364.9L1247.6 365.4L1248.4 366.0L1249.1 366.5L1249.9 367.0L1250.6 367.5L1251.4 368.0L1252.1 368.5L1252.9 368.9L1253.6 369.4L1254.3 369.8L1255.1 370.3L1255.8 370.7L1256.6 371.1L1257.3 371.5L1258.1 371.9L1258.8 372.3L1259.6 372.8L1260.3 373.2L1261.1 373.7L1261.8 374.2L1262.6 374.7L1263.3 375.3L1264.0 375.8L1264.8 376.4L1265.5 377.1L1266.3 377.8" stroke="#008080" stroke-width="2.8" fill="none" stroke-linejoin="round" stroke-linecap="round"/>
<path d="M744.4 363.1L745.1 358.1L745.8 353.1L746.5 348.1L747.2 343.3L748.1 338.8L749.1 334.5L750.2 330.5L751.4 326.7L752.6 323.2L753.8 320.0L754.9 317.1L756.0 314.5L757.1 312.2L758.3 310.3L759.4 308.8L760.5 307.8L761.6 307.4L762.8 307.3L763.9 307.2L765.0 306.9L766.1 306.4L767.3 305.8L768.5 305.1L769.6 304.2L770.6 303.1L771.5 301.7L772.3 300.2L773.0 298.4L773.7 296.3L774.4 293.8L775.1 290.6L775.8 287.0L776.5 283.1L777.2 279.0L778.1 275.0L779.1 270.8L780.3 266.3L781.5 261.9L782.6 257.8L783.8 254.4L784.7 251.6L785.7 249.2L786.6 247.3L787.5 246.1L788.6 245.8L789.8 246.6L791.1 248.6L792.4 251.2L793.7 253.9L795.0 256.2L796.2 258.3L797.3 260.3L798.4 262.2L799.5 264.0L800.6 265.6L801.7 266.9L802.9 267.9L804.0 268.8L805.1 269.8L806.2 271.2L807.4 273.2L808.5 275.4L809.7 277.9L810.8 280.3L811.9 282.5L813.0 284.6L814.0 286.7L815.0 288.6L815.9 290.4L816.8 291.9L817.4 293.1L818.0 294.2L818.5 295.0L818.9 295.5L819.4 295.6L819.9 295.2L820.3 294.4L820.7 293.2L821.1 292.1L821.5 291.0L822.3 267.7L822.7 261.1L823.0 256.1L823.4 252.0L823.8 247.8L824.1 243.7L824.5 239.5L824.9 235.4L825.3 231.2L825.6 227.0L826.0 222.7L826.4 218.4L826.8 214.1L827.1 209.8L827.5 205.5L827.9 201.2L828.2 195.9L828.6 190.0L829.0 184.2L829.4 178.4L829.7 172.5L830.1 166.7L830.5 160.9L830.9 156.5L831.2 152.2L831.6 147.8L832.0 143.5L832.4 139.6L832.7 136.6L833.1 133.7L833.5 130.7L833.8 128.5L834.2 127.6L834.6 126.6L835.0 125.7L835.3 124.8L835.7 124.3L836.1 123.9L836.5 123.5L836.8 123.1L837.2 122.8L837.6 122.4L837.9 123.6L838.7 122.6L839.4 122.0L840.2 120.8L840.9 119.9L841.7 119.3L842.4 119.0L843.2 118.7L843.9 118.5L844.7 118.4L845.4 118.3L846.1 118.3L846.9 118.2L847.6 118.1L848.4 118.0L849.1 117.8L849.9 117.7L850.6 117.5L851.4 118.0L852.1 118.5L852.9 119.0L853.6 119.5L854.4 120.0L855.1 120.5L855.8 121.0L856.6 121.5L857.3 122.1L858.1 122.6L858.8 123.1L859.6 123.6L860.3 123.9L861.1 124.3L861.8 124.6L862.6 125.0L863.3 125.3L864.0 125.7L864.8 126.0L865.5 126.4L866.3 126.7L867.0 127.2L867.8 127.7L868.5 128.2L869.3 128.7L870.0 129.2L870.8 129.8L871.5 130.3L872.3 130.9L873.0 131.5L873.7 132.3L874.5 133.1L875.2 133.9L876.0 134.7L876.7 135.6L877.5 136.5L878.2 137.5L879.0 138.6L879.7 140.4L880.5 142.5L881.2 144.9L881.9 147.7L882.7 150.7L883.4 153.9L884.2 157.1L884.9 160.1L885.7 162.9L886.4 165.7L887.2 168.4L887.9 171.1L888.7 173.7L889.4 176.1L890.2 177.8L890.9 178.7L891.6 179.4L892.4 179.8L893.1 180.2L893.9 180.4L894.6 179.8L895.4 178.7L896.1 177.5L896.9 176.2L897.6 174.8L898.4 173.4L899.1 172.0L899.8 170.5L900.6 169.0L901.3 167.5L902.1 165.9L902.8 164.4L903.6 162.9L904.3 161.5L905.1 160.1L905.8 158.8L906.6 157.5L907.3 156.4L908.0 155.3L908.8 154.3L909.5 153.3L910.3 152.4L911.0 151.5L911.8 150.6L912.5 149.9L913.3 149.1L914.0 148.4L914.8 148.5L915.5 148.7L916.3 149.0L917.0 149.2L917.7 149.6L918.5 149.9L919.2 150.3L920.0 150.7L920.7 151.2L921.5 151.6L922.2 152.1L923.0 152.6L923.7 153.0L924.5 153.5L925.2 154.1L925.9 154.7L926.7 155.5L927.4 156.4L928.2 157.6L928.9 159.0L929.7 160.6L930.4 162.4L931.2 164.3L931.9 166.7L932.7 169.2L933.4 171.8L934.2 174.4L934.9 177.7L935.6 181.7L936.4 186.0L937.1 190.2L937.9 194.0L938.6 197.2L939.4 199.8L940.1 201.4L940.9 202.5L941.6 203.2L942.4 203.9L943.1 204.9L943.8 205.9L944.6 206.8L945.3 207.6L946.1 208.2L946.8 208.5L947.6 208.4L948.3 208.2L949.1 208.0L949.8 207.7L950.6 207.5L951.3 207.2L952.1 206.9L952.8 206.6L953.5 206.3L954.3 206.1L955.0 205.8L955.8 205.5L956.5 205.2L957.3 204.9L958.0 204.7L958.8 204.6L959.5 204.3L960.3 204.1L961.0 203.9L961.7 203.8L962.5 203.6L963.2 203.5L964.0 203.5L964.7 203.6L965.5 203.7L966.2 203.3L967.0 202.9L967.7 202.7L968.5 202.5L969.2 202.5L970.0 202.5L970.7 202.6L971.4 202.8L972.2 203.2L972.9 203.7L973.7 204.5L974.4 205.4L975.2 206.6L975.9 207.9L976.7 209.2L977.4 210.6L978.2 212.1L978.9 213.7L979.6 215.4L980.4 217.2L981.1 219.0L981.9 220.9L982.6 222.8L983.4 224.8L984.1 226.9L984.9 229.0L985.6 231.2L986.4 233.6L987.1 236.1L987.9 238.9L988.6 242.0L989.3 245.2L990.1 248.4L990.8 251.6L991.6 254.6L992.3 257.4L993.1 260.3L993.8 263.1L994.6 265.9L995.3 268.7L996.1 271.6L996.8 274.4L997.5 277.2L998.3 280.0L999.0 282.9L999.8 285.8L1000.5 288.7L1001.3 291.7L1002.0 294.7L1002.8 297.7L1003.5 300.7L1004.3 303.8L1005.0 306.9L1005.7 310.0L1006.5 313.2L1007.2 316.5L1008.0 319.9L1008.7 323.7L1009.5 328.7L1010.2 334.8L1011.0 339.5L1011.7 341.9L1012.5 344.1L1013.2 345.2L1014.0 345.6L1014.7 345.7L1015.4 345.5L1016.2 345.2L1016.9 344.8L1017.7 344.2L1018.4 343.4L1019.2 342.5L1019.9 341.4L1020.7 340.3L1021.4 339.0L1022.2 337.7L1022.9 336.3L1023.6 334.7L1024.4 333.1L1025.1 331.5L1025.9 329.8L1026.6 328.1L1027.4 326.4L1028.1 324.7L1028.9 323.0L1029.6 321.3L1030.4 319.7L1031.1 318.0L1031.9 316.4L1032.6 314.8L1033.3 313.2L1034.1 311.6L1034.8 310.0L1035.6 308.4L1036.3 306.8L1037.1 305.2L1037.8 303.6L1038.6 302.0L1039.3 300.4L1040.1 298.9L1040.8 297.3L1041.5 295.8L1042.3 294.2L1043.0 292.5L1043.8 290.9L1044.5 289.2L1045.3 287.5L1046.0 285.8L1046.8 284.2L1047.5 282.6L1048.3 281.1L1049.0 279.7L1049.8 278.4L1050.5 277.2L1051.2 276.2L1052.0 275.3L1052.7 274.6L1053.5 274.0L1054.2 273.4L1055.0 273.0L1055.7 272.7L1056.5 272.4L1057.2 272.2L1058.0 272.1L1058.7 272.0L1059.4 272.0L1060.2 272.0L1060.9 272.0L1061.7 272.1L1062.4 272.2L1063.2 272.3L1063.9 272.4L1064.7 272.3L1065.4 272.2L1066.2 272.2L1066.9 272.3L1067.7 272.4L1068.4 272.6L1069.1 272.8L1069.9 273.0L1070.6 273.3L1071.4 273.6L1072.1 273.9L1072.9 274.3L1073.6 274.7L1074.4 275.1L1075.1 275.6L1075.9 276.2L1076.6 276.7L1077.3 277.4L1078.1 278.0L1078.8 278.8L1079.6 279.5L1080.3 280.4L1081.1 281.5L1081.8 282.7L1082.6 284.0L1083.3 285.4L1084.1 286.8L1084.8 288.1L1085.5 289.4L1086.3 290.5L1087.0 291.4L1087.8 292.2L1088.5 292.9L1089.3 293.5L1090.0 294.1L1090.8 294.6L1091.5 295.1L1092.3 295.5L1093.0 295.9L1093.8 296.2L1094.5 296.4L1095.2 296.1L1096.0 295.2L1096.7 294.6L1097.5 295.0L1098.2 296.5L1099.0 298.1L1099.7 299.8L1100.5 301.6L1101.2 303.3L1102.0 305.1L1102.7 306.7L1103.4 308.3L1104.2 309.9L1104.9 311.4L1105.7 313.0L1106.4 314.5L1107.2 316.1L1107.9 317.6L1108.7 319.1L1109.4 320.6L1110.2 322.1L1110.9 323.5L1111.7 324.9L1112.4 326.3L1113.1 327.7L1113.9 329.2L1114.6 330.7L1115.4 332.3L1116.1 333.9L1116.9 335.5L1117.6 337.1L1118.4 338.7L1119.1 340.4L1119.9 342.0L1120.6 343.7L1121.3 345.4L1122.1 347.0L1122.8 348.7L1123.6 350.3L1124.3 352.0L1125.1 353.7L1125.8 355.3L1126.6 357.0L1127.3 358.7L1128.1 360.4L1128.8 362.1L1129.6 363.8L1130.3 365.5L1131.0 367.3L1131.8 369.0L1132.5 370.7L1133.3 372.4L1134.0 374.1L1134.8 375.7L1135.5 377.4L1136.3 378.9L1137.0 380.4L1137.8 381.9L1138.5 383.3L1139.2 384.2L1140.0 384.4L1140.7 383.9L1141.5 382.7L1142.2 381.4L1143.0 380.3L1143.7 379.5L1144.5 378.8L1145.2 378.1L1146.0 377.3L1146.7 376.5L1147.5 375.7L1148.2 374.9L1148.9 374.0L1149.7 373.2L1150.4 372.3L1151.2 371.4L1151.9 370.5L1152.7 369.6L1153.4 368.7L1154.2 367.8L1154.9 366.9L1155.7 365.9L1156.4 364.9L1157.1 364.0L1157.9 363.0L1158.6 362.0L1159.4 361.0L1160.1 360.0L1160.9 359.0L1161.6 358.0L1162.4 357.0L1163.1 356.0L1163.9 355.0L1164.6 354.1L1165.4 353.2L1166.1 352.2L1166.8 351.4L1167.6 350.5L1168.3 349.7L1169.1 348.9L1169.8 348.1L1170.6 347.3L1171.3 346.5L1172.1 345.7L1172.8 344.9L1173.6 344.2L1174.3 343.5L1175.0 342.7L1175.8 342.1L1176.5 341.4L1177.3 340.7L1178.0 340.2L1178.8 339.6L1179.5 339.0L1180.3 338.5L1181.0 338.0L1181.8 337.6L1182.5 337.2L1183.2 336.8L1184.0 336.5L1184.7 336.2L1185.5 336.0L1186.2 335.8L1187.0 335.6L1187.7 335.5L1188.5 335.4L1189.2 335.2L1190.0 335.1L1190.7 335.0L1191.5 334.8L1192.2 334.7L1192.9 334.5L1193.7 334.3L1194.4 334.2L1195.2 334.0L1195.9 333.9L1196.7 333.8L1197.4 333.7L1198.2 333.7L1198.9 333.8L1199.7 333.9L1200.4 334.1L1201.1 334.4L1201.9 334.7L1202.6 335.1L1203.4 335.6L1204.1 336.1L1204.9 336.6L1205.6 337.1L1206.4 337.7L1207.1 338.3L1207.9 338.9L1208.6 339.5L1209.4 340.2L1210.1 340.8L1210.8 341.5L1211.6 342.2L1212.3 342.9L1213.1 343.5L1213.8 344.2L1214.6 344.9L1215.3 345.6L1216.1 346.3L1216.8 347.0L1217.6 347.7L1218.3 348.4L1219.0 349.0L1219.8 349.7L1220.5 350.4L1221.3 351.1L1222.0 351.8L1222.8 352.5L1223.5 353.1L1224.3 353.8L1225.0 354.5L1225.8 355.2L1226.5 355.8L1227.3 356.5L1228.0 357.2L1228.7 357.8L1229.5 358.5L1230.2 359.2L1231.0 359.8L1231.7 360.5L1232.5 361.1L1233.2 361.8L1234.0 362.4L1234.7 363.1L1235.5 363.7L1236.2 364.4L1236.9 365.0L1237.7 365.7L1238.4 366.3L1239.2 367.0L1239.9 367.7L1240.7 368.4L1241.4 369.1L1242.2 369.8L1242.9 370.5L1243.7 371.2L1244.4 371.9L1245.2 372.7L1245.9 373.4L1246.6 374.2L1247.4 375.0L1248.1 375.7L1248.9 376.5L1249.6 377.2L1250.4 378.0L1251.1 378.7L1251.9 379.5L1252.6 380.2L1253.4 380.9L1254.1 381.6L1254.8 382.3L1255.6 382.9L1256.3 383.6L1257.1 384.3L1257.8 385.0L1258.6 385.6L1259.3 386.3L1260.1 387.0L1260.8 387.7L1261.6 388.5L1262.3 389.2L1263.1 390.0L1263.8 390.8L1264.5 391.6L1265.3 392.5L1266.0 393.4" stroke="#ff8000" stroke-width="2.8" fill="none" stroke-linejoin="round" stroke-linecap="round"/>
<path d="M744.2 387.8L745.4 387.5L746.5 387.2L747.6 386.8L748.9 386.5L750.4 386.2L752.2 386.0L754.3 385.8L756.4 385.6L758.6 385.4L760.8 385.2L763.0 385.0L765.3 384.8L767.5 384.7L769.6 384.5L771.2 384.2L772.5 383.9L773.4 383.7L774.1 383.4L774.7 382.9L775.4 382.1L776.2 381.1L776.9 379.8L777.6 378.4L778.3 376.7L779.0 375.0L779.7 373.0L780.3 370.6L781.0 368.2L781.7 365.9L782.5 364.0L783.4 362.4L784.4 360.9L785.5 359.7L786.5 358.8L787.4 358.3L788.1 358.2L788.8 358.6L789.3 359.3L789.9 360.1L790.5 361.0L791.1 362.0L791.8 363.3L792.4 364.6L793.1 365.9L794.0 367.1L795.1 368.2L796.3 369.2L797.6 370.2L798.9 371.1L800.0 372.0L800.9 372.8L801.6 373.4L802.3 374.1L803.1 374.8L804.2 375.8L805.7 377.1L807.5 378.6L809.4 380.3L811.3 381.8L812.9 383.1L814.3 384.2L815.6 385.2L816.8 386.0L817.8 386.5L818.8 386.8L819.5 386.7L820.1 386.1L820.7 385.4L821.2 384.7L821.7 384.0L822.3 384.0L822.7 384.0L823.0 384.0L823.4 382.3L823.8 377.4L824.1 372.4L824.5 365.0L824.9 356.4L825.3 347.8L825.6 340.3L826.0 334.8L826.4 329.4L826.8 324.0L827.1 318.6L827.5 313.2L827.9 307.8L828.2 302.3L828.6 296.7L829.0 291.1L829.4 285.5L829.7 279.8L830.1 274.2L830.5 268.6L830.9 262.3L831.2 254.7L831.6 247.1L832.0 239.4L832.4 231.8L832.7 224.2L833.1 216.6L833.5 210.3L833.8 204.6L834.2 198.9L834.6 193.3L835.0 187.6L835.3 183.7L835.7 179.9L836.1 176.0L836.5 172.1L836.8 170.9L837.2 169.8L837.6 168.6L837.9 167.4L838.3 166.4L838.7 165.9L839.1 165.5L839.4 165.0L839.8 164.5L840.2 164.0L840.6 163.5L840.7 161.7L841.4 161.1L842.2 160.7L842.9 160.4L843.7 160.2L844.4 160.1L845.2 160.0L845.9 159.9L846.6 159.8L847.4 159.7L848.1 159.6L848.9 159.5L849.6 159.3L850.4 159.2L851.1 159.0L851.9 158.9L852.6 158.7L853.4 158.6L854.1 158.5L854.8 158.4L855.6 158.3L856.3 158.2L857.1 158.1L857.8 158.0L858.6 157.9L859.3 157.8L860.1 157.7L860.8 157.6L861.6 157.5L862.3 157.5L863.1 157.4L863.8 157.4L864.5 157.3L865.3 157.3L866.0 157.2L866.8 157.2L867.5 157.2L868.3 157.2L869.0 157.2L869.8 157.2L870.5 157.3L871.3 157.3L872.0 157.4L872.7 157.5L873.5 157.8L874.2 158.2L875.0 158.7L875.7 159.2L876.5 159.7L877.2 160.2L878.0 160.8L878.7 161.5L879.5 162.0L880.2 162.1L881.0 162.5L881.7 163.1L882.4 164.1L883.2 165.3L883.9 166.5L884.7 167.5L885.4 168.3L886.2 169.1L886.9 169.9L887.7 170.7L888.4 171.3L889.2 171.8L889.9 172.0L890.6 172.4L891.4 172.6L892.1 172.6L892.9 172.4L893.6 172.1L894.4 171.8L895.1 171.3L895.9 170.8L896.6 170.1L897.4 169.3L898.1 168.5L898.9 167.8L899.6 166.9L900.3 166.1L901.1 165.2L901.8 164.3L902.6 163.4L903.3 162.5L904.1 161.6L904.8 160.9L905.6 160.1L906.3 159.5L907.1 158.9L907.8 158.5L908.5 158.0L909.3 157.7L910.0 157.3L910.8 157.1L911.5 156.8L912.3 156.7L913.0 156.5L913.8 156.4L914.5 156.4L915.3 156.5L916.0 156.6L916.8 156.7L917.5 156.9L918.2 157.1L919.0 157.4L919.7 157.7L920.5 158.0L921.2 158.3L922.0 158.7L922.7 159.0L923.5 159.4L924.2 159.7L925.0 160.1L925.7 160.6L926.4 161.2L927.2 161.9L927.9 162.9L928.7 164.1L929.4 165.5L930.2 167.0L930.9 168.8L931.7 170.5L932.4 172.1L933.2 173.8L933.9 175.5L934.6 177.6L935.4 180.6L936.1 183.9L936.9 187.3L937.6 190.4L938.4 193.0L939.1 194.8L939.9 195.9L940.6 196.2L941.4 196.0L942.1 195.8L942.9 195.7L943.6 195.8L944.3 195.8L945.1 195.7L945.8 195.5L946.6 195.0L947.3 195.0L948.1 195.0L948.8 194.9L949.6 194.8L950.3 194.6L951.1 194.4L951.8 194.3L952.5 194.1L953.3 193.9L954.0 193.7L954.8 193.6L955.5 193.4L956.3 193.1L957.0 193.0L957.8 192.9L958.5 192.8L959.3 192.7L960.0 192.6L960.8 192.6L961.5 192.5L962.2 192.4L963.0 192.5L963.7 192.5L964.5 192.7L965.2 192.9L966.0 193.0L966.7 193.2L967.5 193.4L968.2 193.7L969.0 194.1L969.7 194.5L970.4 195.1L971.2 195.8L971.9 196.5L972.7 197.5L973.4 198.6L974.2 200.0L974.9 201.6L975.7 203.3L976.4 205.1L977.2 206.9L977.9 208.8L978.7 210.8L979.4 212.9L980.1 215.1L980.9 217.4L981.6 219.7L982.4 222.1L983.1 224.5L983.9 226.9L984.6 229.5L985.4 232.1L986.1 234.9L986.9 237.8L987.6 240.9L988.3 244.3L989.1 247.9L989.8 251.5L990.6 255.1L991.3 258.6L992.1 261.9L992.8 265.2L993.6 268.4L994.3 271.7L995.1 274.9L995.8 278.2L996.6 281.5L997.3 284.7L998.0 288.0L998.8 291.2L999.5 294.5L1000.3 297.8L1001.0 301.2L1001.8 304.6L1002.5 308.1L1003.3 311.5L1004.0 315.0L1004.8 318.5L1005.5 322.0L1006.2 325.6L1007.0 329.3L1007.7 333.0L1008.5 337.1L1009.2 342.0L1010.0 348.2L1010.7 354.1L1011.5 357.6L1012.2 359.5L1013.0 360.5L1013.7 360.8L1014.5 360.6L1015.2 360.2L1015.9 359.7L1016.7 359.1L1017.4 358.3L1018.2 357.4L1018.9 356.3L1019.7 355.0L1020.4 353.7L1021.2 352.3L1021.9 350.8L1022.7 349.2L1023.4 347.6L1024.1 345.8L1024.9 344.1L1025.6 342.2L1026.4 340.4L1027.1 338.6L1027.9 336.7L1028.6 334.9L1029.4 333.0L1030.1 331.2L1030.9 329.4L1031.6 327.7L1032.3 325.9L1033.1 324.1L1033.8 322.4L1034.6 320.6L1035.3 318.9L1036.1 317.1L1036.8 315.3L1037.6 313.6L1038.3 311.9L1039.1 310.1L1039.8 308.4L1040.6 306.7L1041.3 305.0L1042.0 303.2L1042.8 301.5L1043.5 299.7L1044.3 297.8L1045.0 296.0L1045.8 294.2L1046.5 292.4L1047.3 290.7L1048.0 289.0L1048.8 287.4L1049.5 285.8L1050.2 284.4L1051.0 283.2L1051.7 282.0L1052.5 281.0L1053.2 280.1L1054.0 279.3L1054.7 278.6L1055.5 278.0L1056.2 277.4L1057.0 276.9L1057.7 276.5L1058.5 276.1L1059.2 275.8L1059.9 275.4L1060.7 275.2L1061.4 274.9L1062.2 274.7L1062.9 274.5L1063.7 274.4L1064.4 274.3L1065.2 274.2L1065.9 274.2L1066.7 274.3L1067.4 274.4L1068.1 274.6L1068.9 274.8L1069.6 275.1L1070.4 275.4L1071.1 275.7L1071.9 276.0L1072.6 276.4L1073.4 276.9L1074.1 277.3L1074.9 277.8L1075.6 278.4L1076.4 278.9L1077.1 279.6L1077.8 280.3L1078.6 281.0L1079.3 281.8L1080.1 282.6L1080.8 283.6L1081.6 284.8L1082.3 286.1L1083.1 287.4L1083.8 288.8L1084.6 290.2L1085.3 291.5L1086.0 292.7L1086.8 293.7L1087.5 294.5L1088.3 295.3L1089.0 296.0L1089.8 296.6L1090.5 297.2L1091.3 297.7L1092.0 298.1L1092.8 298.6L1093.5 298.9L1094.3 299.2L1095.0 299.1L1095.7 298.4L1096.5 297.7L1097.2 297.8L1098.0 299.0L1098.7 300.6L1099.5 302.4L1100.2 304.2L1101.0 305.9L1101.7 307.7L1102.5 309.4L1103.2 311.0L1103.9 312.6L1104.7 314.3L1105.4 315.9L1106.2 317.5L1106.9 319.0L1107.7 320.6L1108.4 322.2L1109.2 323.7L1109.9 325.3L1110.7 326.8L1111.4 328.2L1112.2 329.6L1112.9 331.1L1113.6 332.6L1114.4 334.1L1115.1 335.7L1115.9 337.4L1116.6 339.0L1117.4 340.7L1118.1 342.4L1118.9 344.0L1119.6 345.7L1120.4 347.4L1121.1 349.1L1121.8 350.8L1122.6 352.5L1123.3 354.2L1124.1 355.9L1124.8 357.6L1125.6 359.3L1126.3 361.0L1127.1 362.7L1127.8 364.4L1128.6 366.2L1129.3 367.9L1130.0 369.7L1130.8 371.4L1131.5 373.2L1132.3 374.9L1133.0 376.7L1133.8 378.4L1134.5 380.1L1135.3 381.8L1136.0 383.4L1136.8 385.0L1137.5 386.5L1138.3 387.8L1139.0 388.7L1139.7 389.0L1140.5 388.7L1141.2 387.9L1142.0 386.8L1142.7 385.8L1143.5 385.0L1144.2 384.4L1145.0 383.8L1145.7 383.2L1146.5 382.5L1147.2 381.8L1147.9 381.1L1148.7 380.4L1149.4 379.6L1150.2 378.9L1150.9 378.1L1151.7 377.3L1152.4 376.6L1153.2 375.8L1153.9 375.0L1154.7 374.2L1155.4 373.4L1156.2 372.6L1156.9 371.7L1157.6 370.9L1158.4 370.0L1159.1 369.2L1159.9 368.3L1160.6 367.5L1161.4 366.6L1162.1 365.8L1162.9 364.9L1163.6 364.1L1164.4 363.3L1165.1 362.5L1165.8 361.7L1166.6 360.9L1167.3 360.2L1168.1 359.5L1168.8 358.8L1169.6 358.1L1170.3 357.4L1171.1 356.7L1171.8 356.0L1172.6 355.4L1173.3 354.7L1174.1 354.1L1174.8 353.4L1175.5 352.8L1176.3 352.2L1177.0 351.7L1177.8 351.2L1178.5 350.7L1179.3 350.2L1180.0 349.7L1180.8 349.2L1181.5 348.8L1182.3 348.5L1183.0 348.1L1183.7 347.8L1184.5 347.6L1185.2 347.4L1186.0 347.2L1186.7 347.0L1187.5 346.9L1188.2 346.7L1189.0 346.6L1189.7 346.5L1190.5 346.3L1191.2 346.2L1192.0 346.0L1192.7 345.9L1193.4 345.7L1194.2 345.6L1194.9 345.4L1195.7 345.3L1196.4 345.1L1197.2 345.0L1197.9 345.0L1198.7 345.0L1199.4 345.0L1200.2 345.1L1200.9 345.2L1201.6 345.4L1202.4 345.6L1203.1 345.9L1203.9 346.2L1204.6 346.5L1205.4 346.8L1206.1 347.2L1206.9 347.6L1207.6 348.0L1208.4 348.4L1209.1 348.8L1209.8 349.3L1210.6 349.7L1211.3 350.2L1212.1 350.7L1212.8 351.2L1213.6 351.6L1214.3 352.1L1215.1 352.6L1215.8 353.1L1216.6 353.6L1217.3 354.1L1218.1 354.5L1218.8 355.0L1219.5 355.5L1220.3 356.0L1221.0 356.5L1221.8 356.9L1222.5 357.4L1223.3 357.9L1224.0 358.4L1224.8 358.8L1225.5 359.3L1226.3 359.8L1227.0 360.2L1227.7 360.7L1228.5 361.2L1229.2 361.6L1230.0 362.1L1230.7 362.5L1231.5 363.0L1232.2 363.4L1233.0 363.9L1233.7 364.3L1234.5 364.7L1235.2 365.2L1236.0 365.6L1236.7 366.1L1237.4 366.5L1238.2 367.0L1238.9 367.5L1239.7 367.9L1240.4 368.4L1241.2 368.9L1241.9 369.4L1242.7 369.9L1243.4 370.4L1244.2 370.9L1244.9 371.5L1245.6 372.0L1246.4 372.6L1247.1 373.1L1247.9 373.7L1248.6 374.2L1249.4 374.8L1250.1 375.3L1250.9 375.8L1251.6 376.4L1252.4 376.9L1253.1 377.4L1253.9 377.9L1254.6 378.4L1255.3 378.9L1256.1 379.3L1256.8 379.8L1257.6 380.2L1258.3 380.7L1259.1 381.2L1259.8 381.7L1260.6 382.2L1261.3 382.7L1262.1 383.3L1262.8 383.8L1263.5 384.4L1264.3 385.0L1265.0 385.6L1265.8 386.3L1266.5 387.0" stroke="#8000ff" stroke-width="2.8" fill="none" stroke-linejoin="round" stroke-linecap="round"/>
<path d="M744.2 395.1L745.4 394.7L746.5 394.3L747.6 393.8L748.9 393.4L750.4 393.0L752.2 392.6L754.2 392.1L756.3 391.7L758.5 391.2L760.8 390.9L763.3 390.7L766.1 390.6L768.8 390.5L771.3 390.3L773.3 389.9L774.6 389.4L775.4 388.8L776.0 388.1L776.4 387.2L777.0 386.0L777.7 384.6L778.4 382.9L779.1 381.0L779.8 379.0L780.5 377.0L781.2 374.8L781.9 372.4L782.6 370.0L783.3 367.8L784.0 366.0L784.7 364.5L785.4 363.2L786.1 362.2L786.7 361.6L787.4 361.2L788.0 361.4L788.6 362.0L789.2 362.9L789.9 363.9L790.5 365.0L791.1 366.1L791.5 367.3L792.1 368.7L792.9 370.1L794.0 371.5L795.6 373.0L797.7 374.7L799.9 376.3L802.1 378.0L804.2 379.5L806.1 380.9L807.9 382.3L809.7 383.7L811.4 384.9L812.9 386.0L814.3 387.0L815.6 388.0L816.8 388.8L817.8 389.4L818.8 389.7L819.5 389.6L820.1 389.2L820.7 388.7L821.2 388.0L821.7 387.5L822.3 387.5L822.7 387.5L823.0 387.5L823.4 386.1L823.8 381.8L824.1 377.5L824.5 371.1L824.9 363.7L825.3 356.3L825.6 349.7L826.0 345.1L826.4 340.4L826.8 335.7L827.1 331.0L827.5 326.4L827.9 321.7L828.2 317.0L828.6 312.2L829.0 307.3L829.4 302.4L829.7 297.6L830.1 292.7L830.5 287.9L830.9 282.4L831.2 275.9L831.6 269.3L832.0 262.7L832.4 256.2L832.7 249.6L833.1 243.0L833.5 237.5L833.8 232.7L834.2 227.8L834.6 222.9L835.0 218.0L835.3 214.6L835.7 211.3L836.1 208.0L836.5 204.6L836.8 203.6L837.2 202.6L837.6 201.6L837.9 200.5L838.3 199.7L838.7 199.3L839.1 198.9L839.4 198.4L839.8 198.0L840.2 197.6L840.6 197.1L840.7 195.4L841.4 194.8L842.2 194.4L842.9 194.1L843.7 193.8L844.4 193.6L845.2 193.4L845.9 193.2L846.6 193.0L847.4 192.9L848.1 192.6L848.9 192.4L849.6 192.2L850.4 191.9L851.1 191.7L851.9 191.5L852.6 191.3L853.4 191.1L854.1 190.9L854.8 190.7L855.6 190.5L856.3 190.3L857.1 190.1L857.8 189.9L858.6 189.8L859.3 189.6L860.1 189.4L860.8 189.2L861.6 189.1L862.3 189.0L863.1 188.9L863.8 188.9L864.5 188.8L865.3 188.8L866.0 188.7L866.8 188.7L867.5 188.7L868.3 188.7L869.0 188.7L869.8 188.7L870.5 188.7L871.3 188.8L872.0 188.8L872.7 188.9L873.5 188.9L874.2 189.0L875.0 189.0L875.7 189.1L876.5 189.2L877.2 189.3L878.0 189.5L878.7 189.8L879.5 190.3L880.2 191.2L881.0 192.3L881.7 193.6L882.4 195.3L883.2 197.1L883.9 198.9L884.7 200.6L885.4 202.1L886.2 203.6L886.9 205.1L887.7 206.5L888.4 207.8L889.2 209.0L889.9 210.0L890.6 210.1L891.4 209.9L892.1 209.6L892.9 209.2L893.6 208.7L894.4 208.1L895.1 207.5L895.9 206.7L896.6 205.8L897.4 204.9L898.1 203.9L898.9 203.0L899.6 202.0L900.3 201.0L901.1 199.9L901.8 198.9L902.6 197.8L903.3 196.8L904.1 195.8L904.8 194.8L905.6 193.9L906.3 193.1L907.1 192.3L907.8 191.6L908.5 191.0L909.3 190.4L910.0 189.8L910.8 189.3L911.5 188.8L912.3 188.4L913.0 188.0L913.8 187.6L914.5 187.5L915.3 187.6L916.0 187.7L916.8 187.9L917.5 188.1L918.2 188.3L919.0 188.5L919.7 188.8L920.5 189.1L921.2 189.4L922.0 189.8L922.7 190.1L923.5 190.4L924.2 190.8L925.0 191.1L925.7 191.6L926.4 192.1L927.2 192.8L927.9 193.7L928.7 194.7L929.4 196.0L930.2 197.4L930.9 198.9L931.7 200.6L932.4 202.5L933.2 204.5L933.9 206.5L934.6 208.9L935.4 211.9L936.1 215.3L936.9 218.7L937.6 222.0L938.4 224.7L939.1 226.8L939.9 228.3L940.6 229.1L941.4 229.5L942.1 229.8L942.9 230.3L943.6 231.0L944.3 231.5L945.1 232.0L945.8 232.3L946.6 232.5L947.3 232.3L948.1 232.1L948.8 231.9L949.6 231.6L950.3 231.3L951.1 230.9L951.8 230.6L952.5 230.3L953.3 229.9L954.0 229.6L954.8 229.3L955.5 228.9L956.3 228.6L957.0 228.3L957.8 228.0L958.5 227.8L959.3 227.5L960.0 227.2L960.8 227.0L961.5 226.7L962.2 226.5L963.0 226.4L963.7 226.2L964.5 226.2L965.2 226.2L966.0 226.2L966.7 226.3L967.5 226.5L968.2 226.7L969.0 227.0L969.7 227.4L970.4 227.9L971.2 228.4L971.9 229.1L972.7 229.9L973.4 230.8L974.2 232.0L974.9 233.3L975.7 234.7L976.4 236.2L977.2 237.7L977.9 239.3L978.7 241.0L979.4 242.8L980.1 244.6L980.9 246.6L981.6 248.5L982.4 250.5L983.1 252.5L983.9 254.6L984.6 256.7L985.4 258.9L986.1 261.3L986.9 263.7L987.6 266.4L988.3 269.2L989.1 272.2L989.8 275.3L990.6 278.3L991.3 281.3L992.1 284.1L992.8 286.8L993.6 289.5L994.3 292.3L995.1 295.0L995.8 297.8L996.6 300.5L997.3 303.3L998.0 306.0L998.8 308.7L999.5 311.5L1000.3 314.3L1001.0 317.2L1001.8 320.0L1002.5 322.9L1003.3 325.8L1004.0 328.8L1004.8 331.7L1005.5 334.7L1006.2 337.7L1007.0 340.8L1007.7 344.0L1008.5 347.4L1009.2 351.5L1010.0 356.8L1010.7 361.8L1011.5 364.7L1012.2 366.3L1013.0 367.2L1013.7 367.5L1014.5 367.4L1015.2 367.1L1015.9 366.8L1016.7 366.4L1017.4 365.8L1018.2 365.1L1018.9 364.2L1019.7 363.3L1020.4 362.3L1021.2 361.2L1021.9 360.0L1022.7 358.8L1023.4 357.5L1024.1 356.2L1024.9 354.8L1025.6 353.4L1026.4 351.9L1027.1 350.5L1027.9 349.0L1028.6 347.6L1029.4 346.2L1030.1 344.8L1030.9 343.4L1031.6 342.0L1032.3 340.6L1033.1 339.2L1033.8 337.9L1034.6 336.5L1035.3 335.1L1036.1 333.8L1036.8 332.4L1037.6 331.0L1038.3 329.7L1039.1 328.3L1039.8 327.0L1040.6 325.7L1041.3 324.3L1042.0 323.0L1042.8 321.6L1043.5 320.2L1044.3 318.8L1045.0 317.3L1045.8 315.9L1046.5 314.5L1047.3 313.1L1048.0 311.8L1048.8 310.6L1049.5 309.4L1050.2 308.3L1051.0 307.4L1051.7 306.4L1052.5 305.7L1053.2 305.0L1054.0 304.5L1054.7 303.9L1055.5 303.5L1056.2 303.1L1057.0 302.8L1057.7 302.5L1058.5 302.2L1059.2 302.0L1059.9 301.8L1060.7 301.6L1061.4 301.5L1062.2 301.4L1062.9 301.3L1063.7 301.2L1064.4 301.2L1065.2 301.1L1065.9 301.1L1066.7 301.2L1067.4 301.3L1068.1 301.5L1068.9 301.7L1069.6 301.9L1070.4 302.1L1071.1 302.4L1071.9 302.7L1072.6 303.0L1073.4 303.4L1074.1 303.7L1074.9 304.2L1075.6 304.6L1076.4 305.1L1077.1 305.6L1077.8 306.2L1078.6 306.7L1079.3 307.4L1080.1 308.1L1080.8 308.9L1081.6 309.8L1082.3 310.9L1083.1 312.0L1083.8 313.1L1084.6 314.2L1085.3 315.2L1086.0 316.2L1086.8 317.0L1087.5 317.7L1088.3 318.3L1089.0 318.8L1089.8 319.4L1090.5 319.8L1091.3 320.2L1092.0 320.6L1092.8 321.0L1093.5 321.3L1094.3 321.5L1095.0 321.4L1095.7 320.9L1096.5 320.3L1097.2 320.4L1098.0 321.4L1098.7 322.7L1099.5 324.1L1100.2 325.5L1101.0 327.0L1101.7 328.4L1102.5 329.7L1103.2 331.0L1103.9 332.3L1104.7 333.6L1105.4 334.9L1106.2 336.2L1106.9 337.5L1107.7 338.7L1108.4 340.0L1109.2 341.2L1109.9 342.5L1110.7 343.7L1111.4 344.8L1112.2 346.0L1112.9 347.2L1113.6 348.4L1114.4 349.6L1115.1 350.9L1115.9 352.2L1116.6 353.5L1117.4 354.9L1118.1 356.2L1118.9 357.6L1119.6 358.9L1120.4 360.3L1121.1 361.6L1121.8 363.0L1122.6 364.3L1123.3 365.7L1124.1 367.1L1124.8 368.4L1125.6 369.8L1126.3 371.1L1127.1 372.5L1127.8 373.9L1128.6 375.3L1129.3 376.7L1130.0 378.1L1130.8 379.5L1131.5 380.9L1132.3 382.3L1133.0 383.7L1133.8 385.1L1134.5 386.5L1135.3 387.8L1136.0 389.1L1136.8 390.4L1137.5 391.6L1138.3 392.6L1139.0 393.3L1139.7 393.5L1140.5 393.3L1141.2 392.6L1142.0 391.8L1142.7 391.0L1143.5 390.3L1144.2 389.8L1145.0 389.4L1145.7 388.8L1146.5 388.3L1147.2 387.8L1147.9 387.2L1148.7 386.6L1149.4 386.0L1150.2 385.4L1150.9 384.8L1151.7 384.2L1152.4 383.6L1153.2 383.0L1153.9 382.3L1154.7 381.7L1155.4 381.1L1156.2 380.4L1156.9 379.7L1157.6 379.1L1158.4 378.4L1159.1 377.7L1159.9 377.0L1160.6 376.3L1161.4 375.6L1162.1 375.0L1162.9 374.3L1163.6 373.6L1164.4 373.0L1165.1 372.3L1165.8 371.7L1166.6 371.1L1167.3 370.5L1168.1 369.9L1168.8 369.4L1169.6 368.8L1170.3 368.3L1171.1 367.7L1171.8 367.2L1172.6 366.7L1173.3 366.1L1174.1 365.6L1174.8 365.1L1175.5 364.6L1176.3 364.1L1177.0 363.7L1177.8 363.3L1178.5 362.9L1179.3 362.5L1180.0 362.1L1180.8 361.7L1181.5 361.4L1182.3 361.1L1183.0 360.8L1183.7 360.6L1184.5 360.4L1185.2 360.2L1186.0 360.0L1186.7 359.9L1187.5 359.7L1188.2 359.6L1189.0 359.5L1189.7 359.4L1190.5 359.3L1191.2 359.1L1192.0 359.0L1192.7 358.9L1193.4 358.7L1194.2 358.6L1194.9 358.5L1195.7 358.3L1196.4 358.2L1197.2 358.1L1197.9 358.1L1198.7 358.1L1199.4 358.2L1200.2 358.3L1200.9 358.5L1201.6 358.7L1202.4 358.9L1203.1 359.2L1203.9 359.6L1204.6 359.9L1205.4 360.3L1206.1 360.7L1206.9 361.1L1207.6 361.6L1208.4 362.0L1209.1 362.4L1209.8 362.9L1210.6 363.3L1211.3 363.8L1212.1 364.3L1212.8 364.8L1213.6 365.2L1214.3 365.7L1215.1 366.2L1215.8 366.7L1216.6 367.1L1217.3 367.6L1218.1 368.1L1218.8 368.6L1219.5 369.0L1220.3 369.5L1221.0 370.0L1221.8 370.5L1222.5 370.9L1223.3 371.4L1224.0 371.9L1224.8 372.3L1225.5 372.8L1226.3 373.3L1227.0 373.7L1227.7 374.2L1228.5 374.7L1229.2 375.1L1230.0 375.6L1230.7 376.0L1231.5 376.5L1232.2 376.9L1233.0 377.4L1233.7 377.8L1234.5 378.3L1235.2 378.7L1236.0 379.2L1236.7 379.6L1237.4 380.1L1238.2 380.6L1238.9 381.0L1239.7 381.5L1240.4 382.0L1241.2 382.5L1241.9 382.9L1242.7 383.4L1243.4 383.9L1244.2 384.4L1244.9 384.9L1245.6 385.5L1246.4 386.0L1247.1 386.5L1247.9 387.0L1248.6 387.5L1249.4 388.1L1250.1 388.6L1250.9 389.1L1251.6 389.6L1252.4 390.1L1253.1 390.6L1253.9 391.1L1254.6 391.6L1255.3 392.0L1256.1 392.5L1256.8 393.0L1257.6 393.4L1258.3 393.9L1259.1 394.4L1259.8 394.8L1260.6 395.3L1261.3 395.8L1262.1 396.4L1262.8 396.9L1263.5 397.4L1264.3 398.0L1265.0 398.6L1265.8 399.2L1266.5 399.8" stroke="#ff0080" stroke-width="2.8" fill="none" stroke-linejoin="round" stroke-linecap="round"/>
<path d="M744.2 392.5L746.4 391.8L748.6 391.2L750.7 390.5L753.0 389.9L755.6 389.4L758.6 389.1L762.1 389.0L765.6 388.9L768.7 388.7L771.2 388.3L772.9 387.8L774.0 387.2L774.7 386.4L775.3 385.4L776.0 384.0L776.9 382.1L777.7 379.9L778.5 377.4L779.2 374.7L780.0 372.0L780.7 369.1L781.4 365.9L782.1 362.6L782.8 359.6L783.5 357.0L784.3 354.7L785.0 352.6L785.8 350.8L786.6 349.5L787.4 348.9L788.1 349.1L788.8 350.0L789.5 351.4L790.2 353.1L791.0 354.7L791.8 356.4L792.6 358.3L793.5 360.4L794.4 362.4L795.4 364.2L796.5 365.8L797.6 367.3L798.7 368.7L800.0 370.1L801.2 371.5L802.6 373.0L804.0 374.4L805.5 375.9L807.0 377.3L808.5 378.8L810.0 380.3L811.6 381.9L813.2 383.5L814.6 384.9L815.8 386.0L816.7 386.7L817.3 387.2L817.8 387.5L818.2 387.6L818.8 387.5L819.3 387.2L819.9 386.7L820.5 386.0L821.1 385.3L821.7 384.6L822.3 384.6L822.7 384.6L823.0 384.6L823.4 382.8L823.8 377.5L824.1 372.1L824.5 364.2L824.9 354.9L825.3 345.6L825.6 337.5L826.0 331.7L826.4 325.8L826.8 320.0L827.1 314.2L827.5 308.4L827.9 302.5L828.2 296.7L828.6 290.6L829.0 284.6L829.4 278.5L829.7 272.5L830.1 266.4L830.5 260.3L830.9 253.6L831.2 245.4L831.6 237.2L832.0 229.0L832.4 220.8L832.7 212.6L833.1 204.4L833.5 197.6L833.8 191.5L834.2 185.4L834.6 179.2L835.0 173.1L835.3 169.0L835.7 164.8L836.1 160.7L836.5 156.5L836.8 155.2L837.2 154.0L837.6 152.7L837.9 151.4L838.3 150.4L838.7 149.9L839.1 149.3L839.4 148.8L839.8 148.2L840.2 147.7L840.6 147.2L840.7 145.3L841.4 144.7L842.2 144.3L842.9 144.1L843.7 143.9L844.4 143.8L845.2 143.7L845.9 143.6L846.6 143.5L847.4 143.5L848.1 143.3L848.9 143.2L849.6 143.1L850.4 142.9L851.1 142.8L851.9 142.7L852.6 142.5L853.4 142.4L854.1 142.3L854.8 142.2L855.6 142.1L856.3 142.0L857.1 142.0L857.8 141.9L858.6 141.8L859.3 141.7L860.1 141.7L860.8 141.6L861.6 141.5L862.3 141.4L863.1 141.3L863.8 141.2L864.5 141.1L865.3 141.0L866.0 141.0L866.8 140.9L867.5 140.8L868.3 140.8L869.0 140.7L869.8 140.7L870.5 140.7L871.3 140.7L872.0 140.7L872.7 140.8L873.5 140.8L874.2 140.8L875.0 141.1L875.7 141.5L876.5 141.8L877.2 142.2L878.0 142.7L878.7 143.3L879.5 143.8L880.2 144.0L881.0 144.5L881.7 145.3L882.4 146.4L883.2 147.8L883.9 149.2L884.7 150.4L885.4 151.4L886.2 152.4L886.9 153.4L887.7 154.3L888.4 155.0L889.2 155.6L889.9 156.0L890.6 156.5L891.4 156.8L892.1 156.9L892.9 156.8L893.6 156.6L894.4 156.4L895.1 156.0L895.9 155.5L896.6 154.9L897.4 154.2L898.1 153.4L898.9 152.7L899.6 151.9L900.3 151.1L901.1 150.3L901.8 149.4L902.6 148.5L903.3 147.7L904.1 146.9L904.8 146.2L905.6 145.5L906.3 144.9L907.1 144.5L907.8 144.1L908.5 143.7L909.3 143.4L910.0 143.2L910.8 143.0L911.5 142.8L912.3 142.7L913.0 142.7L913.8 142.7L914.5 142.5L915.3 142.2L916.0 141.9L916.8 141.7L917.5 141.6L918.2 141.5L919.0 141.4L919.7 141.3L920.5 141.3L921.2 141.3L922.0 141.4L922.7 141.4L923.5 141.4L924.2 141.4L925.0 141.5L925.7 141.6L926.4 141.9L927.2 142.4L927.9 143.1L928.7 144.0L929.4 145.1L930.2 146.4L930.9 147.9L931.7 149.5L932.4 151.0L933.2 152.5L933.9 154.1L934.6 156.1L935.4 159.1L936.1 162.5L936.9 165.9L937.6 169.1L938.4 171.7L939.1 173.4L939.9 174.3L940.6 174.3L941.4 173.8L942.1 173.3L942.9 172.9L943.6 172.7L944.3 172.5L945.1 172.1L945.8 171.5L946.6 170.7L947.3 170.5L948.1 170.3L948.8 170.0L949.6 169.6L950.3 169.3L951.1 168.9L951.8 168.5L952.5 168.1L953.3 167.7L954.0 167.3L954.8 166.9L955.5 166.5L956.3 166.1L957.0 165.7L957.8 165.4L958.5 165.1L959.3 164.8L960.0 164.5L960.8 164.2L961.5 164.0L962.2 163.7L963.0 163.5L963.7 163.4L964.5 163.4L965.2 163.5L966.0 163.3L966.7 163.0L967.5 162.8L968.2 162.8L969.0 162.8L969.7 162.9L970.4 163.2L971.2 163.6L971.9 164.1L972.7 164.8L973.4 165.8L974.2 167.0L974.9 168.5L975.7 170.1L976.4 171.8L977.2 173.6L977.9 175.4L978.7 177.4L979.4 179.5L980.1 181.7L980.9 184.0L981.6 186.4L982.4 188.8L983.1 191.3L983.9 193.8L984.6 196.4L985.4 199.2L986.1 202.1L986.9 205.1L987.6 208.5L988.3 212.1L989.1 216.0L989.8 219.9L990.6 223.8L991.3 227.6L992.1 231.1L992.8 234.6L993.6 238.1L994.3 241.5L995.1 245.0L995.8 248.5L996.6 252.0L997.3 255.5L998.0 259.0L998.8 262.5L999.5 266.0L1000.3 269.6L1001.0 273.2L1001.8 276.8L1002.5 280.5L1003.3 284.3L1004.0 288.0L1004.8 291.8L1005.5 295.6L1006.2 299.5L1007.0 303.4L1007.7 307.6L1008.5 312.0L1009.2 317.5L1010.0 324.5L1010.7 331.2L1011.5 334.9L1012.2 337.4L1013.0 338.9L1013.7 339.5L1014.5 339.4L1015.2 339.1L1015.9 338.6L1016.7 338.0L1017.4 337.2L1018.2 336.1L1018.9 334.8L1019.7 333.4L1020.4 331.8L1021.2 330.2L1021.9 328.4L1022.7 326.5L1023.4 324.5L1024.1 322.4L1024.9 320.3L1025.6 318.1L1026.4 315.9L1027.1 313.6L1027.9 311.4L1028.6 309.1L1029.4 306.9L1030.1 304.7L1030.9 302.5L1031.6 300.4L1032.3 298.3L1033.1 296.1L1033.8 294.0L1034.6 291.9L1035.3 289.7L1036.1 287.6L1036.8 285.5L1037.6 283.4L1038.3 281.3L1039.1 279.2L1039.8 277.1L1040.6 275.0L1041.3 273.0L1042.0 270.9L1042.8 268.7L1043.5 266.5L1044.3 264.3L1045.0 262.1L1045.8 259.9L1046.5 257.7L1047.3 255.6L1048.0 253.6L1048.8 251.6L1049.5 249.8L1050.2 248.1L1051.0 246.7L1051.7 245.3L1052.5 244.2L1053.2 243.2L1054.0 242.4L1054.7 241.6L1055.5 241.0L1056.2 240.5L1057.0 240.0L1057.7 239.7L1058.5 239.3L1059.2 239.1L1059.9 238.9L1060.7 238.7L1061.4 238.6L1062.2 238.5L1062.9 238.4L1063.7 238.5L1064.4 238.3L1065.2 238.2L1065.9 238.2L1066.7 238.2L1067.4 238.4L1068.1 238.6L1068.9 238.9L1069.6 239.2L1070.4 239.5L1071.1 239.9L1071.9 240.3L1072.6 240.8L1073.4 241.3L1074.1 241.9L1074.9 242.5L1075.6 243.2L1076.4 243.9L1077.1 244.7L1077.8 245.5L1078.6 246.4L1079.3 247.4L1080.1 248.5L1080.8 249.7L1081.6 251.2L1082.3 252.8L1083.1 254.5L1083.8 256.3L1084.6 258.0L1085.3 259.6L1086.0 261.1L1086.8 262.4L1087.5 263.4L1088.3 264.3L1089.0 265.2L1089.8 266.0L1090.5 266.7L1091.3 267.3L1092.0 267.9L1092.8 268.4L1093.5 268.8L1094.3 269.1L1095.0 269.0L1095.7 268.1L1096.5 267.1L1097.2 267.2L1098.0 268.8L1098.7 271.0L1099.5 273.4L1100.2 275.7L1101.0 278.1L1101.7 280.4L1102.5 282.7L1103.2 284.9L1103.9 287.1L1104.7 289.2L1105.4 291.4L1106.2 293.5L1106.9 295.6L1107.7 297.7L1108.4 299.9L1109.2 301.9L1109.9 304.0L1110.7 306.0L1111.4 308.0L1112.2 309.9L1112.9 311.9L1113.6 313.9L1114.4 316.0L1115.1 318.1L1115.9 320.3L1116.6 322.5L1117.4 324.7L1118.1 327.0L1118.9 329.2L1119.6 331.5L1120.4 333.7L1121.1 336.0L1121.8 338.3L1122.6 340.5L1123.3 342.8L1124.1 345.1L1124.8 347.3L1125.6 349.6L1126.3 351.9L1127.1 354.2L1127.8 356.5L1128.6 358.8L1129.3 361.1L1130.0 363.5L1130.8 365.8L1131.5 368.1L1132.3 370.5L1133.0 372.8L1133.8 375.1L1134.5 377.3L1135.3 379.6L1136.0 381.8L1136.8 383.9L1137.5 385.9L1138.3 387.5L1139.0 388.5L1139.7 388.9L1140.5 388.4L1141.2 387.2L1142.0 385.6L1142.7 384.2L1143.5 383.1L1144.2 382.1L1145.0 381.3L1145.7 380.3L1146.5 379.3L1147.2 378.3L1147.9 377.3L1148.7 376.2L1149.4 375.1L1150.2 374.0L1150.9 372.9L1151.7 371.8L1152.4 370.7L1153.2 369.5L1153.9 368.4L1154.7 367.3L1155.4 366.1L1156.2 364.9L1156.9 363.7L1157.6 362.5L1158.4 361.3L1159.1 360.0L1159.9 358.8L1160.6 357.6L1161.4 356.3L1162.1 355.1L1162.9 353.9L1163.6 352.7L1164.4 351.5L1165.1 350.4L1165.8 349.2L1166.6 348.2L1167.3 347.1L1168.1 346.0L1168.8 345.0L1169.6 344.0L1170.3 342.9L1171.1 341.9L1171.8 341.0L1172.6 340.0L1173.3 339.0L1174.1 338.1L1174.8 337.1L1175.5 336.2L1176.3 335.3L1177.0 334.4L1177.8 333.7L1178.5 332.9L1179.3 332.1L1180.0 331.4L1180.8 330.7L1181.5 330.1L1182.3 329.5L1183.0 328.9L1183.7 328.4L1184.5 327.9L1185.2 327.5L1186.0 327.1L1186.7 326.8L1187.5 326.5L1188.2 326.2L1189.0 325.9L1189.7 325.6L1190.5 325.3L1191.2 325.0L1192.0 324.7L1192.7 324.4L1193.4 324.0L1194.2 323.7L1194.9 323.4L1195.7 323.0L1196.4 322.8L1197.2 322.5L1197.9 322.4L1198.7 322.3L1199.4 322.3L1200.2 322.4L1200.9 322.6L1201.6 322.8L1202.4 323.1L1203.1 323.5L1203.9 324.0L1204.6 324.5L1205.4 325.0L1206.1 325.6L1206.9 326.2L1207.6 326.8L1208.4 327.5L1209.1 328.1L1209.8 328.8L1210.6 329.5L1211.3 330.2L1212.1 330.9L1212.8 331.6L1213.6 332.3L1214.3 333.1L1215.1 333.8L1215.8 334.5L1216.6 335.2L1217.3 335.9L1218.1 336.7L1218.8 337.4L1219.5 338.1L1220.3 338.8L1221.0 339.5L1221.8 340.3L1222.5 341.0L1223.3 341.7L1224.0 342.4L1224.8 343.1L1225.5 343.8L1226.3 344.5L1227.0 345.2L1227.7 345.9L1228.5 346.6L1229.2 347.3L1230.0 348.0L1230.7 348.6L1231.5 349.3L1232.2 350.0L1233.0 350.7L1233.7 351.3L1234.5 352.0L1235.2 352.7L1236.0 353.4L1236.7 354.0L1237.4 354.7L1238.2 355.4L1238.9 356.1L1239.7 356.8L1240.4 357.5L1241.2 358.3L1241.9 359.0L1242.7 359.8L1243.4 360.5L1244.2 361.3L1244.9 362.1L1245.6 362.9L1246.4 363.7L1247.1 364.5L1247.9 365.3L1248.6 366.1L1249.4 366.9L1250.1 367.7L1250.9 368.5L1251.6 369.3L1252.4 370.1L1253.1 370.8L1253.9 371.5L1254.6 372.3L1255.3 373.0L1256.1 373.7L1256.8 374.4L1257.6 375.1L1258.3 375.8L1259.1 376.5L1259.8 377.2L1260.6 378.0L1261.3 378.7L1262.1 379.6L1262.8 380.4L1263.5 381.2L1264.3 382.1L1265.0 383.0L1265.8 384.0L1266.5 385.0" stroke="#c0c0c0" stroke-width="2.8" fill="none" stroke-linejoin="round" stroke-linecap="round"/>
<line x1="77" y1="11.7" x2="77" y2="404.40000000000003" class="ax"/>
<line x1="76.2" y1="403.6" x2="618.8" y2="403.6" class="ax"/>
<line x1="69.80" y1="403.50" x2="77" y2="403.50" class="ax"/>
<text x="64.40" y="412.30" class="tk" text-anchor="end">0.0</text>
<line x1="73.40" y1="364.40" x2="77" y2="364.40" class="ax"/>
<line x1="69.80" y1="325.30" x2="77" y2="325.30" class="ax"/>
<text x="64.40" y="334.10" class="tk" text-anchor="end">0.2</text>
<line x1="73.40" y1="286.20" x2="77" y2="286.20" class="ax"/>
<line x1="69.80" y1="247.10" x2="77" y2="247.10" class="ax"/>
<text x="64.40" y="255.90" class="tk" text-anchor="end">0.4</text>
<line x1="73.40" y1="208.00" x2="77" y2="208.00" class="ax"/>
<line x1="69.80" y1="168.90" x2="77" y2="168.90" class="ax"/>
<text x="64.40" y="177.70" class="tk" text-anchor="end">0.6</text>
<line x1="73.40" y1="129.80" x2="77" y2="129.80" class="ax"/>
<line x1="69.80" y1="90.70" x2="77" y2="90.70" class="ax"/>
<text x="64.40" y="99.50" class="tk" text-anchor="end">0.8</text>
<line x1="73.40" y1="51.60" x2="77" y2="51.60" class="ax"/>
<line x1="69.80" y1="12.50" x2="77" y2="12.50" class="ax"/>
<text x="64.40" y="21.30" class="tk" text-anchor="end">1.0</text>
<line x1="115.00" y1="403.6" x2="115.00" y2="410.6" class="ax"/>
<text x="115.00" y="437.10" class="tk" text-anchor="middle">500</text>
<line x1="240.75" y1="403.6" x2="240.75" y2="410.6" class="ax"/>
<text x="240.75" y="437.10" class="tk" text-anchor="middle">1000</text>
<line x1="366.50" y1="403.6" x2="366.50" y2="410.6" class="ax"/>
<text x="366.50" y="437.10" class="tk" text-anchor="middle">1500</text>
<line x1="492.25" y1="403.6" x2="492.25" y2="410.6" class="ax"/>
<text x="492.25" y="437.10" class="tk" text-anchor="middle">2000</text>
<line x1="618.00" y1="403.6" x2="618.00" y2="410.6" class="ax"/>
<text x="618.00" y="437.10" class="tk" text-anchor="middle">2500</text>
<line x1="177.88" y1="403.6" x2="177.88" y2="407.1" class="ax"/>
<line x1="303.62" y1="403.6" x2="303.62" y2="407.1" class="ax"/>
<line x1="429.38" y1="403.6" x2="429.38" y2="407.1" class="ax"/>
<line x1="555.12" y1="403.6" x2="555.12" y2="407.1" class="ax"/>
<text x="348.70" y="471.2" class="lb" text-anchor="middle">Wavelength (nm)</text>
<text transform="translate(21.3,208.05) rotate(-90)" class="lb" text-anchor="middle">Reflectance</text>
<line x1="737.9" y1="14.799999999999999" x2="737.9" y2="407.6" class="ax"/>
<line x1="737.1" y1="406.8" x2="1272.8" y2="406.8" class="ax"/>
<line x1="730.70" y1="406.80" x2="737.9" y2="406.80" class="ax"/>
<text x="725.30" y="415.60" class="tk" text-anchor="end">0.0</text>
<line x1="734.30" y1="367.68" x2="737.9" y2="367.68" class="ax"/>
<line x1="730.70" y1="328.56" x2="737.9" y2="328.56" class="ax"/>
<text x="725.30" y="337.36" class="tk" text-anchor="end">0.2</text>
<line x1="734.30" y1="289.44" x2="737.9" y2="289.44" class="ax"/>
<line x1="730.70" y1="250.32" x2="737.9" y2="250.32" class="ax"/>
<text x="725.30" y="259.12" class="tk" text-anchor="end">0.4</text>
<line x1="734.30" y1="211.20" x2="737.9" y2="211.20" class="ax"/>
<line x1="730.70" y1="172.08" x2="737.9" y2="172.08" class="ax"/>
<text x="725.30" y="180.88" class="tk" text-anchor="end">0.6</text>
<line x1="734.30" y1="132.96" x2="737.9" y2="132.96" class="ax"/>
<line x1="730.70" y1="93.84" x2="737.9" y2="93.84" class="ax"/>
<text x="725.30" y="102.64" class="tk" text-anchor="end">0.8</text>
<line x1="734.30" y1="54.72" x2="737.9" y2="54.72" class="ax"/>
<line x1="730.70" y1="15.60" x2="737.9" y2="15.60" class="ax"/>
<text x="725.30" y="24.40" class="tk" text-anchor="end">1.0</text>
<line x1="774.80" y1="406.8" x2="774.80" y2="413.8" class="ax"/>
<text x="774.80" y="440.30" class="tk" text-anchor="middle">500</text>
<line x1="899.10" y1="406.8" x2="899.10" y2="413.8" class="ax"/>
<text x="899.10" y="440.30" class="tk" text-anchor="middle">1000</text>
<line x1="1023.40" y1="406.8" x2="1023.40" y2="413.8" class="ax"/>
<text x="1023.40" y="440.30" class="tk" text-anchor="middle">1500</text>
<line x1="1147.70" y1="406.8" x2="1147.70" y2="413.8" class="ax"/>
<text x="1147.70" y="440.30" class="tk" text-anchor="middle">2000</text>
<line x1="1272.00" y1="406.8" x2="1272.00" y2="413.8" class="ax"/>
<text x="1272.00" y="440.30" class="tk" text-anchor="middle">2500</text>
<line x1="836.95" y1="406.8" x2="836.95" y2="410.3" class="ax"/>
<line x1="961.25" y1="406.8" x2="961.25" y2="410.3" class="ax"/>
<line x1="1085.55" y1="406.8" x2="1085.55" y2="410.3" class="ax"/>
<line x1="1209.85" y1="406.8" x2="1209.85" y2="410.3" class="ax"/>
<text x="1006.15" y="471.2" class="lb" text-anchor="middle">Wavelength (nm)</text>
<text transform="translate(682.2,209.60) rotate(-90)" class="lb" text-anchor="middle">Reflectance</text>

<rect x="402.8" y="22.8" width="215" height="134.4" fill="#fff" stroke="#222" stroke-width="1.3"/>
<g class="lga">
<line x1="413" y1="41.4" x2="436.8" y2="41.4" stroke="#404040"/>
<line x1="413" y1="74" x2="436.8" y2="74" stroke="#e53935"/>
<line x1="413" y1="106.8" x2="436.8" y2="106.8" stroke="#1a66d2"/>
<line x1="413" y1="139.8" x2="436.8" y2="139.8" stroke="#2e9e5b"/>
</g>
<text class="la" x="449.5" y="50">Organic Brinjal</text>
<text class="la" x="449.5" y="82.7">Organic RS</text>
<text class="la" x="449.5" y="115.4">Brinjal</text>
<text class="la" x="449.5" y="148.1">RS</text>

<rect x="992.6" y="17.6" width="84.65" height="172.65" fill="#fff" stroke="#000" stroke-width="1.4"/>
<line x1="995.5" y1="33.75" x2="1027" y2="33.75" stroke="#000000" stroke-width="2.6" stroke-linecap="round"/>
<text class="lb1" x="1032" y="41.10">BN</text>
<line x1="995.5" y1="61.72" x2="1027" y2="61.72" stroke="#00ee00" stroke-width="2.6" stroke-linecap="round"/>
<text class="lb1" x="1032" y="69.20">C</text>
<line x1="995.5" y1="89.69" x2="1027" y2="89.69" stroke="#0000ee" stroke-width="2.6" stroke-linecap="round"/>
<text class="lb1" x="1032" y="97.30">G</text>
<line x1="995.5" y1="117.66" x2="1027" y2="117.66" stroke="#00eeee" stroke-width="2.6" stroke-linecap="round"/>
<text class="lb1" x="1032" y="125.40">GC</text>
<line x1="995.5" y1="145.63" x2="1027" y2="145.63" stroke="#ee00ee" stroke-width="2.6" stroke-linecap="round"/>
<text class="lb1" x="1032" y="153.50">BG</text>
<line x1="995.5" y1="173.60" x2="1027" y2="173.60" stroke="#eeee00" stroke-width="2.6" stroke-linecap="round"/>
<text class="lb1" x="1032" y="181.60">BoG</text>
<rect x="1112.5" y="15.7" width="108" height="272.55" fill="#fff" stroke="#000" stroke-width="1.4"/>
<line x1="1116" y1="32.40" x2="1171" y2="32.40" stroke="#808000" stroke-width="2.8" stroke-linecap="round"/>
<text class="lb2" x="1176.5" y="40.80">CF</text>
<line x1="1116" y1="62.35" x2="1171" y2="62.35" stroke="#000080" stroke-width="2.8" stroke-linecap="round"/>
<text class="lb2" x="1176.5" y="70.75">CB</text>
<line x1="1116" y1="92.30" x2="1171" y2="92.30" stroke="#800080" stroke-width="2.8" stroke-linecap="round"/>
<text class="lb2" x="1176.5" y="100.70">CM</text>
<line x1="1116" y1="122.25" x2="1171" y2="122.25" stroke="#008000" stroke-width="2.8" stroke-linecap="round"/>
<text class="lb2" x="1176.5" y="130.65">O</text>
<line x1="1116" y1="152.20" x2="1171" y2="152.20" stroke="#008080" stroke-width="2.8" stroke-linecap="round"/>
<text class="lb2" x="1176.5" y="160.60">R</text>
<line x1="1116" y1="182.15" x2="1171" y2="182.15" stroke="#ff8000" stroke-width="2.8" stroke-linecap="round"/>
<text class="lb2" x="1176.5" y="190.55">RG</text>
<line x1="1116" y1="212.10" x2="1171" y2="212.10" stroke="#8000ff" stroke-width="2.8" stroke-linecap="round"/>
<text class="lb2" x="1176.5" y="220.50">SG</text>
<line x1="1116" y1="242.05" x2="1171" y2="242.05" stroke="#ff0080" stroke-width="2.8" stroke-linecap="round"/>
<text class="lb2" x="1176.5" y="250.45">T</text>
<line x1="1116" y1="272.00" x2="1171" y2="272.00" stroke="#c0c0c0" stroke-width="2.8" stroke-linecap="round"/>
<text class="lb2" x="1176.5" y="280.40">WB</text>
<text class="pl" x="89" y="37.6">(</text><text class="pl it" x="100.3" y="37.3">a</text><text class="pl" x="118.6" y="37.6">)</text>
<text class="pl" x="745" y="33.1">(</text><text class="pl it" x="757" y="33.1" transform="translate(757 0) scale(0.8 1) translate(-757 0)">b</text><text class="pl" x="771.6" y="33.1">)</text>
</svg>
</body></html>
